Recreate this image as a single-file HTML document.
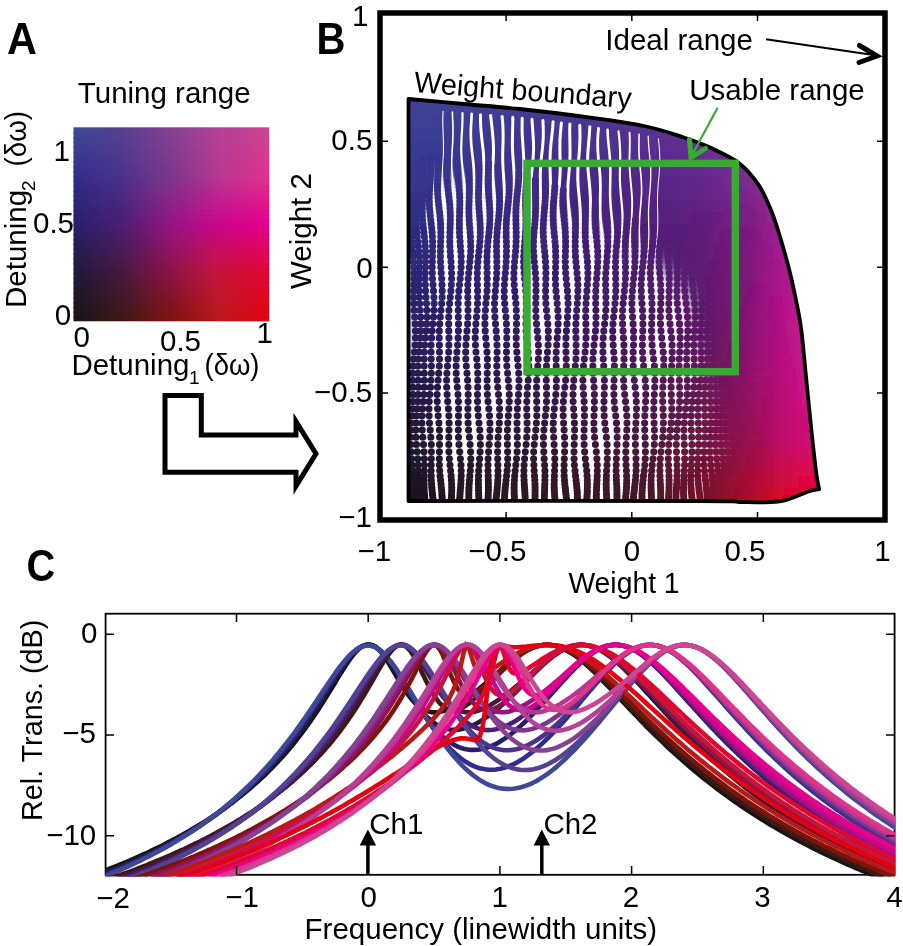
<!DOCTYPE html><html><head><meta charset="utf-8"><style>html,body{margin:0;padding:0;background:#fff;}svg{display:block;will-change:transform}text{font-family:"Liberation Sans", sans-serif;fill:#000}</style></head><body><svg width="903" height="946" viewBox="0 0 903 946"><defs><linearGradient id="ga0" x1="0" x2="1" y1="0" y2="0"><stop offset="0.000" stop-color="#3d4796"/><stop offset="0.125" stop-color="#494393"/><stop offset="0.250" stop-color="#544091"/><stop offset="0.375" stop-color="#6e4091"/><stop offset="0.500" stop-color="#864091"/><stop offset="0.625" stop-color="#9d4093"/><stop offset="0.750" stop-color="#b44096"/><stop offset="0.875" stop-color="#c14393"/><stop offset="1.000" stop-color="#ce4591"/></linearGradient><linearGradient id="ga1" x1="0" x2="1" y1="0" y2="0"><stop offset="0.000" stop-color="#3c4494"/><stop offset="0.125" stop-color="#484192"/><stop offset="0.250" stop-color="#543f90"/><stop offset="0.375" stop-color="#6c3f90"/><stop offset="0.500" stop-color="#864090"/><stop offset="0.625" stop-color="#9d4093"/><stop offset="0.750" stop-color="#b54095"/><stop offset="0.875" stop-color="#c24193"/><stop offset="1.000" stop-color="#d04390"/></linearGradient><linearGradient id="ga2" x1="0" x2="1" y1="0" y2="0"><stop offset="0.000" stop-color="#3b4194"/><stop offset="0.125" stop-color="#473f92"/><stop offset="0.250" stop-color="#523d90"/><stop offset="0.375" stop-color="#6c3e90"/><stop offset="0.500" stop-color="#843e90"/><stop offset="0.625" stop-color="#9d3e92"/><stop offset="0.750" stop-color="#b53e95"/><stop offset="0.875" stop-color="#c44092"/><stop offset="1.000" stop-color="#d24190"/></linearGradient><linearGradient id="ga3" x1="0" x2="1" y1="0" y2="0"><stop offset="0.000" stop-color="#3a3f92"/><stop offset="0.125" stop-color="#463d91"/><stop offset="0.250" stop-color="#523c8f"/><stop offset="0.375" stop-color="#6a3d8f"/><stop offset="0.500" stop-color="#843e8f"/><stop offset="0.625" stop-color="#9d3e92"/><stop offset="0.750" stop-color="#b63e94"/><stop offset="0.875" stop-color="#c53e92"/><stop offset="1.000" stop-color="#d43f8f"/></linearGradient><linearGradient id="ga4" x1="0" x2="1" y1="0" y2="0"><stop offset="0.000" stop-color="#393c92"/><stop offset="0.125" stop-color="#453b90"/><stop offset="0.250" stop-color="#503a8f"/><stop offset="0.375" stop-color="#693b8f"/><stop offset="0.500" stop-color="#823c8f"/><stop offset="0.625" stop-color="#9c3c91"/><stop offset="0.750" stop-color="#b63c94"/><stop offset="0.875" stop-color="#c63d91"/><stop offset="1.000" stop-color="#d63d8f"/></linearGradient><linearGradient id="ga5" x1="0" x2="1" y1="0" y2="0"><stop offset="0.000" stop-color="#373990"/><stop offset="0.125" stop-color="#43398f"/><stop offset="0.250" stop-color="#50398e"/><stop offset="0.375" stop-color="#683a8e"/><stop offset="0.500" stop-color="#823c8e"/><stop offset="0.625" stop-color="#9c3c91"/><stop offset="0.750" stop-color="#b73c93"/><stop offset="0.875" stop-color="#c73b91"/><stop offset="1.000" stop-color="#d83b8e"/></linearGradient><linearGradient id="ga6" x1="0" x2="1" y1="0" y2="0"><stop offset="0.000" stop-color="#363690"/><stop offset="0.125" stop-color="#42378f"/><stop offset="0.250" stop-color="#4e378e"/><stop offset="0.375" stop-color="#68398e"/><stop offset="0.500" stop-color="#803a8e"/><stop offset="0.625" stop-color="#9c3a90"/><stop offset="0.750" stop-color="#b73a93"/><stop offset="0.875" stop-color="#c93a90"/><stop offset="1.000" stop-color="#da398e"/></linearGradient><linearGradient id="ga7" x1="0" x2="1" y1="0" y2="0"><stop offset="0.000" stop-color="#35348e"/><stop offset="0.125" stop-color="#41358e"/><stop offset="0.250" stop-color="#4e368d"/><stop offset="0.375" stop-color="#66388d"/><stop offset="0.500" stop-color="#803a8d"/><stop offset="0.625" stop-color="#9c3a90"/><stop offset="0.750" stop-color="#b83a92"/><stop offset="0.875" stop-color="#ca3890"/><stop offset="1.000" stop-color="#dc378d"/></linearGradient><linearGradient id="ga8" x1="0" x2="1" y1="0" y2="0"><stop offset="0.000" stop-color="#34318e"/><stop offset="0.125" stop-color="#40338d"/><stop offset="0.250" stop-color="#4c348d"/><stop offset="0.375" stop-color="#66368d"/><stop offset="0.500" stop-color="#7e388d"/><stop offset="0.625" stop-color="#9b398f"/><stop offset="0.750" stop-color="#b83892"/><stop offset="0.875" stop-color="#cb378f"/><stop offset="1.000" stop-color="#de358d"/></linearGradient><linearGradient id="ga9" x1="0" x2="1" y1="0" y2="0"><stop offset="0.000" stop-color="#332e8c"/><stop offset="0.125" stop-color="#3f318c"/><stop offset="0.250" stop-color="#4c338c"/><stop offset="0.375" stop-color="#64358c"/><stop offset="0.500" stop-color="#7e378c"/><stop offset="0.625" stop-color="#9b378f"/><stop offset="0.750" stop-color="#b93791"/><stop offset="0.875" stop-color="#cc358f"/><stop offset="1.000" stop-color="#e0338c"/></linearGradient><linearGradient id="ga10" x1="0" x2="1" y1="0" y2="0"><stop offset="0.000" stop-color="#322c8a"/><stop offset="0.125" stop-color="#3e2f8b"/><stop offset="0.250" stop-color="#4b318b"/><stop offset="0.375" stop-color="#65338b"/><stop offset="0.500" stop-color="#7e358c"/><stop offset="0.625" stop-color="#9c358e"/><stop offset="0.750" stop-color="#ba3591"/><stop offset="0.875" stop-color="#ce328e"/><stop offset="1.000" stop-color="#e1308c"/></linearGradient><linearGradient id="ga11" x1="0" x2="1" y1="0" y2="0"><stop offset="0.000" stop-color="#302b88"/><stop offset="0.125" stop-color="#3e2d88"/><stop offset="0.250" stop-color="#4b2f88"/><stop offset="0.375" stop-color="#663089"/><stop offset="0.500" stop-color="#81328a"/><stop offset="0.625" stop-color="#9e318d"/><stop offset="0.750" stop-color="#bc3090"/><stop offset="0.875" stop-color="#cf2d8e"/><stop offset="1.000" stop-color="#e22b8c"/></linearGradient><linearGradient id="ga12" x1="0" x2="1" y1="0" y2="0"><stop offset="0.000" stop-color="#302984"/><stop offset="0.125" stop-color="#3d2b85"/><stop offset="0.250" stop-color="#4b2d86"/><stop offset="0.375" stop-color="#672e88"/><stop offset="0.500" stop-color="#832e8a"/><stop offset="0.625" stop-color="#a12c8d"/><stop offset="0.750" stop-color="#be2a90"/><stop offset="0.875" stop-color="#d0288e"/><stop offset="1.000" stop-color="#e2268c"/></linearGradient><linearGradient id="ga13" x1="0" x2="1" y1="0" y2="0"><stop offset="0.000" stop-color="#2e2882"/><stop offset="0.125" stop-color="#3d2982"/><stop offset="0.250" stop-color="#4b2b83"/><stop offset="0.375" stop-color="#682b86"/><stop offset="0.500" stop-color="#862b88"/><stop offset="0.625" stop-color="#a3288c"/><stop offset="0.750" stop-color="#c0258f"/><stop offset="0.875" stop-color="#d1238e"/><stop offset="1.000" stop-color="#e3208c"/></linearGradient><linearGradient id="ga14" x1="0" x2="1" y1="0" y2="0"><stop offset="0.000" stop-color="#2e267e"/><stop offset="0.125" stop-color="#3c2880"/><stop offset="0.250" stop-color="#4b2981"/><stop offset="0.375" stop-color="#6a2884"/><stop offset="0.500" stop-color="#882788"/><stop offset="0.625" stop-color="#a5248b"/><stop offset="0.750" stop-color="#c2208f"/><stop offset="0.875" stop-color="#d31e8d"/><stop offset="1.000" stop-color="#e31b8c"/></linearGradient><linearGradient id="ga15" x1="0" x2="1" y1="0" y2="0"><stop offset="0.000" stop-color="#2c257c"/><stop offset="0.125" stop-color="#3c267d"/><stop offset="0.250" stop-color="#4b277e"/><stop offset="0.375" stop-color="#6b2582"/><stop offset="0.500" stop-color="#8b2486"/><stop offset="0.625" stop-color="#a7208a"/><stop offset="0.750" stop-color="#c41c8e"/><stop offset="0.875" stop-color="#d4198d"/><stop offset="1.000" stop-color="#e4178c"/></linearGradient><linearGradient id="ga16" x1="0" x2="1" y1="0" y2="0"><stop offset="0.000" stop-color="#2c2378"/><stop offset="0.125" stop-color="#3b247a"/><stop offset="0.250" stop-color="#4b257c"/><stop offset="0.375" stop-color="#6c2381"/><stop offset="0.500" stop-color="#8d2086"/><stop offset="0.625" stop-color="#aa1b8a"/><stop offset="0.750" stop-color="#c6178e"/><stop offset="0.875" stop-color="#d5148d"/><stop offset="1.000" stop-color="#e4128c"/></linearGradient><linearGradient id="ga17" x1="0" x2="1" y1="0" y2="0"><stop offset="0.000" stop-color="#2a2276"/><stop offset="0.125" stop-color="#3b2277"/><stop offset="0.250" stop-color="#4b2379"/><stop offset="0.375" stop-color="#6d207f"/><stop offset="0.500" stop-color="#901d84"/><stop offset="0.625" stop-color="#ac1789"/><stop offset="0.750" stop-color="#c8128d"/><stop offset="0.875" stop-color="#d60f8d"/><stop offset="1.000" stop-color="#e50c8c"/></linearGradient><linearGradient id="ga18" x1="0" x2="1" y1="0" y2="0"><stop offset="0.000" stop-color="#292072"/><stop offset="0.125" stop-color="#3a2175"/><stop offset="0.250" stop-color="#4b2177"/><stop offset="0.375" stop-color="#6f1d7d"/><stop offset="0.500" stop-color="#921984"/><stop offset="0.625" stop-color="#ae1388"/><stop offset="0.750" stop-color="#ca0c8d"/><stop offset="0.875" stop-color="#d80a8c"/><stop offset="1.000" stop-color="#e5078c"/></linearGradient><linearGradient id="ga19" x1="0" x2="1" y1="0" y2="0"><stop offset="0.000" stop-color="#281f6f"/><stop offset="0.125" stop-color="#3a1f72"/><stop offset="0.250" stop-color="#4b1f74"/><stop offset="0.375" stop-color="#701a7b"/><stop offset="0.500" stop-color="#951682"/><stop offset="0.625" stop-color="#b00f87"/><stop offset="0.750" stop-color="#cc078c"/><stop offset="0.875" stop-color="#d9058c"/><stop offset="1.000" stop-color="#e6028c"/></linearGradient><linearGradient id="ga20" x1="0" x2="1" y1="0" y2="0"><stop offset="0.000" stop-color="#281e6c"/><stop offset="0.125" stop-color="#391e6e"/><stop offset="0.250" stop-color="#4b1e70"/><stop offset="0.375" stop-color="#701978"/><stop offset="0.500" stop-color="#96147f"/><stop offset="0.625" stop-color="#b10d84"/><stop offset="0.750" stop-color="#cd0688"/><stop offset="0.875" stop-color="#d90388"/><stop offset="1.000" stop-color="#e60088"/></linearGradient><linearGradient id="ga21" x1="0" x2="1" y1="0" y2="0"><stop offset="0.000" stop-color="#261d67"/><stop offset="0.125" stop-color="#381d69"/><stop offset="0.250" stop-color="#4a1d6b"/><stop offset="0.375" stop-color="#6f1972"/><stop offset="0.500" stop-color="#941479"/><stop offset="0.625" stop-color="#b00e7c"/><stop offset="0.750" stop-color="#cc0780"/><stop offset="0.875" stop-color="#d9047f"/><stop offset="1.000" stop-color="#e5017f"/></linearGradient><linearGradient id="ga22" x1="0" x2="1" y1="0" y2="0"><stop offset="0.000" stop-color="#261d62"/><stop offset="0.125" stop-color="#381d63"/><stop offset="0.250" stop-color="#4a1d65"/><stop offset="0.375" stop-color="#6f186c"/><stop offset="0.500" stop-color="#941473"/><stop offset="0.625" stop-color="#b00e76"/><stop offset="0.750" stop-color="#cc0978"/><stop offset="0.875" stop-color="#d80577"/><stop offset="1.000" stop-color="#e50176"/></linearGradient><linearGradient id="ga23" x1="0" x2="1" y1="0" y2="0"><stop offset="0.000" stop-color="#241c5c"/><stop offset="0.125" stop-color="#371c5e"/><stop offset="0.250" stop-color="#491c60"/><stop offset="0.375" stop-color="#6e1866"/><stop offset="0.500" stop-color="#92146d"/><stop offset="0.625" stop-color="#af0f6e"/><stop offset="0.750" stop-color="#cb0a70"/><stop offset="0.875" stop-color="#d8066e"/><stop offset="1.000" stop-color="#e4026c"/></linearGradient><linearGradient id="ga24" x1="0" x2="1" y1="0" y2="0"><stop offset="0.000" stop-color="#241c57"/><stop offset="0.125" stop-color="#361c59"/><stop offset="0.250" stop-color="#491c5a"/><stop offset="0.375" stop-color="#6d1861"/><stop offset="0.500" stop-color="#921467"/><stop offset="0.625" stop-color="#ae1067"/><stop offset="0.750" stop-color="#cb0c68"/><stop offset="0.875" stop-color="#d70766"/><stop offset="1.000" stop-color="#e40263"/></linearGradient><linearGradient id="ga25" x1="0" x2="1" y1="0" y2="0"><stop offset="0.000" stop-color="#221b52"/><stop offset="0.125" stop-color="#351b54"/><stop offset="0.250" stop-color="#481b55"/><stop offset="0.375" stop-color="#6c185b"/><stop offset="0.500" stop-color="#901461"/><stop offset="0.625" stop-color="#ad1161"/><stop offset="0.750" stop-color="#ca0d60"/><stop offset="0.875" stop-color="#d7085d"/><stop offset="1.000" stop-color="#e3035b"/></linearGradient><linearGradient id="ga26" x1="0" x2="1" y1="0" y2="0"><stop offset="0.000" stop-color="#221b4e"/><stop offset="0.125" stop-color="#351b4e"/><stop offset="0.250" stop-color="#481b4f"/><stop offset="0.375" stop-color="#6c1755"/><stop offset="0.500" stop-color="#90145b"/><stop offset="0.625" stop-color="#ad115a"/><stop offset="0.750" stop-color="#ca0f58"/><stop offset="0.875" stop-color="#d60955"/><stop offset="1.000" stop-color="#e30352"/></linearGradient><linearGradient id="ga27" x1="0" x2="1" y1="0" y2="0"><stop offset="0.000" stop-color="#201a48"/><stop offset="0.125" stop-color="#341a49"/><stop offset="0.250" stop-color="#471a4a"/><stop offset="0.375" stop-color="#6b174f"/><stop offset="0.500" stop-color="#8e1455"/><stop offset="0.625" stop-color="#ac1252"/><stop offset="0.750" stop-color="#c91050"/><stop offset="0.875" stop-color="#d60a4c"/><stop offset="1.000" stop-color="#e20448"/></linearGradient><linearGradient id="ga28" x1="0" x2="1" y1="0" y2="0"><stop offset="0.000" stop-color="#201a44"/><stop offset="0.125" stop-color="#331a44"/><stop offset="0.250" stop-color="#471a44"/><stop offset="0.375" stop-color="#6a174a"/><stop offset="0.500" stop-color="#8e144f"/><stop offset="0.625" stop-color="#ab134c"/><stop offset="0.750" stop-color="#c91248"/><stop offset="0.875" stop-color="#d50b44"/><stop offset="1.000" stop-color="#e2043f"/></linearGradient><linearGradient id="ga29" x1="0" x2="1" y1="0" y2="0"><stop offset="0.000" stop-color="#1e193e"/><stop offset="0.125" stop-color="#32193f"/><stop offset="0.250" stop-color="#46193f"/><stop offset="0.375" stop-color="#691744"/><stop offset="0.500" stop-color="#8c1449"/><stop offset="0.625" stop-color="#aa1444"/><stop offset="0.750" stop-color="#c81340"/><stop offset="0.875" stop-color="#d50c3b"/><stop offset="1.000" stop-color="#e10536"/></linearGradient><linearGradient id="ga30" x1="0" x2="1" y1="0" y2="0"><stop offset="0.000" stop-color="#1e193a"/><stop offset="0.125" stop-color="#32193a"/><stop offset="0.250" stop-color="#46193a"/><stop offset="0.375" stop-color="#68163f"/><stop offset="0.500" stop-color="#8b1443"/><stop offset="0.625" stop-color="#a9143f"/><stop offset="0.750" stop-color="#c7143a"/><stop offset="0.875" stop-color="#d40c35"/><stop offset="1.000" stop-color="#e10530"/></linearGradient><linearGradient id="ga31" x1="0" x2="1" y1="0" y2="0"><stop offset="0.000" stop-color="#1d1836"/><stop offset="0.125" stop-color="#311936"/><stop offset="0.250" stop-color="#441936"/><stop offset="0.375" stop-color="#67163a"/><stop offset="0.500" stop-color="#8a143d"/><stop offset="0.625" stop-color="#a8143a"/><stop offset="0.750" stop-color="#c61537"/><stop offset="0.875" stop-color="#d40c32"/><stop offset="1.000" stop-color="#e2042d"/></linearGradient><linearGradient id="ga32" x1="0" x2="1" y1="0" y2="0"><stop offset="0.000" stop-color="#1d1832"/><stop offset="0.125" stop-color="#301832"/><stop offset="0.250" stop-color="#441932"/><stop offset="0.375" stop-color="#661634"/><stop offset="0.500" stop-color="#881437"/><stop offset="0.625" stop-color="#a61535"/><stop offset="0.750" stop-color="#c41533"/><stop offset="0.875" stop-color="#d30c2e"/><stop offset="1.000" stop-color="#e20429"/></linearGradient><linearGradient id="ga33" x1="0" x2="1" y1="0" y2="0"><stop offset="0.000" stop-color="#1c172e"/><stop offset="0.125" stop-color="#2f182e"/><stop offset="0.250" stop-color="#42192e"/><stop offset="0.375" stop-color="#651630"/><stop offset="0.500" stop-color="#871431"/><stop offset="0.625" stop-color="#a51530"/><stop offset="0.750" stop-color="#c31630"/><stop offset="0.875" stop-color="#d30c2b"/><stop offset="1.000" stop-color="#e30326"/></linearGradient><linearGradient id="ga34" x1="0" x2="1" y1="0" y2="0"><stop offset="0.000" stop-color="#1c172a"/><stop offset="0.125" stop-color="#2f182a"/><stop offset="0.250" stop-color="#42192a"/><stop offset="0.375" stop-color="#63162a"/><stop offset="0.500" stop-color="#85142b"/><stop offset="0.625" stop-color="#a3152c"/><stop offset="0.750" stop-color="#c1162c"/><stop offset="0.875" stop-color="#d20c27"/><stop offset="1.000" stop-color="#e30322"/></linearGradient><linearGradient id="ga35" x1="0" x2="1" y1="0" y2="0"><stop offset="0.000" stop-color="#1b1626"/><stop offset="0.125" stop-color="#2e1826"/><stop offset="0.250" stop-color="#401926"/><stop offset="0.375" stop-color="#621626"/><stop offset="0.500" stop-color="#841425"/><stop offset="0.625" stop-color="#a21527"/><stop offset="0.750" stop-color="#c01729"/><stop offset="0.875" stop-color="#d20c24"/><stop offset="1.000" stop-color="#e4021f"/></linearGradient><linearGradient id="ga36" x1="0" x2="1" y1="0" y2="0"><stop offset="0.000" stop-color="#1b1622"/><stop offset="0.125" stop-color="#2d1722"/><stop offset="0.250" stop-color="#401922"/><stop offset="0.375" stop-color="#611620"/><stop offset="0.500" stop-color="#82141f"/><stop offset="0.625" stop-color="#a01622"/><stop offset="0.750" stop-color="#be1725"/><stop offset="0.875" stop-color="#d10c20"/><stop offset="1.000" stop-color="#e4021b"/></linearGradient><linearGradient id="ga37" x1="0" x2="1" y1="0" y2="0"><stop offset="0.000" stop-color="#1a151e"/><stop offset="0.125" stop-color="#2c171e"/><stop offset="0.250" stop-color="#3e191e"/><stop offset="0.375" stop-color="#60161c"/><stop offset="0.500" stop-color="#811419"/><stop offset="0.625" stop-color="#9f161d"/><stop offset="0.750" stop-color="#bd1822"/><stop offset="0.875" stop-color="#d10c1d"/><stop offset="1.000" stop-color="#e50118"/></linearGradient><linearGradient id="ga38" x1="0" x2="1" y1="0" y2="0"><stop offset="0.000" stop-color="#1a151a"/><stop offset="0.125" stop-color="#2c171a"/><stop offset="0.250" stop-color="#3e191a"/><stop offset="0.375" stop-color="#5e1616"/><stop offset="0.500" stop-color="#7f1413"/><stop offset="0.625" stop-color="#9d1619"/><stop offset="0.750" stop-color="#bb181e"/><stop offset="0.875" stop-color="#d00c19"/><stop offset="1.000" stop-color="#e50114"/></linearGradient><linearGradient id="ga39" x1="0" x2="1" y1="0" y2="0"><stop offset="0.000" stop-color="#191416"/><stop offset="0.125" stop-color="#2b1716"/><stop offset="0.250" stop-color="#3c1916"/><stop offset="0.375" stop-color="#5d1611"/><stop offset="0.500" stop-color="#7e140d"/><stop offset="0.625" stop-color="#9c1614"/><stop offset="0.750" stop-color="#ba191b"/><stop offset="0.875" stop-color="#d00c16"/><stop offset="1.000" stop-color="#e60011"/></linearGradient><clipPath id="clipB"><path d="M408.5 99.0 C417.8 99.8 445.4 102.3 464.0 104.0 C482.6 105.7 500.3 106.9 520.0 109.0 C539.7 111.1 561.3 113.7 582.0 116.5 C602.7 119.3 627.3 122.6 644.0 126.0 C660.7 129.4 671.3 133.4 682.3 137.0 C693.3 140.6 700.5 143.1 710.0 147.5 C719.5 151.9 731.3 157.2 739.4 163.4 C747.5 169.6 753.1 176.8 758.4 184.6 C763.7 192.4 767.2 200.8 771.0 210.0 C774.8 219.2 777.8 229.5 781.0 240.0 C784.2 250.5 787.3 262.2 790.0 273.0 C792.7 283.8 795.1 295.4 797.0 305.0 C798.9 314.6 799.8 318.0 801.4 330.7 C803.0 343.4 804.8 364.5 806.5 381.4 C808.2 398.3 809.9 416.6 811.6 432.2 C813.3 447.8 815.2 465.5 816.5 475.0 C817.8 484.5 818.8 486.8 819.2 489.2 C817.7 489.5 813.9 489.8 810.0 491.0 C806.1 492.2 800.4 494.9 796.0 496.5 C791.6 498.1 788.9 499.6 783.7 500.6 C778.5 501.6 772.3 502.1 765.0 502.3 C757.7 502.5 750.8 502.2 740.0 502.0 C729.2 501.8 755.2 501.2 700.0 501.0 C644.8 500.8 457.1 501.0 408.5 501.0 Z"/></clipPath><linearGradient id="gb0" gradientUnits="userSpaceOnUse" x1="400" x2="830" y1="0" y2="0"><stop offset="0.000" stop-color="#3e4496"/><stop offset="0.059" stop-color="#3e4396"/><stop offset="0.118" stop-color="#3f4295"/><stop offset="0.176" stop-color="#404094"/><stop offset="0.235" stop-color="#423f94"/><stop offset="0.294" stop-color="#453e94"/><stop offset="0.353" stop-color="#473c94"/><stop offset="0.412" stop-color="#4b3b94"/><stop offset="0.471" stop-color="#503a94"/><stop offset="0.529" stop-color="#563994"/><stop offset="0.588" stop-color="#5c3894"/><stop offset="0.647" stop-color="#633795"/><stop offset="0.706" stop-color="#6a3796"/><stop offset="0.765" stop-color="#753997"/><stop offset="0.824" stop-color="#803b98"/><stop offset="0.882" stop-color="#8f3f9a"/><stop offset="0.941" stop-color="#9a419b"/><stop offset="1.000" stop-color="#a0419b"/></linearGradient><linearGradient id="gb1" gradientUnits="userSpaceOnUse" x1="400" x2="830" y1="0" y2="0"><stop offset="0.000" stop-color="#3d4295"/><stop offset="0.059" stop-color="#3d4195"/><stop offset="0.118" stop-color="#3e4094"/><stop offset="0.176" stop-color="#3f3e93"/><stop offset="0.235" stop-color="#413d93"/><stop offset="0.294" stop-color="#433b93"/><stop offset="0.353" stop-color="#463a93"/><stop offset="0.412" stop-color="#4a3993"/><stop offset="0.471" stop-color="#4f3793"/><stop offset="0.529" stop-color="#543693"/><stop offset="0.588" stop-color="#5b3693"/><stop offset="0.647" stop-color="#623594"/><stop offset="0.706" stop-color="#6a3595"/><stop offset="0.765" stop-color="#743796"/><stop offset="0.824" stop-color="#7f3998"/><stop offset="0.882" stop-color="#8f3e9a"/><stop offset="0.941" stop-color="#9a419b"/><stop offset="1.000" stop-color="#a0419b"/></linearGradient><linearGradient id="gb2" gradientUnits="userSpaceOnUse" x1="400" x2="830" y1="0" y2="0"><stop offset="0.000" stop-color="#3b4094"/><stop offset="0.059" stop-color="#3c3f94"/><stop offset="0.118" stop-color="#3d3d93"/><stop offset="0.176" stop-color="#3e3c92"/><stop offset="0.235" stop-color="#403a92"/><stop offset="0.294" stop-color="#423891"/><stop offset="0.353" stop-color="#453791"/><stop offset="0.412" stop-color="#493691"/><stop offset="0.471" stop-color="#4e3591"/><stop offset="0.529" stop-color="#533491"/><stop offset="0.588" stop-color="#593392"/><stop offset="0.647" stop-color="#613393"/><stop offset="0.706" stop-color="#693394"/><stop offset="0.765" stop-color="#733596"/><stop offset="0.824" stop-color="#7f3898"/><stop offset="0.882" stop-color="#8f3e9a"/><stop offset="0.941" stop-color="#9a409b"/><stop offset="1.000" stop-color="#a0419b"/></linearGradient><linearGradient id="gb3" gradientUnits="userSpaceOnUse" x1="400" x2="830" y1="0" y2="0"><stop offset="0.000" stop-color="#3a3e93"/><stop offset="0.059" stop-color="#3b3d93"/><stop offset="0.118" stop-color="#3b3b92"/><stop offset="0.176" stop-color="#3c3991"/><stop offset="0.235" stop-color="#3f3890"/><stop offset="0.294" stop-color="#413690"/><stop offset="0.353" stop-color="#433490"/><stop offset="0.412" stop-color="#48338f"/><stop offset="0.471" stop-color="#4d328f"/><stop offset="0.529" stop-color="#52318f"/><stop offset="0.588" stop-color="#583190"/><stop offset="0.647" stop-color="#603191"/><stop offset="0.706" stop-color="#683193"/><stop offset="0.765" stop-color="#723395"/><stop offset="0.824" stop-color="#7e3697"/><stop offset="0.882" stop-color="#8f3d9a"/><stop offset="0.941" stop-color="#9a409b"/><stop offset="1.000" stop-color="#a0419b"/></linearGradient><linearGradient id="gb4" gradientUnits="userSpaceOnUse" x1="400" x2="830" y1="0" y2="0"><stop offset="0.000" stop-color="#393c92"/><stop offset="0.059" stop-color="#393b92"/><stop offset="0.118" stop-color="#3a3991"/><stop offset="0.176" stop-color="#3b3790"/><stop offset="0.235" stop-color="#3d358f"/><stop offset="0.294" stop-color="#40338e"/><stop offset="0.353" stop-color="#42318e"/><stop offset="0.412" stop-color="#46308e"/><stop offset="0.471" stop-color="#4b308e"/><stop offset="0.529" stop-color="#512f8e"/><stop offset="0.588" stop-color="#572f8f"/><stop offset="0.647" stop-color="#5f2f90"/><stop offset="0.706" stop-color="#672f92"/><stop offset="0.765" stop-color="#723294"/><stop offset="0.824" stop-color="#7e3597"/><stop offset="0.882" stop-color="#8f3c9a"/><stop offset="0.941" stop-color="#9a409b"/><stop offset="1.000" stop-color="#a0419b"/></linearGradient><linearGradient id="gb5" gradientUnits="userSpaceOnUse" x1="400" x2="830" y1="0" y2="0"><stop offset="0.000" stop-color="#373a91"/><stop offset="0.059" stop-color="#383990"/><stop offset="0.118" stop-color="#39378f"/><stop offset="0.176" stop-color="#3a358e"/><stop offset="0.235" stop-color="#3c338e"/><stop offset="0.294" stop-color="#3e308d"/><stop offset="0.353" stop-color="#412e8c"/><stop offset="0.412" stop-color="#452d8c"/><stop offset="0.471" stop-color="#4a2d8c"/><stop offset="0.529" stop-color="#502d8c"/><stop offset="0.588" stop-color="#562c8d"/><stop offset="0.647" stop-color="#5e2c8f"/><stop offset="0.706" stop-color="#662d91"/><stop offset="0.765" stop-color="#713094"/><stop offset="0.824" stop-color="#7d3397"/><stop offset="0.882" stop-color="#8f3b9a"/><stop offset="0.941" stop-color="#9a3f9b"/><stop offset="1.000" stop-color="#a0419b"/></linearGradient><linearGradient id="gb6" gradientUnits="userSpaceOnUse" x1="400" x2="830" y1="0" y2="0"><stop offset="0.000" stop-color="#36388f"/><stop offset="0.059" stop-color="#37378e"/><stop offset="0.118" stop-color="#38358d"/><stop offset="0.176" stop-color="#39338c"/><stop offset="0.235" stop-color="#3b308b"/><stop offset="0.294" stop-color="#3d2e8a"/><stop offset="0.353" stop-color="#402c8a"/><stop offset="0.412" stop-color="#442b89"/><stop offset="0.471" stop-color="#492b89"/><stop offset="0.529" stop-color="#4f2a89"/><stop offset="0.588" stop-color="#552a8a"/><stop offset="0.647" stop-color="#5d2a8c"/><stop offset="0.706" stop-color="#652a8e"/><stop offset="0.765" stop-color="#712c90"/><stop offset="0.824" stop-color="#7e3094"/><stop offset="0.882" stop-color="#913798"/><stop offset="0.941" stop-color="#9d3c9b"/><stop offset="1.000" stop-color="#a4409c"/></linearGradient><linearGradient id="gb7" gradientUnits="userSpaceOnUse" x1="400" x2="830" y1="0" y2="0"><stop offset="0.000" stop-color="#35368c"/><stop offset="0.059" stop-color="#36358c"/><stop offset="0.118" stop-color="#37338a"/><stop offset="0.176" stop-color="#383189"/><stop offset="0.235" stop-color="#3a2e88"/><stop offset="0.294" stop-color="#3c2c87"/><stop offset="0.353" stop-color="#3f2a87"/><stop offset="0.412" stop-color="#432986"/><stop offset="0.471" stop-color="#482986"/><stop offset="0.529" stop-color="#4e2886"/><stop offset="0.588" stop-color="#542887"/><stop offset="0.647" stop-color="#5c2888"/><stop offset="0.706" stop-color="#64278a"/><stop offset="0.765" stop-color="#71298d"/><stop offset="0.824" stop-color="#7e2b90"/><stop offset="0.882" stop-color="#933397"/><stop offset="0.941" stop-color="#a1399b"/><stop offset="1.000" stop-color="#a83f9d"/></linearGradient><linearGradient id="gb8" gradientUnits="userSpaceOnUse" x1="400" x2="830" y1="0" y2="0"><stop offset="0.000" stop-color="#34348a"/><stop offset="0.059" stop-color="#343289"/><stop offset="0.118" stop-color="#363088"/><stop offset="0.176" stop-color="#372e86"/><stop offset="0.235" stop-color="#392c85"/><stop offset="0.294" stop-color="#3b2a85"/><stop offset="0.353" stop-color="#3e2884"/><stop offset="0.412" stop-color="#422783"/><stop offset="0.471" stop-color="#472783"/><stop offset="0.529" stop-color="#4d2682"/><stop offset="0.588" stop-color="#532583"/><stop offset="0.647" stop-color="#5b2585"/><stop offset="0.706" stop-color="#632587"/><stop offset="0.765" stop-color="#702589"/><stop offset="0.824" stop-color="#7f278d"/><stop offset="0.882" stop-color="#962e95"/><stop offset="0.941" stop-color="#a4369a"/><stop offset="1.000" stop-color="#ac3f9d"/></linearGradient><linearGradient id="gb9" gradientUnits="userSpaceOnUse" x1="400" x2="830" y1="0" y2="0"><stop offset="0.000" stop-color="#323187"/><stop offset="0.059" stop-color="#333086"/><stop offset="0.118" stop-color="#352e85"/><stop offset="0.176" stop-color="#362c84"/><stop offset="0.235" stop-color="#382a83"/><stop offset="0.294" stop-color="#3b2882"/><stop offset="0.353" stop-color="#3d2681"/><stop offset="0.412" stop-color="#412580"/><stop offset="0.471" stop-color="#46257f"/><stop offset="0.529" stop-color="#4c247f"/><stop offset="0.588" stop-color="#522380"/><stop offset="0.647" stop-color="#5a2381"/><stop offset="0.706" stop-color="#632283"/><stop offset="0.765" stop-color="#702286"/><stop offset="0.824" stop-color="#802389"/><stop offset="0.882" stop-color="#992993"/><stop offset="0.941" stop-color="#a8339a"/><stop offset="1.000" stop-color="#b03e9e"/></linearGradient><linearGradient id="gb10" gradientUnits="userSpaceOnUse" x1="400" x2="830" y1="0" y2="0"><stop offset="0.000" stop-color="#312f85"/><stop offset="0.059" stop-color="#322e84"/><stop offset="0.118" stop-color="#332c82"/><stop offset="0.176" stop-color="#352a81"/><stop offset="0.235" stop-color="#372880"/><stop offset="0.294" stop-color="#3a267f"/><stop offset="0.353" stop-color="#3c257d"/><stop offset="0.412" stop-color="#40237d"/><stop offset="0.471" stop-color="#45227c"/><stop offset="0.529" stop-color="#4b227c"/><stop offset="0.588" stop-color="#51217c"/><stop offset="0.647" stop-color="#59207e"/><stop offset="0.706" stop-color="#621f80"/><stop offset="0.765" stop-color="#701e82"/><stop offset="0.824" stop-color="#811e86"/><stop offset="0.882" stop-color="#9b2592"/><stop offset="0.941" stop-color="#ac2f9a"/><stop offset="1.000" stop-color="#b53d9f"/></linearGradient><linearGradient id="gb11" gradientUnits="userSpaceOnUse" x1="400" x2="830" y1="0" y2="0"><stop offset="0.000" stop-color="#302d82"/><stop offset="0.059" stop-color="#312c81"/><stop offset="0.118" stop-color="#322a80"/><stop offset="0.176" stop-color="#34287e"/><stop offset="0.235" stop-color="#36267d"/><stop offset="0.294" stop-color="#39257c"/><stop offset="0.353" stop-color="#3b237a"/><stop offset="0.412" stop-color="#3f217a"/><stop offset="0.471" stop-color="#442079"/><stop offset="0.529" stop-color="#4a1f78"/><stop offset="0.588" stop-color="#501f79"/><stop offset="0.647" stop-color="#581e7b"/><stop offset="0.706" stop-color="#611d7c"/><stop offset="0.765" stop-color="#701b7e"/><stop offset="0.824" stop-color="#821a82"/><stop offset="0.882" stop-color="#9e2090"/><stop offset="0.941" stop-color="#b02c9a"/><stop offset="1.000" stop-color="#b93ca0"/></linearGradient><linearGradient id="gb12" gradientUnits="userSpaceOnUse" x1="400" x2="830" y1="0" y2="0"><stop offset="0.000" stop-color="#2f2b7f"/><stop offset="0.059" stop-color="#302a7e"/><stop offset="0.118" stop-color="#31287c"/><stop offset="0.176" stop-color="#33277a"/><stop offset="0.235" stop-color="#352579"/><stop offset="0.294" stop-color="#382378"/><stop offset="0.353" stop-color="#3a2277"/><stop offset="0.412" stop-color="#3f2076"/><stop offset="0.471" stop-color="#442075"/><stop offset="0.529" stop-color="#491f75"/><stop offset="0.588" stop-color="#4f1e76"/><stop offset="0.647" stop-color="#581d78"/><stop offset="0.706" stop-color="#611c7a"/><stop offset="0.765" stop-color="#711a7c"/><stop offset="0.824" stop-color="#831981"/><stop offset="0.882" stop-color="#a11e8e"/><stop offset="0.941" stop-color="#b32998"/><stop offset="1.000" stop-color="#bd399f"/></linearGradient><linearGradient id="gb13" gradientUnits="userSpaceOnUse" x1="400" x2="830" y1="0" y2="0"><stop offset="0.000" stop-color="#2e2a7b"/><stop offset="0.059" stop-color="#2f287a"/><stop offset="0.118" stop-color="#302778"/><stop offset="0.176" stop-color="#322577"/><stop offset="0.235" stop-color="#342375"/><stop offset="0.294" stop-color="#372274"/><stop offset="0.353" stop-color="#392073"/><stop offset="0.412" stop-color="#3e1f72"/><stop offset="0.471" stop-color="#431f72"/><stop offset="0.529" stop-color="#481e71"/><stop offset="0.588" stop-color="#4f1d72"/><stop offset="0.647" stop-color="#571d75"/><stop offset="0.706" stop-color="#601c77"/><stop offset="0.765" stop-color="#71197a"/><stop offset="0.824" stop-color="#84187f"/><stop offset="0.882" stop-color="#a41b8d"/><stop offset="0.941" stop-color="#b72697"/><stop offset="1.000" stop-color="#c2379e"/></linearGradient><linearGradient id="gb14" gradientUnits="userSpaceOnUse" x1="400" x2="830" y1="0" y2="0"><stop offset="0.000" stop-color="#2d2878"/><stop offset="0.059" stop-color="#2e2777"/><stop offset="0.118" stop-color="#2f2575"/><stop offset="0.176" stop-color="#312373"/><stop offset="0.235" stop-color="#332272"/><stop offset="0.294" stop-color="#362170"/><stop offset="0.353" stop-color="#391f6f"/><stop offset="0.412" stop-color="#3d1e6e"/><stop offset="0.471" stop-color="#421e6e"/><stop offset="0.529" stop-color="#471d6e"/><stop offset="0.588" stop-color="#4e1d6f"/><stop offset="0.647" stop-color="#561c72"/><stop offset="0.706" stop-color="#601c74"/><stop offset="0.765" stop-color="#711978"/><stop offset="0.824" stop-color="#85177d"/><stop offset="0.882" stop-color="#a6188b"/><stop offset="0.941" stop-color="#bb2395"/><stop offset="1.000" stop-color="#c6349d"/></linearGradient><linearGradient id="gb15" gradientUnits="userSpaceOnUse" x1="400" x2="830" y1="0" y2="0"><stop offset="0.000" stop-color="#2c2674"/><stop offset="0.059" stop-color="#2d2573"/><stop offset="0.118" stop-color="#2e2371"/><stop offset="0.176" stop-color="#30216f"/><stop offset="0.235" stop-color="#32206e"/><stop offset="0.294" stop-color="#351f6d"/><stop offset="0.353" stop-color="#381e6b"/><stop offset="0.412" stop-color="#3c1e6b"/><stop offset="0.471" stop-color="#411d6b"/><stop offset="0.529" stop-color="#471d6a"/><stop offset="0.588" stop-color="#4e1c6c"/><stop offset="0.647" stop-color="#561c6f"/><stop offset="0.706" stop-color="#5f1b72"/><stop offset="0.765" stop-color="#711876"/><stop offset="0.824" stop-color="#86167b"/><stop offset="0.882" stop-color="#a91589"/><stop offset="0.941" stop-color="#be2094"/><stop offset="1.000" stop-color="#ca329d"/></linearGradient><linearGradient id="gb16" gradientUnits="userSpaceOnUse" x1="400" x2="830" y1="0" y2="0"><stop offset="0.000" stop-color="#2b2471"/><stop offset="0.059" stop-color="#2c2370"/><stop offset="0.118" stop-color="#2d216e"/><stop offset="0.176" stop-color="#2f206b"/><stop offset="0.235" stop-color="#311f6a"/><stop offset="0.294" stop-color="#341e69"/><stop offset="0.353" stop-color="#371d68"/><stop offset="0.412" stop-color="#3b1d67"/><stop offset="0.471" stop-color="#411c67"/><stop offset="0.529" stop-color="#461c67"/><stop offset="0.588" stop-color="#4d1c68"/><stop offset="0.647" stop-color="#551b6c"/><stop offset="0.706" stop-color="#5f1b6f"/><stop offset="0.765" stop-color="#721774"/><stop offset="0.824" stop-color="#87147a"/><stop offset="0.882" stop-color="#ac1388"/><stop offset="0.941" stop-color="#c21d93"/><stop offset="1.000" stop-color="#ce2f9c"/></linearGradient><linearGradient id="gb17" gradientUnits="userSpaceOnUse" x1="400" x2="830" y1="0" y2="0"><stop offset="0.000" stop-color="#2a236d"/><stop offset="0.059" stop-color="#2b226c"/><stop offset="0.118" stop-color="#2c206a"/><stop offset="0.176" stop-color="#2e1e68"/><stop offset="0.235" stop-color="#301d66"/><stop offset="0.294" stop-color="#331d65"/><stop offset="0.353" stop-color="#361c64"/><stop offset="0.412" stop-color="#3b1c64"/><stop offset="0.471" stop-color="#401b64"/><stop offset="0.529" stop-color="#451b64"/><stop offset="0.588" stop-color="#4c1b65"/><stop offset="0.647" stop-color="#551b69"/><stop offset="0.706" stop-color="#5f1a6c"/><stop offset="0.765" stop-color="#721771"/><stop offset="0.824" stop-color="#881378"/><stop offset="0.882" stop-color="#ae1086"/><stop offset="0.941" stop-color="#c51a91"/><stop offset="1.000" stop-color="#d22d9b"/></linearGradient><linearGradient id="gb18" gradientUnits="userSpaceOnUse" x1="400" x2="830" y1="0" y2="0"><stop offset="0.000" stop-color="#292268"/><stop offset="0.059" stop-color="#2a2167"/><stop offset="0.118" stop-color="#2c1f65"/><stop offset="0.176" stop-color="#2d1d64"/><stop offset="0.235" stop-color="#301d62"/><stop offset="0.294" stop-color="#331c62"/><stop offset="0.353" stop-color="#361b61"/><stop offset="0.412" stop-color="#3b1b61"/><stop offset="0.471" stop-color="#411b61"/><stop offset="0.529" stop-color="#461a61"/><stop offset="0.588" stop-color="#4d1a63"/><stop offset="0.647" stop-color="#551a66"/><stop offset="0.706" stop-color="#5f1a69"/><stop offset="0.765" stop-color="#73166f"/><stop offset="0.824" stop-color="#8a1376"/><stop offset="0.882" stop-color="#af1084"/><stop offset="0.941" stop-color="#c61990"/><stop offset="1.000" stop-color="#d22b9a"/></linearGradient><linearGradient id="gb19" gradientUnits="userSpaceOnUse" x1="400" x2="830" y1="0" y2="0"><stop offset="0.000" stop-color="#292064"/><stop offset="0.059" stop-color="#292063"/><stop offset="0.118" stop-color="#2b1e61"/><stop offset="0.176" stop-color="#2c1d5f"/><stop offset="0.235" stop-color="#2f1c5f"/><stop offset="0.294" stop-color="#331b5e"/><stop offset="0.353" stop-color="#361b5d"/><stop offset="0.412" stop-color="#3b1a5e"/><stop offset="0.471" stop-color="#411a5e"/><stop offset="0.529" stop-color="#471a5f"/><stop offset="0.588" stop-color="#4e1a61"/><stop offset="0.647" stop-color="#561a63"/><stop offset="0.706" stop-color="#601966"/><stop offset="0.765" stop-color="#74166d"/><stop offset="0.824" stop-color="#8c1375"/><stop offset="0.882" stop-color="#b00f82"/><stop offset="0.941" stop-color="#c7188e"/><stop offset="1.000" stop-color="#d22999"/></linearGradient><linearGradient id="gb20" gradientUnits="userSpaceOnUse" x1="400" x2="830" y1="0" y2="0"><stop offset="0.000" stop-color="#281f5f"/><stop offset="0.059" stop-color="#291e5e"/><stop offset="0.118" stop-color="#2a1d5d"/><stop offset="0.176" stop-color="#2c1c5b"/><stop offset="0.235" stop-color="#2f1b5b"/><stop offset="0.294" stop-color="#331b5b"/><stop offset="0.353" stop-color="#361a5a"/><stop offset="0.412" stop-color="#3c1a5b"/><stop offset="0.471" stop-color="#41195c"/><stop offset="0.529" stop-color="#47195d"/><stop offset="0.588" stop-color="#4e195f"/><stop offset="0.647" stop-color="#561961"/><stop offset="0.706" stop-color="#601963"/><stop offset="0.765" stop-color="#75166a"/><stop offset="0.824" stop-color="#8d1273"/><stop offset="0.882" stop-color="#b20f81"/><stop offset="0.941" stop-color="#c7178d"/><stop offset="1.000" stop-color="#d22898"/></linearGradient><linearGradient id="gb21" gradientUnits="userSpaceOnUse" x1="400" x2="830" y1="0" y2="0"><stop offset="0.000" stop-color="#271e5a"/><stop offset="0.059" stop-color="#281d59"/><stop offset="0.118" stop-color="#291c58"/><stop offset="0.176" stop-color="#2b1b57"/><stop offset="0.235" stop-color="#2e1b57"/><stop offset="0.294" stop-color="#321a57"/><stop offset="0.353" stop-color="#361957"/><stop offset="0.412" stop-color="#3c1958"/><stop offset="0.471" stop-color="#421959"/><stop offset="0.529" stop-color="#48185b"/><stop offset="0.588" stop-color="#4f185c"/><stop offset="0.647" stop-color="#57195e"/><stop offset="0.706" stop-color="#611860"/><stop offset="0.765" stop-color="#771568"/><stop offset="0.824" stop-color="#8f1271"/><stop offset="0.882" stop-color="#b30e7f"/><stop offset="0.941" stop-color="#c8168c"/><stop offset="1.000" stop-color="#d22697"/></linearGradient><linearGradient id="gb22" gradientUnits="userSpaceOnUse" x1="400" x2="830" y1="0" y2="0"><stop offset="0.000" stop-color="#261d55"/><stop offset="0.059" stop-color="#271c55"/><stop offset="0.118" stop-color="#291b54"/><stop offset="0.176" stop-color="#2a1b53"/><stop offset="0.235" stop-color="#2e1a53"/><stop offset="0.294" stop-color="#321954"/><stop offset="0.353" stop-color="#371954"/><stop offset="0.412" stop-color="#3c1855"/><stop offset="0.471" stop-color="#421857"/><stop offset="0.529" stop-color="#491859"/><stop offset="0.588" stop-color="#4f185a"/><stop offset="0.647" stop-color="#57185b"/><stop offset="0.706" stop-color="#61185d"/><stop offset="0.765" stop-color="#781566"/><stop offset="0.824" stop-color="#91126f"/><stop offset="0.882" stop-color="#b40e7d"/><stop offset="0.941" stop-color="#c8158a"/><stop offset="1.000" stop-color="#d22497"/></linearGradient><linearGradient id="gb23" gradientUnits="userSpaceOnUse" x1="400" x2="830" y1="0" y2="0"><stop offset="0.000" stop-color="#261c50"/><stop offset="0.059" stop-color="#271b50"/><stop offset="0.118" stop-color="#281b4f"/><stop offset="0.176" stop-color="#2a1a4e"/><stop offset="0.235" stop-color="#2d194f"/><stop offset="0.294" stop-color="#321950"/><stop offset="0.353" stop-color="#361850"/><stop offset="0.412" stop-color="#3c1852"/><stop offset="0.471" stop-color="#421754"/><stop offset="0.529" stop-color="#491756"/><stop offset="0.588" stop-color="#501757"/><stop offset="0.647" stop-color="#581858"/><stop offset="0.706" stop-color="#62175a"/><stop offset="0.765" stop-color="#791463"/><stop offset="0.824" stop-color="#92116d"/><stop offset="0.882" stop-color="#b50d7b"/><stop offset="0.941" stop-color="#c91488"/><stop offset="1.000" stop-color="#d22295"/></linearGradient><linearGradient id="gb24" gradientUnits="userSpaceOnUse" x1="400" x2="830" y1="0" y2="0"><stop offset="0.000" stop-color="#251b4b"/><stop offset="0.059" stop-color="#261a4b"/><stop offset="0.118" stop-color="#271a4a"/><stop offset="0.176" stop-color="#291949"/><stop offset="0.235" stop-color="#2d194a"/><stop offset="0.294" stop-color="#31184b"/><stop offset="0.353" stop-color="#35184b"/><stop offset="0.412" stop-color="#3b174d"/><stop offset="0.471" stop-color="#41174f"/><stop offset="0.529" stop-color="#481751"/><stop offset="0.588" stop-color="#501753"/><stop offset="0.647" stop-color="#591753"/><stop offset="0.706" stop-color="#641756"/><stop offset="0.765" stop-color="#7b145e"/><stop offset="0.824" stop-color="#941168"/><stop offset="0.882" stop-color="#b60d77"/><stop offset="0.941" stop-color="#ca1385"/><stop offset="1.000" stop-color="#d32091"/></linearGradient><linearGradient id="gb25" gradientUnits="userSpaceOnUse" x1="400" x2="830" y1="0" y2="0"><stop offset="0.000" stop-color="#241a46"/><stop offset="0.059" stop-color="#251946"/><stop offset="0.118" stop-color="#271945"/><stop offset="0.176" stop-color="#281844"/><stop offset="0.235" stop-color="#2c1845"/><stop offset="0.294" stop-color="#301846"/><stop offset="0.353" stop-color="#341747"/><stop offset="0.412" stop-color="#3a1748"/><stop offset="0.471" stop-color="#41174a"/><stop offset="0.529" stop-color="#47174d"/><stop offset="0.588" stop-color="#50174e"/><stop offset="0.647" stop-color="#5a174f"/><stop offset="0.706" stop-color="#661751"/><stop offset="0.765" stop-color="#7d145a"/><stop offset="0.824" stop-color="#951163"/><stop offset="0.882" stop-color="#b70d73"/><stop offset="0.941" stop-color="#cb1281"/><stop offset="1.000" stop-color="#d41d8e"/></linearGradient><linearGradient id="gb26" gradientUnits="userSpaceOnUse" x1="400" x2="830" y1="0" y2="0"><stop offset="0.000" stop-color="#231941"/><stop offset="0.059" stop-color="#241840"/><stop offset="0.118" stop-color="#261840"/><stop offset="0.176" stop-color="#27183f"/><stop offset="0.235" stop-color="#2b1740"/><stop offset="0.294" stop-color="#2f1741"/><stop offset="0.353" stop-color="#331742"/><stop offset="0.412" stop-color="#391744"/><stop offset="0.471" stop-color="#401746"/><stop offset="0.529" stop-color="#461648"/><stop offset="0.588" stop-color="#4f174a"/><stop offset="0.647" stop-color="#5b174b"/><stop offset="0.706" stop-color="#67164d"/><stop offset="0.765" stop-color="#7e1355"/><stop offset="0.824" stop-color="#97105f"/><stop offset="0.882" stop-color="#b80c70"/><stop offset="0.941" stop-color="#cb117e"/><stop offset="1.000" stop-color="#d51a8b"/></linearGradient><linearGradient id="gb27" gradientUnits="userSpaceOnUse" x1="400" x2="830" y1="0" y2="0"><stop offset="0.000" stop-color="#22183c"/><stop offset="0.059" stop-color="#23173b"/><stop offset="0.118" stop-color="#25173b"/><stop offset="0.176" stop-color="#27173a"/><stop offset="0.235" stop-color="#2a173b"/><stop offset="0.294" stop-color="#2e173c"/><stop offset="0.353" stop-color="#32173d"/><stop offset="0.412" stop-color="#38163f"/><stop offset="0.471" stop-color="#3f1641"/><stop offset="0.529" stop-color="#461644"/><stop offset="0.588" stop-color="#4f1645"/><stop offset="0.647" stop-color="#5c1646"/><stop offset="0.706" stop-color="#691649"/><stop offset="0.765" stop-color="#801351"/><stop offset="0.824" stop-color="#99105a"/><stop offset="0.882" stop-color="#b90c6c"/><stop offset="0.941" stop-color="#cc0f7a"/><stop offset="1.000" stop-color="#d61887"/></linearGradient><linearGradient id="gb28" gradientUnits="userSpaceOnUse" x1="400" x2="830" y1="0" y2="0"><stop offset="0.000" stop-color="#211737"/><stop offset="0.059" stop-color="#231636"/><stop offset="0.118" stop-color="#241635"/><stop offset="0.176" stop-color="#261635"/><stop offset="0.235" stop-color="#2a1636"/><stop offset="0.294" stop-color="#2d1637"/><stop offset="0.353" stop-color="#311638"/><stop offset="0.412" stop-color="#37163a"/><stop offset="0.471" stop-color="#3e163d"/><stop offset="0.529" stop-color="#45163f"/><stop offset="0.588" stop-color="#4f1641"/><stop offset="0.647" stop-color="#5d1642"/><stop offset="0.706" stop-color="#6b1644"/><stop offset="0.765" stop-color="#82134c"/><stop offset="0.824" stop-color="#9a1055"/><stop offset="0.882" stop-color="#ba0c68"/><stop offset="0.941" stop-color="#cd0e77"/><stop offset="1.000" stop-color="#d71584"/></linearGradient><linearGradient id="gb29" gradientUnits="userSpaceOnUse" x1="400" x2="830" y1="0" y2="0"><stop offset="0.000" stop-color="#211632"/><stop offset="0.059" stop-color="#221632"/><stop offset="0.118" stop-color="#241631"/><stop offset="0.176" stop-color="#261631"/><stop offset="0.235" stop-color="#291631"/><stop offset="0.294" stop-color="#2d1633"/><stop offset="0.353" stop-color="#311634"/><stop offset="0.412" stop-color="#361636"/><stop offset="0.471" stop-color="#3d1638"/><stop offset="0.529" stop-color="#44163a"/><stop offset="0.588" stop-color="#4f163c"/><stop offset="0.647" stop-color="#5e163d"/><stop offset="0.706" stop-color="#6d153f"/><stop offset="0.765" stop-color="#851246"/><stop offset="0.824" stop-color="#9e0f4f"/><stop offset="0.882" stop-color="#bd0b60"/><stop offset="0.941" stop-color="#d00d6d"/><stop offset="1.000" stop-color="#d91279"/></linearGradient><linearGradient id="gb30" gradientUnits="userSpaceOnUse" x1="400" x2="830" y1="0" y2="0"><stop offset="0.000" stop-color="#20152e"/><stop offset="0.059" stop-color="#21162d"/><stop offset="0.118" stop-color="#24162d"/><stop offset="0.176" stop-color="#26162d"/><stop offset="0.235" stop-color="#29162e"/><stop offset="0.294" stop-color="#2d162f"/><stop offset="0.353" stop-color="#301630"/><stop offset="0.412" stop-color="#361632"/><stop offset="0.471" stop-color="#3d1634"/><stop offset="0.529" stop-color="#441636"/><stop offset="0.588" stop-color="#4f1638"/><stop offset="0.647" stop-color="#5e1639"/><stop offset="0.706" stop-color="#6f153a"/><stop offset="0.765" stop-color="#881240"/><stop offset="0.824" stop-color="#a30e46"/><stop offset="0.882" stop-color="#c30a53"/><stop offset="0.941" stop-color="#d50a5d"/><stop offset="1.000" stop-color="#dc0e66"/></linearGradient><linearGradient id="gb31" gradientUnits="userSpaceOnUse" x1="400" x2="830" y1="0" y2="0"><stop offset="0.000" stop-color="#201529"/><stop offset="0.059" stop-color="#211529"/><stop offset="0.118" stop-color="#23162a"/><stop offset="0.176" stop-color="#26162a"/><stop offset="0.235" stop-color="#29162b"/><stop offset="0.294" stop-color="#2c162c"/><stop offset="0.353" stop-color="#30162c"/><stop offset="0.412" stop-color="#35162e"/><stop offset="0.471" stop-color="#3c1630"/><stop offset="0.529" stop-color="#431631"/><stop offset="0.588" stop-color="#4f1633"/><stop offset="0.647" stop-color="#5f1534"/><stop offset="0.706" stop-color="#721535"/><stop offset="0.765" stop-color="#8c1139"/><stop offset="0.824" stop-color="#a80d3e"/><stop offset="0.882" stop-color="#c80946"/><stop offset="0.941" stop-color="#d9084d"/><stop offset="1.000" stop-color="#df0a53"/></linearGradient><linearGradient id="gb32" gradientUnits="userSpaceOnUse" x1="400" x2="830" y1="0" y2="0"><stop offset="0.000" stop-color="#1f1525"/><stop offset="0.059" stop-color="#211525"/><stop offset="0.118" stop-color="#231526"/><stop offset="0.176" stop-color="#261627"/><stop offset="0.235" stop-color="#291627"/><stop offset="0.294" stop-color="#2c1628"/><stop offset="0.353" stop-color="#301629"/><stop offset="0.412" stop-color="#35162a"/><stop offset="0.471" stop-color="#3c162b"/><stop offset="0.529" stop-color="#42162d"/><stop offset="0.588" stop-color="#4e162e"/><stop offset="0.647" stop-color="#60152f"/><stop offset="0.706" stop-color="#741430"/><stop offset="0.765" stop-color="#901032"/><stop offset="0.824" stop-color="#ad0c35"/><stop offset="0.882" stop-color="#cd0839"/><stop offset="0.941" stop-color="#de063d"/><stop offset="1.000" stop-color="#e30641"/></linearGradient><linearGradient id="gb33" gradientUnits="userSpaceOnUse" x1="400" x2="830" y1="0" y2="0"><stop offset="0.000" stop-color="#1e1421"/><stop offset="0.059" stop-color="#201521"/><stop offset="0.118" stop-color="#231522"/><stop offset="0.176" stop-color="#261624"/><stop offset="0.235" stop-color="#291624"/><stop offset="0.294" stop-color="#2c1625"/><stop offset="0.353" stop-color="#2f1625"/><stop offset="0.412" stop-color="#351626"/><stop offset="0.471" stop-color="#3b1627"/><stop offset="0.529" stop-color="#411628"/><stop offset="0.588" stop-color="#4e1629"/><stop offset="0.647" stop-color="#61152a"/><stop offset="0.706" stop-color="#76142b"/><stop offset="0.765" stop-color="#93102c"/><stop offset="0.824" stop-color="#b20c2c"/><stop offset="0.882" stop-color="#d3072c"/><stop offset="0.941" stop-color="#e3042c"/><stop offset="1.000" stop-color="#e6022e"/></linearGradient><linearGradient id="gb34" gradientUnits="userSpaceOnUse" x1="400" x2="830" y1="0" y2="0"><stop offset="0.000" stop-color="#1e141e"/><stop offset="0.059" stop-color="#20141f"/><stop offset="0.118" stop-color="#231520"/><stop offset="0.176" stop-color="#261622"/><stop offset="0.235" stop-color="#291622"/><stop offset="0.294" stop-color="#2c1623"/><stop offset="0.353" stop-color="#2f1623"/><stop offset="0.412" stop-color="#341624"/><stop offset="0.471" stop-color="#3b1625"/><stop offset="0.529" stop-color="#411626"/><stop offset="0.588" stop-color="#4e1626"/><stop offset="0.647" stop-color="#621527"/><stop offset="0.706" stop-color="#771328"/><stop offset="0.765" stop-color="#960f28"/><stop offset="0.824" stop-color="#b40b27"/><stop offset="0.882" stop-color="#d60624"/><stop offset="0.941" stop-color="#e50323"/><stop offset="1.000" stop-color="#e80023"/></linearGradient><filter id="blurB" x="-5%" y="-5%" width="110%" height="110%"><feGaussianBlur stdDeviation="3 5"/></filter><filter id="blurM" x="-20%" y="-20%" width="140%" height="140%"><feGaussianBlur stdDeviation="9"/></filter><mask id="maskB" maskUnits="userSpaceOnUse" x="380" y="13" width="505" height="507"><rect x="380" y="13" width="505" height="507" fill="#fff"/><path d="M405 520 L405 176 L470 180 L560 212 L640 248 L690 292 L715 420 L728 520 Z" fill="#000" filter="url(#blurM)"/></mask><clipPath id="clipC"><rect x="105.6" y="613.7" width="789.5" height="262.8"/></clipPath></defs>
<text transform="translate(7.1,54.4) scale(0.94,1)" font-size="44" font-weight="bold">A</text>
<text transform="translate(316.6,54.1) scale(0.911,1)" font-size="44" font-weight="bold">B</text>
<text transform="translate(26.5,581.2) scale(0.903,1)" font-size="44" font-weight="bold">C</text>
<rect x="73.5" y="127.30" width="195.7" height="6.35" fill="url(#ga0)"/>
<rect x="73.5" y="132.15" width="195.7" height="6.35" fill="url(#ga1)"/>
<rect x="73.5" y="137.00" width="195.7" height="6.35" fill="url(#ga2)"/>
<rect x="73.5" y="141.85" width="195.7" height="6.35" fill="url(#ga3)"/>
<rect x="73.5" y="146.70" width="195.7" height="6.35" fill="url(#ga4)"/>
<rect x="73.5" y="151.55" width="195.7" height="6.35" fill="url(#ga5)"/>
<rect x="73.5" y="156.40" width="195.7" height="6.35" fill="url(#ga6)"/>
<rect x="73.5" y="161.25" width="195.7" height="6.35" fill="url(#ga7)"/>
<rect x="73.5" y="166.10" width="195.7" height="6.35" fill="url(#ga8)"/>
<rect x="73.5" y="170.95" width="195.7" height="6.35" fill="url(#ga9)"/>
<rect x="73.5" y="175.80" width="195.7" height="6.35" fill="url(#ga10)"/>
<rect x="73.5" y="180.65" width="195.7" height="6.35" fill="url(#ga11)"/>
<rect x="73.5" y="185.50" width="195.7" height="6.35" fill="url(#ga12)"/>
<rect x="73.5" y="190.35" width="195.7" height="6.35" fill="url(#ga13)"/>
<rect x="73.5" y="195.20" width="195.7" height="6.35" fill="url(#ga14)"/>
<rect x="73.5" y="200.05" width="195.7" height="6.35" fill="url(#ga15)"/>
<rect x="73.5" y="204.90" width="195.7" height="6.35" fill="url(#ga16)"/>
<rect x="73.5" y="209.75" width="195.7" height="6.35" fill="url(#ga17)"/>
<rect x="73.5" y="214.60" width="195.7" height="6.35" fill="url(#ga18)"/>
<rect x="73.5" y="219.45" width="195.7" height="6.35" fill="url(#ga19)"/>
<rect x="73.5" y="224.30" width="195.7" height="6.35" fill="url(#ga20)"/>
<rect x="73.5" y="229.15" width="195.7" height="6.35" fill="url(#ga21)"/>
<rect x="73.5" y="234.00" width="195.7" height="6.35" fill="url(#ga22)"/>
<rect x="73.5" y="238.85" width="195.7" height="6.35" fill="url(#ga23)"/>
<rect x="73.5" y="243.70" width="195.7" height="6.35" fill="url(#ga24)"/>
<rect x="73.5" y="248.55" width="195.7" height="6.35" fill="url(#ga25)"/>
<rect x="73.5" y="253.40" width="195.7" height="6.35" fill="url(#ga26)"/>
<rect x="73.5" y="258.25" width="195.7" height="6.35" fill="url(#ga27)"/>
<rect x="73.5" y="263.10" width="195.7" height="6.35" fill="url(#ga28)"/>
<rect x="73.5" y="267.95" width="195.7" height="6.35" fill="url(#ga29)"/>
<rect x="73.5" y="272.80" width="195.7" height="6.35" fill="url(#ga30)"/>
<rect x="73.5" y="277.65" width="195.7" height="6.35" fill="url(#ga31)"/>
<rect x="73.5" y="282.50" width="195.7" height="6.35" fill="url(#ga32)"/>
<rect x="73.5" y="287.35" width="195.7" height="6.35" fill="url(#ga33)"/>
<rect x="73.5" y="292.20" width="195.7" height="6.35" fill="url(#ga34)"/>
<rect x="73.5" y="297.05" width="195.7" height="6.35" fill="url(#ga35)"/>
<rect x="73.5" y="301.90" width="195.7" height="6.35" fill="url(#ga36)"/>
<rect x="73.5" y="306.75" width="195.7" height="6.35" fill="url(#ga37)"/>
<rect x="73.5" y="311.60" width="195.7" height="6.35" fill="url(#ga38)"/>
<rect x="73.5" y="316.45" width="195.7" height="4.85" fill="url(#ga39)"/>
<text x="53.6" y="160.5" font-size="29.5">1</text>
<text x="33.0" y="232.8" font-size="29.5">0.5</text>
<text x="54.8" y="324.7" font-size="29.5">0</text>
<text x="73.4" y="346.9" font-size="29.5">0</text>
<text x="160.0" y="350.7" font-size="29.5">0.5</text>
<text x="256.5" y="343.3" font-size="29.5">1</text>
<text x="77.8" y="102.5" font-size="29.5">Tuning range</text>
<text x="71.4" y="375" font-size="29.5">Detuning</text><text x="189" y="383.5" font-size="19">1</text><text transform="translate(204.5,375) scale(0.93,1)" font-size="29.5" font-family="Liberation Serif">(δω)</text>
<g transform="translate(26.4,308) rotate(-90)"><text x="0" y="0" font-size="29.5">Detuning</text><text x="117" y="8.5" font-size="19">2</text><text transform="translate(141.5,0) scale(0.94,1)" font-size="29.5" font-family="Liberation Serif">(δω)</text></g>
<path d="M165 395.5 H201.3 V435 H296 V421.5 L316 453.7 L296 486 V472.2 H165 Z" fill="none" stroke="#000" stroke-width="5" stroke-linejoin="miter" stroke-miterlimit="10"/>
<rect x="380" y="13" width="505" height="507" fill="none" stroke="#000" stroke-width="5.5"/>
<path d="M506.1 520V512M506.1 13V21" stroke="#000" stroke-width="1.5"/>
<path d="M380 393.1H388M885 393.1H877" stroke="#000" stroke-width="1.5"/>
<path d="M631.8 520V512M631.8 13V21" stroke="#000" stroke-width="1.5"/>
<path d="M380 267.2H388M885 267.2H877" stroke="#000" stroke-width="1.5"/>
<path d="M757.5 520V512M757.5 13V21" stroke="#000" stroke-width="1.5"/>
<path d="M380 141.2H388M885 141.2H877" stroke="#000" stroke-width="1.5"/>
<text x="352.0" y="25.5" font-size="29.5">1</text>
<text x="331.3" y="149.5" font-size="29.5">0.5</text>
<text x="356.3" y="277.5" font-size="29.5">0</text>
<text x="314.0" y="401.5" font-size="29.5">−0.5</text>
<text x="338.3" y="527.1" font-size="29.5">−1</text>
<text x="357.6" y="561.1" font-size="29.5">−1</text>
<text x="468.2" y="561.1" font-size="29.5">−0.5</text>
<text x="623.8" y="561.2" font-size="29.5">0</text>
<text x="724.4" y="561.2" font-size="29.5">0.5</text>
<text x="874.3" y="561.2" font-size="29.5">1</text>
<text transform="translate(568.4,592.5) scale(0.96,1)" font-size="29.5">Weight 1</text>
<text transform="translate(310.7,289) rotate(-90)" font-size="29.5">Weight 2</text>
<text x="605.3" y="50.4" font-size="29.5">Ideal range</text>
<text x="689.3" y="100.2" font-size="29.5">Usable range</text>
<text transform="translate(413.5,92) rotate(4.3) scale(0.98,1)" font-size="29.5">Weight boundary</text>
<path d="M766 39.3 L877 55.5" stroke="#000" stroke-width="2"/>
<path d="M859.5 45.5 L877 56 L859 62.5" fill="none" stroke="#000" stroke-width="5" stroke-linecap="round" stroke-linejoin="miter"/>
<g clip-path="url(#clipB)"><g mask="url(#maskB)"><g filter="url(#blurB)">
<rect x="400" y="92" width="430" height="13" fill="url(#gb0)"/>
<rect x="400" y="104" width="430" height="13" fill="url(#gb1)"/>
<rect x="400" y="116" width="430" height="13" fill="url(#gb2)"/>
<rect x="400" y="128" width="430" height="13" fill="url(#gb3)"/>
<rect x="400" y="140" width="430" height="13" fill="url(#gb4)"/>
<rect x="400" y="152" width="430" height="13" fill="url(#gb5)"/>
<rect x="400" y="164" width="430" height="13" fill="url(#gb6)"/>
<rect x="400" y="176" width="430" height="13" fill="url(#gb7)"/>
<rect x="400" y="188" width="430" height="13" fill="url(#gb8)"/>
<rect x="400" y="200" width="430" height="13" fill="url(#gb9)"/>
<rect x="400" y="212" width="430" height="13" fill="url(#gb10)"/>
<rect x="400" y="224" width="430" height="13" fill="url(#gb11)"/>
<rect x="400" y="236" width="430" height="13" fill="url(#gb12)"/>
<rect x="400" y="248" width="430" height="13" fill="url(#gb13)"/>
<rect x="400" y="260" width="430" height="13" fill="url(#gb14)"/>
<rect x="400" y="272" width="430" height="13" fill="url(#gb15)"/>
<rect x="400" y="284" width="430" height="13" fill="url(#gb16)"/>
<rect x="400" y="296" width="430" height="13" fill="url(#gb17)"/>
<rect x="400" y="308" width="430" height="13" fill="url(#gb18)"/>
<rect x="400" y="320" width="430" height="13" fill="url(#gb19)"/>
<rect x="400" y="332" width="430" height="13" fill="url(#gb20)"/>
<rect x="400" y="344" width="430" height="13" fill="url(#gb21)"/>
<rect x="400" y="356" width="430" height="13" fill="url(#gb22)"/>
<rect x="400" y="368" width="430" height="13" fill="url(#gb23)"/>
<rect x="400" y="380" width="430" height="13" fill="url(#gb24)"/>
<rect x="400" y="392" width="430" height="13" fill="url(#gb25)"/>
<rect x="400" y="404" width="430" height="13" fill="url(#gb26)"/>
<rect x="400" y="416" width="430" height="13" fill="url(#gb27)"/>
<rect x="400" y="428" width="430" height="13" fill="url(#gb28)"/>
<rect x="400" y="440" width="430" height="13" fill="url(#gb29)"/>
<rect x="400" y="452" width="430" height="13" fill="url(#gb30)"/>
<rect x="400" y="464" width="430" height="13" fill="url(#gb31)"/>
<rect x="400" y="476" width="430" height="13" fill="url(#gb32)"/>
<rect x="400" y="488" width="430" height="13" fill="url(#gb33)"/>
<rect x="400" y="500" width="430" height="13" fill="url(#gb34)"/>
</g></g></g>
<g stroke="#fff" fill="none" stroke-linecap="round" stroke-linejoin="round">
<path d="M443.1 111.2 L442.8 117.2 L442.8 123.2 L443.0 129.2 L443.2 135.2 L443.4 141.2 L443.5 147.2 L443.4 153.2 L443.1 159.2 L442.7 165.2 L442.4 171.2 L442.2 177.2 L442.3 183.2 L442.6 189.2" stroke-width="1.1"/>
<path d="M452.4 112.1 L452.6 118.1 L452.9 124.1 L453.0 130.1 L452.9 136.1 L452.7 142.1 L452.3 148.1 L452.0 154.1 L451.7 160.1 L451.7 166.1 L452.0 172.1 L452.5 178.1 L453.1 184.1 L453.8 190.1" stroke-width="1.6"/>
<path d="M462.5 113.0 L462.5 119.0 L462.3 125.0 L462.0 131.0 L461.6 137.0 L461.4 143.0 L461.2 149.0 L461.4 155.0 L461.8 161.0 L462.4 167.0 L463.1 173.0 L463.8 179.0 L464.3 185.0 L464.5 191.0" stroke-width="2.2"/>
<path d="M471.7 113.8 L471.4 119.8 L471.0 125.8 L470.8 131.8 L470.9 137.8 L471.2 143.8 L471.8 149.8 L472.5 155.8 L473.2 161.8 L473.7 167.8 L474.1 173.8 L474.2 179.8 L474.1 185.8 L473.9 191.8" stroke-width="2.7"/>
<path d="M480.5 114.7 L480.5 120.7 L480.7 126.7 L481.2 132.7 L481.8 138.7 L482.5 144.7 L483.2 150.7 L483.6 156.7 L483.8 162.7 L483.8 168.7 L483.6 174.7 L483.4 180.7 L483.3 186.7 L483.4 192.7" stroke-width="3.0"/>
<path d="M490.6 115.5 L491.3 121.5 L492.0 127.5 L492.6 133.5 L493.1 139.5 L493.4 145.5 L493.5 151.5 L493.3 157.5 L493.1 163.5 L493.0 169.5 L493.0 175.5 L493.2 181.5 L493.6 187.5 L494.0 193.5 L494.5 199.5" stroke-width="3.0"/>
<path d="M502.1 116.4 L502.7 122.4 L503.0 128.4 L503.1 134.4 L503.1 140.4 L502.9 146.4 L502.7 152.4 L502.7 158.4 L502.8 164.4 L503.1 170.4 L503.6 176.4 L504.0 182.4 L504.3 188.4 L504.4 194.4 L504.2 200.4" stroke-width="3.0"/>
<path d="M512.8 117.3 L512.8 123.3 L512.6 129.3 L512.5 135.3 L512.4 141.3 L512.4 147.3 L512.7 153.3 L513.1 159.3 L513.6 165.3 L513.9 171.3 L514.1 177.3 L514.0 183.3 L513.6 189.3 L513.1 195.3 L512.4 201.3 L511.8 207.3" stroke-width="3.0"/>
<path d="M522.2 118.2 L522.1 124.2 L522.1 130.2 L522.3 136.2 L522.7 142.2 L523.1 148.2 L523.5 154.2 L523.8 160.2 L523.8 166.2 L523.5 172.2 L523.0 178.2 L522.3 184.2 L521.7 190.2 L521.2 196.2 L520.8 202.2 L520.7 208.2" stroke-width="3.0"/>
<path d="M532.0 119.3 L532.4 125.3 L532.8 131.3 L533.2 137.3 L533.5 143.3 L533.6 149.3 L533.3 155.3 L532.9 161.3 L532.2 167.3 L531.6 173.3 L531.0 179.3 L530.6 185.3 L530.5 191.3 L530.5 197.3 L530.6 203.3 L530.8 209.3 L530.8 215.3" stroke-width="3.0"/>
<path d="M542.9 120.5 L543.2 126.5 L543.3 132.5 L543.2 138.5 L542.8 144.5 L542.2 150.5 L541.5 156.5 L540.9 162.5 L540.5 168.5 L540.3 174.5 L540.3 180.5 L540.4 186.5 L540.5 192.5 L540.6 198.5 L540.4 204.5 L540.1 210.5 L539.6 216.5" stroke-width="3.0"/>
<path d="M553.1 121.7 L552.7 127.7 L552.1 133.7 L551.4 139.7 L550.8 145.7 L550.3 151.7 L550.1 157.7 L550.0 163.7 L550.1 169.7 L550.3 175.7 L550.4 181.7 L550.3 187.7 L550.0 193.7 L549.6 199.7 L549.0 205.7 L548.5 211.7 L548.2 217.7" stroke-width="3.0"/>
<path d="M561.4 122.9 L560.8 128.9 L560.3 134.9 L559.9 140.9 L559.9 146.9 L559.9 152.9 L560.1 158.9 L560.2 164.9 L560.2 170.9 L559.9 176.9 L559.5 182.9 L559.0 188.9 L558.5 194.9 L558.1 200.9 L558.0 206.9 L558.1 212.9 L558.5 218.9 L559.1 224.9" stroke-width="3.0"/>
<path d="M569.9 124.1 L569.7 130.1 L569.8 136.1 L569.9 142.1 L570.0 148.1 L570.0 154.1 L569.9 160.1 L569.5 166.1 L569.0 172.1 L568.5 178.1 L568.0 184.1 L567.9 190.1 L567.9 196.1 L568.3 202.1 L568.8 208.1 L569.4 214.1 L570.0 220.1 L570.4 226.1" stroke-width="3.0"/>
<path d="M579.8 125.3 L579.9 131.3 L580.0 137.3 L579.8 143.3 L579.5 149.3 L579.0 155.3 L578.5 161.3 L578.0 167.3 L577.8 173.3 L577.8 179.3 L578.1 185.3 L578.6 191.3 L579.2 197.3 L579.8 203.3 L580.2 209.3 L580.4 215.3 L580.5 221.3 L580.4 227.3 L580.2 233.3" stroke-width="3.0"/>
<path d="M589.8 126.8 L589.5 132.8 L589.0 138.8 L588.5 144.8 L588.0 150.8 L587.7 156.8 L587.7 162.8 L588.0 168.8 L588.5 174.8 L589.1 180.8 L589.7 186.8 L590.1 192.8 L590.4 198.8 L590.4 204.8 L590.3 210.8 L590.2 216.8 L590.1 222.8 L590.2 228.8 L590.6 234.8" stroke-width="3.0"/>
<path d="M598.5 128.3 L598.0 134.3 L597.7 140.3 L597.7 146.3 L597.9 152.3 L598.4 158.3 L599.0 164.3 L599.6 170.3 L600.1 176.3 L600.3 182.3 L600.4 188.3 L600.3 194.3 L600.2 200.3 L600.1 206.3 L600.2 212.3 L600.5 218.3 L601.0 224.3 L601.6 230.3 L602.2 236.3 L602.6 242.3" stroke-width="2.8"/>
<path d="M607.6 129.8 L607.8 135.8 L608.3 141.8 L608.9 147.8 L609.5 153.8 L610.0 159.8 L610.3 165.8 L610.4 171.8 L610.3 177.8 L610.2 183.8 L610.1 189.8 L610.1 195.8 L610.4 201.8 L610.8 207.8 L611.4 213.8 L612.0 219.8 L612.5 225.8 L612.8 231.8 L612.7 237.8 L612.4 243.8" stroke-width="2.5"/>
<path d="M618.5 131.3 L619.2 137.3 L619.7 143.3 L620.0 149.3 L620.2 155.3 L620.1 161.3 L620.0 167.3 L619.9 173.3 L619.9 179.3 L620.1 185.3 L620.6 191.3 L621.1 197.3 L621.7 203.3 L622.2 209.3 L622.5 215.3 L622.5 221.3 L622.3 227.3 L621.9 233.3 L621.3 239.3 L620.8 245.3 L620.5 251.3" stroke-width="2.2"/>
<path d="M629.6 132.8 L629.8 138.8 L629.8 144.8 L629.7 150.8 L629.5 156.8 L629.5 162.8 L629.7 168.8 L630.1 174.8 L630.6 180.8 L631.2 186.8 L631.7 192.8 L632.1 198.8 L632.2 204.8 L632.0 210.8 L631.6 216.8 L631.1 222.8 L630.5 228.8 L630.2 234.8 L630.0 240.8 L629.9 246.8 L630.1 252.8" stroke-width="1.9"/>
<path d="M639.1 134.2 L639.0 140.2 L638.9 146.2 L639.0 152.2 L639.3 158.2 L639.8 164.2 L640.4 170.2 L641.0 176.2 L641.4 182.2 L641.6 188.2 L641.5 194.2 L641.1 200.2 L640.6 206.2 L640.1 212.2 L639.6 218.2 L639.4 224.2 L639.3 230.2 L639.4 236.2 L639.6 242.2 L639.7 248.2 L639.6 254.2 L639.3 260.2" stroke-width="1.6"/>
<path d="M648.2 136.2 L648.5 142.2 L648.9 148.2 L649.5 154.2 L650.1 160.2 L650.6 166.2 L650.8 172.2 L650.7 178.2 L650.4 184.2 L650.0 190.2 L649.4 196.2 L649.0 202.2 L648.6 208.2 L648.5 214.2 L648.6 220.2 L648.7 226.2 L648.9 232.2 L648.8 238.2 L648.6 244.2 L648.2 250.2 L647.5 256.2 L646.9 262.2 L646.3 268.2" stroke-width="1.3"/>
<path d="M658.4 138.8 L659.0 144.8 L659.5 150.8 L659.8 156.8 L659.8 162.8 L659.5 168.8 L659.1 174.8 L658.5 180.8 L658.0 186.8 L657.7 192.8 L657.5 198.8 L657.5 204.8 L657.7 210.8 L657.8 216.8 L657.8 222.8 L657.7 228.8 L657.2 234.8 L656.7 240.8 L656.0 246.8 L655.4 252.8 L654.9 258.8 L654.8 264.8 L654.8 270.8 L655.2 276.8" stroke-width="1.0"/>
</g>
<g clip-path="url(#clipB)" fill="none" stroke-linecap="round" stroke-width="7.1">
<path stroke="#363c90" d="M412.3 153.2h0M412.0 156.4h0M411.7 159.7h0M411.5 163.0h0M417.0 153.2h0M416.9 156.4h0M416.8 159.7h0M422.9 153.2h0M423.0 156.4h0M430.3 153.2h0"/>
<path stroke="#363690" d="M411.4 166.3h0M411.4 169.6h0M411.4 173.0h0M411.5 176.4h0M416.8 163.0h0M416.9 166.3h0M417.0 169.6h0M417.1 173.0h0M417.3 176.4h0M423.1 159.7h0M423.2 163.0h0M423.3 166.3h0M423.4 169.6h0M423.5 173.0h0M430.4 156.4h0M430.5 159.7h0M430.6 163.0h0M430.6 166.3h0M430.6 169.6h0M430.5 173.0h0M438.7 156.4h0M438.7 159.7h0M438.5 163.0h0M438.4 166.3h0M438.2 169.6h0M447.3 159.7h0M447.1 163.0h0M447.0 166.3h0M446.9 169.6h0M456.6 163.0h0M456.8 166.3h0M468.0 166.3h0"/>
<path stroke="#36368a" d="M411.6 179.9h0M411.8 183.4h0M411.9 186.9h0M412.0 190.4h0M412.1 194.0h0M417.4 179.9h0M417.5 183.4h0M417.5 186.9h0M417.5 190.4h0M423.6 176.4h0M423.6 179.9h0M423.5 183.4h0M423.3 186.9h0M423.2 190.4h0M430.4 176.4h0M430.2 179.9h0M429.9 183.4h0M429.7 186.9h0M438.0 173.0h0M437.8 176.4h0M437.6 179.9h0M437.5 183.4h0M446.9 173.0h0M447.0 176.4h0M447.2 179.9h0M457.1 169.6h0M457.5 173.0h0M468.4 169.6h0"/>
<path stroke="#36308a" d="M412.1 197.6h0M412.0 201.2h0M417.4 194.0h0M417.2 197.6h0M417.0 201.2h0M422.9 194.0h0M422.7 197.6h0M422.5 201.2h0M429.5 190.4h0M429.4 194.0h0M429.3 197.6h0M429.3 201.2h0M437.5 186.9h0M437.5 190.4h0M437.7 194.0h0M438.0 197.6h0M447.5 183.4h0M447.8 186.9h0M448.2 190.4h0M448.6 194.0h0M457.9 176.4h0M458.3 179.9h0M458.7 183.4h0M459.0 186.9h0M459.3 190.4h0M459.6 194.0h0M468.7 173.0h0M469.0 176.4h0M469.2 179.9h0M469.3 183.4h0M469.4 186.9h0M469.4 190.4h0M479.0 173.0h0M479.0 176.4h0M478.9 179.9h0M478.8 183.4h0M478.7 186.9h0M478.6 190.4h0M488.2 179.9h0M488.2 183.4h0M488.3 186.9h0"/>
<path stroke="#30308a" d="M411.8 204.9h0"/>
<path stroke="#303084" d="M411.6 208.6h0M411.4 212.3h0M411.2 216.1h0M410.9 220.0h0M410.8 224.0h0M410.7 228.1h0M416.8 204.9h0M416.5 208.6h0M416.4 212.3h0M416.2 216.1h0M416.2 220.0h0M416.2 224.0h0M422.3 208.6h0M422.3 212.3h0M422.4 216.1h0M422.6 220.0h0M423.0 224.0h0M430.0 212.3h0M430.3 216.1h0M430.8 220.0h0"/>
<path stroke="#302a84" d="M410.8 232.4h0M416.4 228.1h0M423.4 228.1h0M431.2 224.0h0M431.7 228.1h0M440.3 220.0h0M440.6 224.0h0M450.2 224.0h0"/>
<path stroke="#302a7e" d="M411.0 236.8h0M411.4 241.5h0M411.9 246.3h0M412.5 251.3h0M416.8 232.4h0M417.2 236.8h0M417.8 241.5h0M418.3 246.3h0M418.8 251.3h0M423.9 232.4h0M424.4 236.8h0M424.9 241.5h0M425.3 246.3h0M432.1 232.4h0M432.4 236.8h0M432.6 241.5h0M432.6 246.3h0M440.7 228.1h0M440.8 232.4h0M440.8 236.8h0M440.6 241.5h0M440.5 246.3h0M450.1 228.1h0M449.9 232.4h0M449.8 236.8h0M449.8 241.5h0M459.4 228.1h0M459.5 232.4h0M459.7 236.8h0M460.1 241.5h0M470.4 236.8h0M470.6 241.5h0"/>
<path stroke="#302a78" d="M413.0 256.4h0M413.5 261.8h0M413.9 267.3h0M419.2 256.4h0M419.4 261.8h0M419.5 267.3h0M425.5 251.3h0M425.6 256.4h0M425.5 261.8h0M432.5 251.3h0M432.4 256.4h0M440.4 251.3h0M440.4 256.4h0M449.9 246.3h0M450.2 251.3h0M460.4 246.3h0"/>
<path stroke="#2a2478" d="M414.0 273.0h0M419.4 273.0h0"/>
<path stroke="#2a2472" d="M414.0 278.8h0M413.8 284.8h0M413.7 290.9h0M419.2 278.8h0M419.1 284.8h0M419.1 290.9h0M425.1 278.8h0M425.3 284.8h0M425.6 290.9h0M433.0 284.8h0"/>
<path stroke="#2a246c" d="M413.6 297.2h0M413.8 303.6h0M414.1 310.2h0M419.3 297.2h0M419.7 303.6h0M420.2 310.2h0M426.0 297.2h0M426.5 303.6h0M433.5 290.9h0M433.9 297.2h0M434.1 303.6h0M442.2 290.9h0M442.1 297.2h0"/>
<path stroke="#2a2466" d="M414.7 317.0h0"/>
<path stroke="#2a1e66" d="M415.2 323.9h0M420.7 317.0h0M421.0 323.9h0M426.9 310.2h0M427.0 317.0h0M426.8 323.9h0M433.9 310.2h0M433.5 317.0h0M441.0 310.2h0M440.3 317.0h0M449.0 310.2h0M448.7 317.0h0M458.2 303.6h0M458.2 310.2h0M458.3 317.0h0M468.0 310.2h0M468.0 317.0h0"/>
<path stroke="#2a1e60" d="M415.5 330.9h0M415.5 337.9h0M420.8 330.9h0M420.4 337.9h0M426.2 330.9h0M425.4 337.9h0M432.8 323.9h0M432.1 330.9h0M431.5 337.9h0M439.7 323.9h0M439.3 330.9h0M439.2 337.9h0M448.7 323.9h0M448.8 330.9h0M458.5 323.9h0M458.4 330.9h0M467.6 323.9h0M467.0 330.9h0M476.5 317.0h0M475.9 323.9h0M475.4 330.9h0"/>
<path stroke="#2a1e5a" d="M415.1 345.0h0M414.4 352.0h0M419.7 345.0h0M418.9 352.0h0M424.7 345.0h0M424.3 352.0h0M431.1 345.0h0M431.1 352.0h0M439.4 345.0h0M439.5 352.0h0M449.0 337.9h0M448.9 345.0h0M448.7 352.0h0M458.1 337.9h0M457.6 345.0h0M456.9 352.0h0M466.4 337.9h0M465.9 345.0h0M475.2 337.9h0M475.5 345.0h0M485.7 337.9h0M486.4 345.0h0"/>
<path stroke="#241e54" d="M413.6 359.0h0M413.0 366.1h0M418.0 366.1h0"/>
<path stroke="#241e4e" d="M412.6 373.2h0M412.6 380.3h0M418.0 373.2h0M424.3 373.2h0"/>
<path stroke="#241848" d="M412.7 387.3h0M412.9 394.5h0M418.3 387.3h0M418.2 394.5h0M424.2 387.3h0M423.8 394.5h0M430.5 387.3h0M429.8 394.5h0M437.5 387.3h0M437.1 394.5h0M447.1 394.5h0"/>
<path stroke="#241842" d="M412.8 401.6h0M412.6 408.7h0M417.9 401.6h0M417.3 408.7h0M423.2 401.6h0M422.5 408.7h0M429.2 401.6h0M429.0 408.7h0M437.2 401.6h0M437.6 408.7h0M447.7 401.6h0M448.4 408.7h0M458.4 401.6h0M458.6 408.7h0"/>
<path stroke="#24183c" d="M412.0 415.8h0M411.3 423.0h0M416.6 415.8h0M416.1 423.0h0M422.0 415.8h0M421.9 423.0h0M429.1 415.8h0M429.5 423.0h0M438.2 415.8h0M438.9 423.0h0M448.9 415.8h0M449.1 423.0h0M458.5 415.8h0M458.4 423.0h0M467.9 415.8h0M468.1 423.0h0M479.0 423.0h0"/>
<path stroke="#241836" d="M410.7 430.1h0M410.4 437.3h0M415.8 430.1h0M416.0 437.3h0M422.2 430.1h0M422.8 437.3h0M430.2 430.1h0M430.8 437.3h0M439.4 430.1h0M439.6 437.3h0M449.0 430.1h0M448.8 437.3h0M458.3 430.1h0M458.5 437.3h0M468.6 430.1h0M469.4 437.3h0M479.8 430.1h0M480.2 437.3h0"/>
<path stroke="#241830" d="M410.5 444.5h0M416.5 444.5h0M417.2 451.7h0M423.5 444.5h0M424.0 451.7h0M424.3 458.7h0M431.3 444.5h0M431.4 451.7h0M431.3 458.7h0M439.5 444.5h0M439.4 451.7h0M439.3 458.7h0M448.8 444.5h0M448.9 451.7h0M449.4 458.7h0M459.0 444.5h0M459.7 451.7h0M460.4 458.7h0M470.1 444.5h0M470.6 451.7h0M470.8 458.7h0M480.4 444.5h0M480.1 451.7h0M479.6 458.7h0"/>
<path stroke="#1e1830" d="M410.9 451.7h0M411.6 458.7h0M417.8 458.7h0"/>
<path stroke="#1e182a" d="M412.1 465.0h0M412.6 470.7h0M418.1 465.0h0M418.3 470.7h0M424.3 470.7h0M424.2 475.9h0"/>
<path stroke="#1e122a" d="M412.8 475.9h0M418.3 475.9h0"/>
<path stroke="#1e1224" d="M412.8 480.3h0M412.8 484.1h0M412.8 487.4h0M412.7 490.4h0M418.2 480.3h0M418.1 484.1h0M418.0 487.4h0M418.0 490.4h0M418.0 493.2h0M424.1 480.3h0M424.1 484.1h0M424.1 487.4h0M424.2 490.4h0M424.4 493.2h0M431.8 487.4h0M432.1 490.4h0M432.4 493.2h0"/>
<path stroke="#1e121e" d="M412.6 493.2h0M412.6 496.0h0M412.5 498.8h0M412.5 501.4h0M418.0 496.0h0M418.1 498.8h0M418.2 501.4h0M424.6 496.0h0M424.8 498.8h0M425.1 501.4h0M432.7 496.0h0M433.0 498.8h0M433.3 501.4h0"/>
<path stroke="#2a1e54" d="M418.3 359.0h0M424.1 359.0h0M424.1 366.1h0M431.2 359.0h0M431.4 366.1h0M439.5 359.0h0M439.3 366.1h0M448.1 359.0h0M447.5 366.1h0M456.4 359.0h0M465.7 352.0h0M465.8 359.0h0M476.0 352.0h0"/>
<path stroke="#24184e" d="M418.2 380.3h0M424.4 380.3h0M431.0 380.3h0"/>
<path stroke="#363084" d="M422.3 204.9h0M429.4 204.9h0M429.6 208.6h0M438.3 201.2h0M438.7 204.9h0M439.1 208.6h0M439.6 212.3h0M440.0 216.1h0M449.0 197.6h0M449.4 201.2h0M449.8 204.9h0M450.0 208.6h0M450.2 212.3h0M459.7 197.6h0M459.8 201.2h0M459.8 204.9h0M459.7 208.6h0M469.3 194.0h0M469.2 197.6h0M469.1 201.2h0M469.0 204.9h0M478.5 194.0h0M478.5 197.6h0M478.6 201.2h0M488.5 190.4h0M488.7 194.0h0M499.2 190.4h0"/>
<path stroke="#302478" d="M425.4 267.3h0M432.3 261.8h0M432.2 267.3h0M440.5 261.8h0M440.8 267.3h0M450.5 256.4h0M451.0 261.8h0M460.8 251.3h0M461.1 256.4h0M461.2 261.8h0M470.7 246.3h0M470.7 251.3h0M470.4 256.4h0M479.9 241.5h0M479.5 246.3h0M479.0 251.3h0M478.4 256.4h0M487.2 251.3h0M487.0 256.4h0"/>
<path stroke="#302472" d="M425.2 273.0h0M432.3 273.0h0M432.5 278.8h0M441.2 273.0h0M441.7 278.8h0M442.0 284.8h0M451.3 267.3h0M451.6 273.0h0M451.6 278.8h0M451.4 284.8h0M461.1 267.3h0M460.7 273.0h0M460.2 278.8h0M469.9 261.8h0M469.3 267.3h0M468.7 273.0h0M468.2 278.8h0M477.9 261.8h0M477.5 267.3h0M477.3 273.0h0M486.9 261.8h0M487.0 267.3h0M487.1 273.0h0M496.8 267.3h0M496.7 273.0h0"/>
<path stroke="#24182a" d="M424.4 465.0h0M431.2 465.0h0M431.1 470.7h0M431.2 475.9h0M439.4 465.0h0M439.7 470.7h0M440.1 475.9h0M450.0 465.0h0M450.6 470.7h0M451.1 475.9h0M461.0 465.0h0M461.2 470.7h0M461.2 475.9h0M470.6 465.0h0M470.3 470.7h0M469.8 475.9h0M469.5 480.3h0M479.1 465.0h0M478.7 470.7h0M478.5 475.9h0M478.4 480.3h0M488.3 480.3h0"/>
<path stroke="#2a1e4e" d="M431.3 373.2h0"/>
<path stroke="#241824" d="M431.3 480.3h0M431.6 484.1h0M440.6 480.3h0M441.0 484.1h0M441.3 487.4h0M441.6 490.4h0M441.8 493.2h0M451.4 480.3h0M451.6 484.1h0M451.7 487.4h0M451.7 490.4h0M451.6 493.2h0M451.5 496.0h0M461.0 480.3h0M460.8 484.1h0M460.6 487.4h0M460.3 490.4h0M460.1 493.2h0M459.9 496.0h0M459.7 498.8h0M469.2 484.1h0M469.0 487.4h0M468.9 490.4h0M468.8 493.2h0M468.8 496.0h0M468.8 498.8h0M468.9 501.4h0M478.4 484.1h0M478.5 487.4h0M478.5 490.4h0M478.6 493.2h0M478.7 496.0h0M478.8 498.8h0M478.8 501.4h0M488.4 484.1h0M488.4 487.4h0M488.4 490.4h0M488.3 493.2h0M488.2 496.0h0M488.0 498.8h0M487.8 501.4h0"/>
<path stroke="#3c3690" d="M438.8 153.2h0M447.7 153.2h0M447.5 156.4h0M456.5 156.4h0M456.5 159.7h0M466.9 156.4h0M467.2 159.7h0M467.6 163.0h0M478.5 159.7h0M478.7 163.0h0"/>
<path stroke="#2a1e6c" d="M441.7 303.6h0M450.3 297.2h0M449.6 303.6h0"/>
<path stroke="#2a184e" d="M438.7 373.2h0M438.1 380.3h0M446.9 373.2h0M446.6 380.3h0M456.2 373.2h0M456.7 380.3h0M467.0 373.2h0M467.6 380.3h0M477.7 373.2h0M477.8 380.3h0M487.3 373.2h0M487.1 380.3h0M496.8 373.2h0M497.2 380.3h0"/>
<path stroke="#241224" d="M442.0 496.0h0"/>
<path stroke="#24121e" d="M442.2 498.8h0M442.2 501.4h0"/>
<path stroke="#362a84" d="M450.3 216.1h0M450.3 220.0h0M459.6 212.3h0M459.5 216.1h0M459.4 220.0h0M468.9 208.6h0M468.9 212.3h0M469.0 216.1h0M478.8 204.9h0M479.0 208.6h0M479.3 212.3h0M479.6 216.1h0M488.9 197.6h0M489.2 201.2h0M489.5 204.9h0M489.7 208.6h0M489.9 212.3h0M499.4 194.0h0M499.5 197.6h0M499.6 201.2h0M499.5 204.9h0M499.4 208.6h0M499.1 212.3h0M508.0 204.9h0M507.6 208.6h0"/>
<path stroke="#30246c" d="M450.9 290.9h0M459.5 284.8h0M477.3 278.8h0"/>
<path stroke="#2a1848" d="M446.7 387.3h0M457.3 387.3h0M458.0 394.5h0M468.0 387.3h0M468.2 394.5h0M477.7 387.3h0M477.5 394.5h0M487.2 387.3h0M487.4 394.5h0M497.8 387.3h0M498.5 394.5h0"/>
<path stroke="#24181e" d="M451.3 498.8h0M451.1 501.4h0M459.5 501.4h0"/>
<path stroke="#362a7e" d="M459.4 224.0h0M469.2 220.0h0M469.4 224.0h0M469.8 228.1h0M470.1 232.4h0M479.9 220.0h0M480.1 224.0h0M480.3 228.1h0M480.3 232.4h0M480.2 236.8h0M489.9 216.1h0M489.9 220.0h0M489.7 224.0h0M489.4 228.1h0M489.0 232.4h0M498.8 216.1h0M498.4 220.0h0M497.9 224.0h0M497.5 228.1h0M507.2 212.3h0M506.8 216.1h0M506.5 220.0h0M515.9 216.1h0"/>
<path stroke="#301e6c" d="M458.9 290.9h0M458.4 297.2h0M467.8 284.8h0M467.7 290.9h0M467.8 297.2h0M477.4 284.8h0M477.6 290.9h0M477.6 297.2h0M487.2 278.8h0M487.2 284.8h0M487.0 290.9h0M496.4 278.8h0M495.9 284.8h0M495.4 290.9h0M504.8 278.8h0M504.4 284.8h0M504.2 290.9h0M514.7 290.9h0"/>
<path stroke="#2a1854" d="M456.1 366.1h0M466.3 366.1h0M476.7 359.0h0M477.3 366.1h0M487.0 352.0h0M487.4 359.0h0M487.4 366.1h0"/>
<path stroke="#301e66" d="M467.9 303.6h0M477.5 303.6h0M477.1 310.2h0M486.5 297.2h0M485.9 303.6h0M485.4 310.2h0M494.9 297.2h0M494.5 303.6h0M494.6 310.2h0M504.3 297.2h0M504.7 303.6h0M505.3 310.2h0M515.3 297.2h0M515.9 303.6h0M516.3 310.2h0"/>
<path stroke="#2a1842" d="M468.1 401.6h0M467.9 408.7h0M477.5 401.6h0M477.8 408.7h0M488.0 401.6h0M488.8 408.7h0M499.2 401.6h0M499.6 408.7h0M509.3 401.6h0M508.9 408.7h0"/>
<path stroke="#3c368a" d="M478.9 166.3h0"/>
<path stroke="#3c308a" d="M479.0 169.6h0M488.5 166.3h0M488.4 169.6h0M488.3 173.0h0M488.2 176.4h0M497.8 166.3h0M497.9 169.6h0M498.0 173.0h0M498.2 176.4h0M498.4 179.9h0M498.7 183.4h0M498.9 186.9h0M508.5 169.6h0M508.7 173.0h0M508.9 176.4h0M509.1 179.9h0M509.2 183.4h0M518.9 173.0h0M518.8 176.4h0M518.6 179.9h0M527.2 176.4h0"/>
<path stroke="#2a183c" d="M478.3 415.8h0M489.5 415.8h0M489.9 423.0h0M499.6 415.8h0M499.3 423.0h0M508.3 415.8h0M507.8 423.0h0M517.0 423.0h0"/>
<path stroke="#3c3090" d="M488.6 163.0h0"/>
<path stroke="#36247e" d="M488.5 236.8h0M497.1 232.4h0M506.3 224.0h0M506.2 228.1h0M506.2 232.4h0M515.9 220.0h0M516.0 224.0h0M516.1 228.1h0M516.2 232.4h0M525.8 228.1h0"/>
<path stroke="#362478" d="M488.0 241.5h0M487.6 246.3h0M496.8 236.8h0M496.6 241.5h0M496.5 246.3h0M496.6 251.3h0M506.2 236.8h0M506.4 241.5h0M506.5 246.3h0M506.5 251.3h0M516.2 236.8h0M516.1 241.5h0M515.9 246.3h0M515.6 251.3h0M525.5 232.4h0M525.2 236.8h0M524.8 241.5h0M524.4 246.3h0M524.0 251.3h0M533.5 241.5h0M533.4 246.3h0"/>
<path stroke="#301e60" d="M485.0 317.0h0M484.9 323.9h0M485.2 330.9h0M494.9 317.0h0M495.5 323.9h0M496.2 330.9h0M506.0 317.0h0M506.5 323.9h0M516.5 317.0h0M516.5 323.9h0M526.0 317.0h0M526.0 323.9h0"/>
<path stroke="#2a1836" d="M490.0 430.1h0M489.7 437.3h0M498.7 430.1h0M498.1 437.3h0M507.4 430.1h0M507.3 437.3h0M517.1 430.1h0M517.3 437.3h0M526.1 444.5h0"/>
<path stroke="#2a1830" d="M489.1 444.5h0M488.6 451.7h0M488.1 458.7h0M497.8 444.5h0M497.6 451.7h0M497.7 458.7h0M507.4 444.5h0M507.6 451.7h0M507.7 458.7h0M517.4 444.5h0M517.1 451.7h0M516.5 458.7h0M525.3 451.7h0M524.6 458.7h0M524.1 465.0h0"/>
<path stroke="#2a182a" d="M488.0 465.0h0M488.0 470.7h0M488.2 475.9h0M497.9 465.0h0M498.0 470.7h0M498.0 475.9h0M497.8 480.3h0M507.5 465.0h0M507.1 470.7h0M506.6 475.9h0M506.1 480.3h0M505.7 484.1h0M515.8 465.0h0M515.2 470.7h0M514.7 475.9h0M514.4 480.3h0M514.2 484.1h0M523.9 470.7h0M523.9 475.9h0M524.1 480.3h0M524.3 484.1h0"/>
<path stroke="#362472" d="M496.7 256.4h0M496.8 261.8h0M506.4 256.4h0M506.2 261.8h0M505.8 267.3h0M515.1 256.4h0M514.6 261.8h0M523.7 256.4h0M523.6 261.8h0M533.5 251.3h0M533.9 256.4h0"/>
<path stroke="#301e5a" d="M496.7 337.9h0M497.0 345.0h0M506.8 330.9h0M506.8 337.9h0M516.3 330.9h0M526.1 330.9h0"/>
<path stroke="#301854" d="M497.1 352.0h0M496.9 359.0h0M496.8 366.1h0M506.5 352.0h0M506.6 359.0h0M506.9 366.1h0M516.8 352.0h0M517.4 359.0h0M518.1 366.1h0M528.0 352.0h0M528.6 359.0h0M528.8 366.1h0"/>
<path stroke="#2a1824" d="M497.6 484.1h0M497.3 487.4h0M497.0 490.4h0M496.7 493.2h0M496.4 496.0h0M496.1 498.8h0M495.8 501.4h0M505.3 487.4h0M505.0 490.4h0M504.8 493.2h0M504.6 496.0h0M504.5 498.8h0M504.5 501.4h0M514.1 487.4h0M514.2 490.4h0M514.2 493.2h0M514.4 496.0h0M514.5 498.8h0M514.7 501.4h0M524.5 487.4h0M524.7 490.4h0M524.9 493.2h0M525.1 496.0h0M525.2 498.8h0M525.3 501.4h0M534.9 501.4h0"/>
<path stroke="#3c3084" d="M509.2 186.9h0"/>
<path stroke="#3c2a84" d="M509.2 190.4h0M509.0 194.0h0M508.7 197.6h0M508.4 201.2h0M518.0 186.9h0M517.6 190.4h0M517.2 194.0h0M516.8 197.6h0M516.5 201.2h0M516.2 204.9h0M516.0 208.6h0M526.1 186.9h0M525.9 190.4h0M525.7 194.0h0M525.6 197.6h0M525.6 201.2h0M525.6 204.9h0M535.3 183.4h0M535.3 186.9h0M535.4 190.4h0M535.5 194.0h0M535.6 197.6h0M535.6 201.2h0M535.7 204.9h0M545.4 183.4h0M545.4 186.9h0M545.5 190.4h0M545.4 194.0h0M545.3 197.6h0M545.1 201.2h0M544.9 204.9h0M554.9 186.9h0M554.6 190.4h0M554.3 194.0h0M554.0 197.6h0"/>
<path stroke="#361e72" d="M505.3 273.0h0M514.2 267.3h0M523.8 267.3h0M534.3 261.8h0M534.9 267.3h0M545.1 256.4h0M545.5 261.8h0"/>
<path stroke="#30185a" d="M506.6 345.0h0M516.2 337.9h0M516.3 345.0h0M526.6 337.9h0M527.3 345.0h0"/>
<path stroke="#30184e" d="M507.6 373.2h0M508.3 380.3h0M518.7 373.2h0M519.0 380.3h0M528.6 373.2h0M528.2 380.3h0"/>
<path stroke="#301848" d="M508.9 387.3h0M509.3 394.5h0M518.9 387.3h0M518.5 394.5h0M527.6 387.3h0M527.1 394.5h0M536.5 387.3h0M536.5 394.5h0"/>
<path stroke="#3c2a8a" d="M518.3 183.4h0M526.8 179.9h0M526.5 183.4h0M535.4 179.9h0"/>
<path stroke="#3c2a7e" d="M515.9 212.3h0M525.7 208.6h0M525.8 212.3h0M535.7 208.6h0"/>
<path stroke="#361e6c" d="M513.9 273.0h0M513.9 278.8h0M514.2 284.8h0M524.2 273.0h0M524.7 278.8h0M525.3 284.8h0M535.4 273.0h0M535.8 278.8h0M536.0 284.8h0M545.8 267.3h0M545.9 273.0h0M545.8 278.8h0M545.7 284.8h0M555.6 267.3h0M555.4 273.0h0M555.4 278.8h0"/>
<path stroke="#301842" d="M517.9 401.6h0M517.4 408.7h0M526.8 401.6h0M526.7 408.7h0M536.7 401.6h0M536.8 408.7h0M546.5 401.6h0M546.1 408.7h0M545.4 415.8h0"/>
<path stroke="#30183c" d="M517.1 415.8h0M526.9 415.8h0M527.1 423.0h0M536.8 415.8h0M536.4 423.0h0M544.6 423.0h0M543.9 430.1h0M553.3 423.0h0M553.3 430.1h0"/>
<path stroke="#3c247e" d="M525.9 216.1h0M525.9 220.0h0M525.9 224.0h0M535.5 212.3h0M535.4 216.1h0M535.1 220.0h0M534.8 224.0h0M534.4 228.1h0M544.5 208.6h0M544.2 212.3h0M543.9 216.1h0M543.6 220.0h0M543.4 224.0h0M543.2 228.1h0M553.4 204.9h0M553.2 208.6h0M553.1 212.3h0M553.1 216.1h0M553.2 220.0h0M553.4 224.0h0M563.0 204.9h0M563.3 208.6h0M563.6 212.3h0M563.9 216.1h0M564.3 220.0h0M564.7 224.0h0"/>
<path stroke="#361e66" d="M525.8 290.9h0M526.2 297.2h0M526.3 303.6h0M536.0 290.9h0M535.9 297.2h0M535.8 303.6h0M545.6 290.9h0M545.6 297.2h0M545.9 303.6h0M555.6 284.8h0M556.0 290.9h0M556.6 297.2h0M557.2 303.6h0M567.4 290.9h0M567.8 297.2h0M568.1 303.6h0"/>
<path stroke="#361e60" d="M526.2 310.2h0M535.8 310.2h0M536.0 317.0h0M536.5 323.9h0M546.5 310.2h0M547.2 317.0h0M557.8 310.2h0M558.2 317.0h0M567.9 310.2h0"/>
<path stroke="#301836" d="M527.1 430.1h0M526.7 437.3h0M535.8 430.1h0M535.0 437.3h0M534.2 444.5h0M543.5 437.3h0M543.5 444.5h0M553.7 437.3h0M554.1 444.5h0"/>
<path stroke="#3c2478" d="M534.0 232.4h0M533.7 236.8h0M543.2 232.4h0M543.4 236.8h0M543.7 241.5h0M544.1 246.3h0M553.7 228.1h0M554.1 232.4h0M554.6 236.8h0M555.0 241.5h0M565.0 228.1h0M565.3 232.4h0M565.5 236.8h0M575.4 232.4h0"/>
<path stroke="#36185a" d="M537.2 330.9h0M537.9 337.9h0M538.4 345.0h0M548.3 330.9h0M548.3 337.9h0M548.1 345.0h0M557.8 330.9h0M557.2 337.9h0M556.7 345.0h0M566.4 330.9h0M566.0 337.9h0M565.9 345.0h0"/>
<path stroke="#361854" d="M538.6 352.0h0M538.3 359.0h0M537.8 366.1h0M547.5 352.0h0M546.9 359.0h0M546.5 366.1h0M556.2 352.0h0M556.1 359.0h0M556.2 366.1h0"/>
<path stroke="#36184e" d="M537.2 373.2h0M536.7 380.3h0M546.3 373.2h0M546.3 380.3h0M556.3 373.2h0M556.4 380.3h0M565.6 380.3h0M564.8 387.3h0"/>
<path stroke="#301830" d="M533.7 451.7h0M533.6 458.7h0M533.9 465.0h0M543.8 451.7h0M544.2 458.7h0M544.6 465.0h0M554.6 451.7h0M554.8 458.7h0M554.8 465.0h0M564.3 458.7h0M564.1 465.0h0"/>
<path stroke="#30182a" d="M534.2 470.7h0M534.5 475.9h0M534.8 480.3h0M535.0 484.1h0M544.9 470.7h0M545.0 475.9h0M544.9 480.3h0M544.8 484.1h0M554.6 470.7h0M554.4 475.9h0M554.3 480.3h0M554.2 484.1h0M554.2 487.4h0M564.1 470.7h0M564.2 475.9h0M564.5 480.3h0M564.8 484.1h0M565.2 487.4h0"/>
<path stroke="#301824" d="M535.1 487.4h0M535.1 490.4h0M535.1 493.2h0M535.1 496.0h0M535.0 498.8h0M544.7 487.4h0M544.6 490.4h0M544.5 493.2h0M544.4 496.0h0M544.4 498.8h0M544.4 501.4h0M554.3 490.4h0M554.5 493.2h0M554.6 496.0h0M554.9 498.8h0M555.1 501.4h0M565.5 490.4h0M565.8 493.2h0M566.2 496.0h0M566.5 498.8h0M566.8 501.4h0"/>
<path stroke="#3c2472" d="M544.6 251.3h0"/>
<path stroke="#361860" d="M547.8 323.9h0M558.1 323.9h0M567.5 317.0h0M567.0 323.9h0"/>
<path stroke="#361848" d="M546.5 387.3h0M546.6 394.5h0M556.3 387.3h0M555.8 394.5h0M555.1 401.6h0M564.0 394.5h0M563.4 401.6h0"/>
<path stroke="#3c2484" d="M553.7 201.2h0"/>
<path stroke="#3c1e78" d="M555.4 246.3h0M565.6 241.5h0M575.3 236.8h0M575.2 241.5h0"/>
<path stroke="#3c1e72" d="M555.6 251.3h0M555.7 256.4h0M555.7 261.8h0M565.6 246.3h0M565.5 251.3h0M565.3 256.4h0M565.3 261.8h0M575.2 246.3h0M575.3 251.3h0M575.5 256.4h0M575.9 261.8h0M587.4 261.8h0"/>
<path stroke="#361842" d="M554.3 408.7h0M553.6 415.8h0M563.1 408.7h0M563.2 415.8h0M573.6 408.7h0M574.1 415.8h0"/>
<path stroke="#422a84" d="M563.2 190.4h0M563.0 194.0h0M573.2 194.0h0"/>
<path stroke="#422484" d="M562.9 197.6h0M562.9 201.2h0M573.5 197.6h0M573.9 201.2h0M584.9 197.6h0M585.2 201.2h0"/>
<path stroke="#3c1e6c" d="M565.4 267.3h0M565.7 273.0h0M566.2 278.8h0M576.5 267.3h0M577.0 273.0h0M577.6 278.8h0M587.7 267.3h0M587.9 273.0h0M587.8 278.8h0"/>
<path stroke="#3c1e66" d="M566.8 284.8h0M577.9 284.8h0M577.9 290.9h0M577.7 297.2h0M577.3 303.6h0M587.4 284.8h0M586.9 290.9h0M586.4 297.2h0M586.0 303.6h0M595.7 297.2h0M595.7 303.6h0"/>
<path stroke="#3c1854" d="M566.0 352.0h0M566.2 359.0h0M566.3 366.1h0M566.1 373.2h0M575.9 359.0h0M575.3 366.1h0M574.5 373.2h0M584.3 359.0h0M583.5 366.1h0M583.0 373.2h0"/>
<path stroke="#36183c" d="M563.6 423.0h0M564.1 430.1h0M574.4 423.0h0M574.6 430.1h0"/>
<path stroke="#361836" d="M564.5 437.3h0M564.7 444.5h0M574.4 437.3h0M574.2 444.5h0M574.0 451.7h0M584.1 444.5h0M584.6 451.7h0"/>
<path stroke="#361830" d="M564.6 451.7h0M574.1 458.7h0M574.4 465.0h0M575.0 470.7h0M585.3 458.7h0M586.0 465.0h0M586.7 470.7h0"/>
<path stroke="#42247e" d="M574.2 204.9h0M574.6 208.6h0M574.9 212.3h0M575.2 216.1h0M575.4 220.0h0M575.5 224.0h0M585.3 204.9h0M585.4 208.6h0M585.4 212.3h0M585.4 216.1h0M585.3 220.0h0M595.2 208.6h0M595.1 212.3h0M595.1 216.1h0M595.2 220.0h0"/>
<path stroke="#422478" d="M575.5 228.1h0M585.2 224.0h0M585.2 228.1h0M595.4 224.0h0M595.6 228.1h0"/>
<path stroke="#3c1e60" d="M576.7 310.2h0M585.7 310.2h0"/>
<path stroke="#3c1860" d="M576.2 317.0h0M575.9 323.9h0M585.7 317.0h0M585.9 323.9h0M595.9 310.2h0"/>
<path stroke="#3c185a" d="M575.8 330.9h0M576.0 337.9h0M576.1 345.0h0M576.1 352.0h0M586.1 330.9h0M586.0 337.9h0M585.7 345.0h0M585.1 352.0h0"/>
<path stroke="#3c184e" d="M573.8 380.3h0M573.2 387.3h0M582.9 380.3h0M583.1 387.3h0"/>
<path stroke="#3c1848" d="M573.0 394.5h0M573.1 401.6h0M583.6 394.5h0M584.1 401.6h0M594.4 401.6h0M594.3 408.7h0"/>
<path stroke="#36182a" d="M575.5 475.9h0M576.1 480.3h0M576.5 484.1h0M576.8 487.4h0M577.1 490.4h0M587.1 475.9h0M587.3 480.3h0M587.4 484.1h0M587.4 487.4h0M587.3 490.4h0"/>
<path stroke="#361824" d="M577.3 493.2h0M577.4 496.0h0M577.4 498.8h0M577.4 501.4h0M587.2 493.2h0M587.0 496.0h0M586.9 498.8h0M586.7 501.4h0M596.3 498.8h0M596.3 501.4h0"/>
<path stroke="#421e78" d="M585.2 232.4h0M585.3 236.8h0M585.5 241.5h0M596.0 232.4h0M596.4 236.8h0M596.9 241.5h0M607.5 232.4h0M607.7 236.8h0M607.8 241.5h0"/>
<path stroke="#421e72" d="M585.9 246.3h0M586.3 251.3h0M586.9 256.4h0M597.3 246.3h0M597.7 251.3h0M597.8 256.4h0M597.8 261.8h0M607.8 246.3h0M607.5 251.3h0M607.1 256.4h0M606.7 261.8h0"/>
<path stroke="#3c1842" d="M584.4 408.7h0M584.5 415.8h0M584.3 423.0h0M594.0 415.8h0M593.9 423.0h0"/>
<path stroke="#3c183c" d="M584.1 430.1h0M584.0 437.3h0M594.1 430.1h0M594.6 437.3h0M606.4 437.3h0"/>
<path stroke="#48247e" d="M595.3 204.9h0M605.4 208.6h0M605.6 212.3h0M605.9 216.1h0M606.3 220.0h0M617.0 212.3h0M617.3 216.1h0M617.6 220.0h0M627.3 216.1h0M627.1 220.0h0"/>
<path stroke="#421e6c" d="M597.5 267.3h0M597.1 273.0h0M596.6 278.8h0M606.2 267.3h0M605.8 273.0h0M605.6 278.8h0M615.5 267.3h0M615.6 273.0h0M615.7 278.8h0"/>
<path stroke="#421e66" d="M596.1 284.8h0M595.8 290.9h0M605.6 284.8h0M605.8 290.9h0M605.9 297.2h0M606.0 303.6h0M615.8 284.8h0M615.8 290.9h0M615.5 297.2h0M615.0 303.6h0M623.7 297.2h0"/>
<path stroke="#421860" d="M596.0 317.0h0M595.9 323.9h0M595.5 330.9h0M605.8 310.2h0M605.3 317.0h0M604.6 323.9h0M603.8 330.9h0M614.3 310.2h0M613.6 317.0h0M613.0 323.9h0M612.7 330.9h0"/>
<path stroke="#42185a" d="M594.8 337.9h0M594.0 345.0h0M593.4 352.0h0M592.9 359.0h0M603.2 337.9h0M602.9 345.0h0M602.9 352.0h0M603.2 359.0h0M612.8 337.9h0M613.2 345.0h0M613.7 352.0h0"/>
<path stroke="#421854" d="M592.9 366.1h0M593.2 373.2h0M603.7 366.1h0M604.2 373.2h0M604.4 380.3h0"/>
<path stroke="#42184e" d="M593.6 380.3h0M594.1 387.3h0M594.4 394.5h0M604.4 387.3h0M604.2 394.5h0M613.9 387.3h0M613.9 394.5h0"/>
<path stroke="#3c1836" d="M595.4 444.5h0M596.3 451.7h0M596.9 458.7h0M607.1 444.5h0M607.3 451.7h0M607.3 458.7h0"/>
<path stroke="#3c1830" d="M597.3 465.0h0M597.3 470.7h0M597.2 475.9h0M607.0 465.0h0M606.6 470.7h0M606.4 475.9h0"/>
<path stroke="#3c182a" d="M597.0 480.3h0M596.8 484.1h0M596.6 487.4h0M596.5 490.4h0M596.4 493.2h0M606.3 480.3h0M606.2 484.1h0M606.3 487.4h0M606.3 490.4h0M606.4 493.2h0M616.4 480.3h0M616.6 484.1h0M616.8 487.4h0M616.9 490.4h0M616.9 493.2h0"/>
<path stroke="#3c1824" d="M596.3 496.0h0M606.6 496.0h0M606.7 498.8h0M606.8 501.4h0M617.0 496.0h0M616.9 498.8h0M616.9 501.4h0"/>
<path stroke="#482478" d="M606.7 224.0h0M617.7 224.0h0"/>
<path stroke="#481e78" d="M607.1 228.1h0M617.7 228.1h0M617.6 232.4h0M617.3 236.8h0M617.0 241.5h0M626.9 224.0h0M626.5 228.1h0M626.1 232.4h0M625.7 236.8h0M625.4 241.5h0M634.7 232.4h0M634.7 236.8h0"/>
<path stroke="#421848" d="M604.0 401.6h0M603.9 408.7h0M614.2 401.6h0M614.8 408.7h0"/>
<path stroke="#421842" d="M604.2 415.8h0M604.8 423.0h0M615.7 415.8h0M616.5 423.0h0M617.0 430.1h0M627.0 423.0h0M626.8 430.1h0"/>
<path stroke="#42183c" d="M605.6 430.1h0M617.2 437.3h0M617.1 444.5h0M626.4 437.3h0M626.0 444.5h0"/>
<path stroke="#481e72" d="M616.5 246.3h0M616.1 251.3h0M615.8 256.4h0M615.6 261.8h0M625.3 246.3h0M625.2 251.3h0M625.2 256.4h0M625.4 261.8h0M634.7 241.5h0M634.8 246.3h0M635.0 251.3h0M635.0 256.4h0"/>
<path stroke="#48185a" d="M614.2 359.0h0M623.5 337.9h0M623.9 345.0h0M624.1 352.0h0M624.0 359.0h0M623.7 366.1h0M633.5 345.0h0M633.2 352.0h0M633.1 359.0h0M633.2 366.1h0"/>
<path stroke="#481854" d="M614.4 366.1h0M614.3 373.2h0M614.1 380.3h0M623.6 373.2h0M623.6 380.3h0M633.6 373.2h0M634.3 380.3h0M635.1 387.3h0"/>
<path stroke="#421836" d="M616.7 451.7h0M616.4 458.7h0M625.8 451.7h0M625.9 458.7h0M626.1 465.0h0M636.1 465.0h0"/>
<path stroke="#421830" d="M616.2 465.0h0M616.1 470.7h0M616.3 475.9h0M626.4 470.7h0M626.6 475.9h0M626.7 480.3h0M636.1 470.7h0M635.8 475.9h0M635.4 480.3h0"/>
<path stroke="#481e6c" d="M625.5 267.3h0M625.5 273.0h0M625.4 278.8h0M634.9 261.8h0M634.7 267.3h0M634.2 273.0h0M633.6 278.8h0M641.9 273.0h0M641.5 278.8h0"/>
<path stroke="#481e66" d="M625.0 284.8h0M624.4 290.9h0M632.9 284.8h0M632.4 290.9h0M632.0 297.2h0M641.2 284.8h0M641.3 290.9h0M641.5 297.2h0"/>
<path stroke="#421866" d="M623.1 303.6h0"/>
<path stroke="#481860" d="M622.6 310.2h0M622.4 317.0h0M622.6 323.9h0M623.0 330.9h0M632.1 310.2h0M632.6 317.0h0M633.1 323.9h0M633.5 330.9h0M633.6 337.9h0M642.5 310.2h0M642.8 317.0h0M642.9 323.9h0M642.8 330.9h0"/>
<path stroke="#48184e" d="M624.0 387.3h0M624.7 394.5h0M635.9 394.5h0M636.3 401.6h0"/>
<path stroke="#481848" d="M625.5 401.6h0M626.3 408.7h0M626.8 415.8h0M636.5 408.7h0M636.3 415.8h0"/>
<path stroke="#42182a" d="M626.6 484.1h0M626.5 487.4h0M626.3 490.4h0M626.1 493.2h0M625.8 496.0h0M635.0 484.1h0M634.6 487.4h0M634.3 490.4h0M633.9 493.2h0M633.6 496.0h0"/>
<path stroke="#421824" d="M625.6 498.8h0M625.2 501.4h0M633.3 498.8h0M633.1 501.4h0"/>
<path stroke="#4e2478" d="M635.4 220.0h0"/>
<path stroke="#4e1e78" d="M635.1 224.0h0M634.9 228.1h0M644.0 228.1h0M644.2 232.4h0M644.3 236.8h0M644.3 241.5h0M653.2 236.8h0M652.8 241.5h0"/>
<path stroke="#481866" d="M631.9 303.6h0M642.0 303.6h0"/>
<path stroke="#481842" d="M635.9 423.0h0M635.5 430.1h0M644.6 423.0h0M644.7 430.1h0M645.0 437.3h0"/>
<path stroke="#48183c" d="M635.3 437.3h0M635.4 444.5h0M645.3 444.5h0M645.4 451.7h0"/>
<path stroke="#481836" d="M635.7 451.7h0M636.0 458.7h0M645.2 458.7h0M644.8 465.0h0"/>
<path stroke="#4e1e72" d="M644.3 246.3h0M644.1 251.3h0M643.7 256.4h0M643.2 261.8h0M652.4 246.3h0M651.9 251.3h0M651.3 256.4h0M650.8 261.8h0M659.4 267.3h0"/>
<path stroke="#4e1e6c" d="M642.5 267.3h0M650.4 267.3h0M650.3 273.0h0M650.5 278.8h0M650.8 284.8h0M659.8 273.0h0M660.2 278.8h0M660.6 284.8h0M660.9 290.9h0"/>
<path stroke="#4e1860" d="M642.5 337.9h0M651.9 317.0h0M651.7 323.9h0M651.5 330.9h0M651.7 337.9h0M652.1 345.0h0M660.5 323.9h0M661.0 330.9h0M661.7 337.9h0"/>
<path stroke="#4e185a" d="M642.4 345.0h0M642.5 352.0h0M642.9 359.0h0M643.6 366.1h0M652.8 352.0h0M653.6 359.0h0M654.4 366.1h0M654.8 373.2h0"/>
<path stroke="#4e1854" d="M644.5 373.2h0M645.2 380.3h0M645.7 387.3h0M654.9 380.3h0M654.7 387.3h0"/>
<path stroke="#4e184e" d="M645.8 394.5h0M645.6 401.6h0M654.3 394.5h0M653.9 401.6h0"/>
<path stroke="#4e1848" d="M645.2 408.7h0M644.8 415.8h0M653.8 408.7h0M653.8 415.8h0"/>
<path stroke="#481830" d="M644.2 470.7h0M643.5 475.9h0M643.0 480.3h0"/>
<path stroke="#48182a" d="M642.6 484.1h0M642.4 487.4h0M642.2 490.4h0M642.0 493.2h0M642.0 496.0h0"/>
<path stroke="#481824" d="M642.0 498.8h0M642.0 501.4h0"/>
<path stroke="#4e1e66" d="M651.2 290.9h0M651.7 297.2h0M660.9 297.2h0"/>
<path stroke="#4e1866" d="M652.0 303.6h0M652.0 310.2h0M660.8 303.6h0M660.5 310.2h0M660.4 317.0h0"/>
<path stroke="#4e1842" d="M654.1 423.0h0M654.4 430.1h0M654.6 437.3h0"/>
<path stroke="#4e183c" d="M654.3 444.5h0M653.8 451.7h0"/>
<path stroke="#4e1836" d="M653.0 458.7h0M652.2 465.0h0"/>
<path stroke="#4e1830" d="M651.7 470.7h0M651.3 475.9h0M651.1 480.3h0M651.1 484.1h0"/>
<path stroke="#4e182a" d="M651.1 487.4h0M651.2 490.4h0M651.3 493.2h0M651.4 496.0h0M651.5 498.8h0"/>
<path stroke="#4e1824" d="M651.6 501.4h0"/>
<path stroke="#541e78" d="M660.2 241.5h0M659.8 246.3h0"/>
<path stroke="#541e72" d="M659.4 251.3h0M659.2 256.4h0M659.2 261.8h0M667.7 251.3h0M668.0 256.4h0M668.4 261.8h0M668.8 267.3h0M676.9 256.4h0M677.2 261.8h0M677.3 267.3h0M677.3 273.0h0"/>
<path stroke="#541860" d="M662.5 345.0h0M670.0 323.9h0M670.8 330.9h0M671.6 337.9h0M672.1 345.0h0M680.0 330.9h0M680.2 337.9h0M680.1 345.0h0M679.7 352.0h0"/>
<path stroke="#54185a" d="M663.2 352.0h0M663.7 359.0h0M663.8 366.1h0M663.6 373.2h0M672.2 352.0h0M672.0 359.0h0M671.6 366.1h0M671.3 373.2h0M679.3 359.0h0"/>
<path stroke="#541854" d="M663.2 380.3h0M662.8 387.3h0M671.0 380.3h0M671.1 387.3h0"/>
<path stroke="#54184e" d="M662.6 394.5h0M662.7 401.6h0M671.3 394.5h0M671.6 401.6h0"/>
<path stroke="#541848" d="M663.0 408.7h0M663.3 415.8h0M663.4 423.0h0M671.8 408.7h0"/>
<path stroke="#541842" d="M663.2 430.1h0M662.7 437.3h0"/>
<path stroke="#54183c" d="M661.9 444.5h0M661.0 451.7h0"/>
<path stroke="#541836" d="M660.3 458.7h0M660.0 465.0h0"/>
<path stroke="#541830" d="M659.9 470.7h0M660.0 475.9h0M660.2 480.3h0M660.4 484.1h0"/>
<path stroke="#54182a" d="M660.5 487.4h0M660.6 490.4h0M660.7 493.2h0M660.7 496.0h0M660.7 498.8h0"/>
<path stroke="#541824" d="M660.6 501.4h0"/>
<path stroke="#541e6c" d="M669.1 273.0h0M669.3 278.8h0M669.3 284.8h0M669.2 290.9h0M677.2 278.8h0M677.0 284.8h0M676.9 290.9h0M676.9 297.2h0"/>
<path stroke="#541e66" d="M669.0 297.2h0"/>
<path stroke="#541866" d="M668.8 303.6h0M668.9 310.2h0M669.3 317.0h0M677.3 303.6h0M677.9 310.2h0M678.7 317.0h0M679.5 323.9h0"/>
<path stroke="#5a1848" d="M671.7 415.8h0M671.2 423.0h0M678.6 415.8h0M677.7 423.0h0"/>
<path stroke="#5a1842" d="M670.4 430.1h0M669.6 437.3h0M677.0 430.1h0M676.5 437.3h0"/>
<path stroke="#5a183c" d="M668.8 444.5h0M668.4 451.7h0"/>
<path stroke="#5a1836" d="M668.3 458.7h0M668.5 465.0h0M668.8 470.7h0"/>
<path stroke="#5a1830" d="M669.0 475.9h0M669.1 480.3h0M669.1 484.1h0"/>
<path stroke="#5a182a" d="M669.0 487.4h0M669.0 490.4h0M668.8 493.2h0M668.7 496.0h0M668.5 498.8h0"/>
<path stroke="#5a122a" d="M668.4 501.4h0"/>
<path stroke="#5a185a" d="M679.1 366.1h0M679.0 373.2h0M686.6 359.0h0M686.8 366.1h0M687.1 373.2h0M694.1 359.0h0M694.4 366.1h0M694.6 373.2h0"/>
<path stroke="#5a1854" d="M679.3 380.3h0M679.6 387.3h0M687.3 380.3h0M687.4 387.3h0"/>
<path stroke="#5a184e" d="M679.8 394.5h0M679.7 401.6h0M679.3 408.7h0M687.1 394.5h0"/>
<path stroke="#60183c" d="M676.3 444.5h0M676.5 451.7h0M684.3 444.5h0M684.6 451.7h0"/>
<path stroke="#601836" d="M676.8 458.7h0M677.0 465.0h0M677.1 470.7h0"/>
<path stroke="#601830" d="M677.0 475.9h0M676.9 480.3h0M676.7 484.1h0"/>
<path stroke="#60182a" d="M676.5 487.4h0"/>
<path stroke="#60122a" d="M676.3 490.4h0M676.1 493.2h0M676.0 496.0h0M675.9 498.8h0M675.9 501.4h0"/>
<path stroke="#5a1e72" d="M684.8 267.3h0M684.6 273.0h0M684.5 278.8h0M691.8 261.8h0M691.7 267.3h0M691.8 273.0h0M692.0 278.8h0M699.9 278.8h0M700.6 284.8h0"/>
<path stroke="#5a1e6c" d="M684.5 284.8h0M684.8 290.9h0M685.4 297.2h0M692.5 284.8h0M693.2 290.9h0M693.9 297.2h0M701.2 290.9h0M701.7 297.2h0"/>
<path stroke="#5a186c" d="M686.1 303.6h0M694.6 303.6h0M701.9 303.6h0M701.8 310.2h0"/>
<path stroke="#5a1866" d="M686.9 310.2h0M687.5 317.0h0M687.8 323.9h0M695.0 310.2h0M695.1 317.0h0M694.8 323.9h0M694.4 330.9h0M701.4 317.0h0M701.0 323.9h0M700.7 330.9h0"/>
<path stroke="#5a1860" d="M687.8 330.9h0M687.5 337.9h0M687.1 345.0h0M686.7 352.0h0M694.0 337.9h0M693.8 345.0h0M693.9 352.0h0M700.6 337.9h0"/>
<path stroke="#60184e" d="M686.4 401.6h0M685.6 408.7h0M693.2 394.5h0M692.3 401.6h0M691.6 408.7h0M698.1 401.6h0"/>
<path stroke="#601848" d="M684.8 415.8h0M684.2 423.0h0M691.2 415.8h0M691.1 423.0h0"/>
<path stroke="#601842" d="M683.9 430.1h0M684.0 437.3h0"/>
<path stroke="#661836" d="M684.7 458.7h0M684.6 465.0h0M684.3 470.7h0M691.2 465.0h0"/>
<path stroke="#661830" d="M684.0 475.9h0"/>
<path stroke="#661230" d="M683.8 480.3h0M683.6 484.1h0M683.5 487.4h0"/>
<path stroke="#66122a" d="M683.5 490.4h0M683.5 493.2h0M683.6 496.0h0M683.8 498.8h0M683.9 501.4h0"/>
<path stroke="#601854" d="M694.4 380.3h0M693.9 387.3h0M700.4 380.3h0M699.5 387.3h0M698.7 394.5h0"/>
<path stroke="#661842" d="M691.3 430.1h0M691.7 437.3h0M698.6 430.1h0M698.7 437.3h0"/>
<path stroke="#66183c" d="M691.9 444.5h0M691.9 451.7h0M691.6 458.7h0"/>
<path stroke="#6c1836" d="M690.9 470.7h0M697.6 465.0h0"/>
<path stroke="#6c1230" d="M690.7 475.9h0M690.7 480.3h0M690.8 484.1h0M691.0 487.4h0M697.7 475.9h0"/>
<path stroke="#6c122a" d="M691.2 490.4h0M691.5 493.2h0M691.7 496.0h0M692.1 498.8h0M692.4 501.4h0"/>
<path stroke="#601e78" d="M698.5 256.4h0M704.9 246.3h0M704.9 251.3h0M705.1 256.4h0M705.5 261.8h0"/>
<path stroke="#601e72" d="M698.6 261.8h0M698.8 267.3h0M699.2 273.0h0M706.1 267.3h0M706.7 273.0h0"/>
<path stroke="#601860" d="M700.8 345.0h0M701.1 352.0h0M707.6 345.0h0M707.7 352.0h0"/>
<path stroke="#60185a" d="M701.3 359.0h0M701.4 366.1h0M701.0 373.2h0"/>
<path stroke="#66184e" d="M697.9 408.7h0M704.3 401.6h0"/>
<path stroke="#661848" d="M698.0 415.8h0M698.3 423.0h0"/>
<path stroke="#6c1842" d="M698.6 444.5h0M704.8 437.3h0"/>
<path stroke="#6c183c" d="M698.2 451.7h0M697.8 458.7h0"/>
<path stroke="#6c1236" d="M697.6 470.7h0"/>
<path stroke="#721230" d="M698.1 480.3h0M698.4 484.1h0M698.8 487.4h0"/>
<path stroke="#72122a" d="M699.1 490.4h0M699.5 493.2h0M699.8 496.0h0M700.1 498.8h0M700.3 501.4h0"/>
<path stroke="#601872" d="M707.4 278.8h0M707.9 284.8h0M708.2 290.9h0"/>
<path stroke="#60186c" d="M708.2 297.2h0M708.0 303.6h0M707.6 310.2h0M707.2 317.0h0"/>
<path stroke="#601866" d="M707.0 323.9h0M707.0 330.9h0M707.3 337.9h0"/>
<path stroke="#661860" d="M707.6 359.0h0M707.1 366.1h0M713.4 352.0h0M712.8 359.0h0M712.0 366.1h0"/>
<path stroke="#66185a" d="M706.4 373.2h0M705.5 380.3h0"/>
<path stroke="#661854" d="M704.8 387.3h0M704.3 394.5h0"/>
<path stroke="#6c184e" d="M704.5 408.7h0M704.8 415.8h0M710.8 408.7h0"/>
<path stroke="#6c1848" d="M705.0 423.0h0M705.0 430.1h0"/>
<path stroke="#721842" d="M704.4 444.5h0"/>
<path stroke="#72123c" d="M704.0 451.7h0M703.9 458.7h0"/>
<path stroke="#721236" d="M704.1 465.0h0M704.5 470.7h0"/>
<path stroke="#781236" d="M705.0 475.9h0M710.8 465.0h0M711.4 470.7h0"/>
<path stroke="#781230" d="M705.5 480.3h0M706.0 484.1h0M706.3 487.4h0"/>
<path stroke="#78122a" d="M706.6 490.4h0M706.9 493.2h0M707.0 496.0h0M707.2 498.8h0M707.3 501.4h0"/>
<path stroke="#661e7e" d="M710.8 236.8h0"/>
<path stroke="#661e78" d="M710.8 241.5h0M711.0 246.3h0M711.3 251.3h0M711.8 256.4h0"/>
<path stroke="#661878" d="M712.4 261.8h0M713.1 267.3h0"/>
<path stroke="#661872" d="M713.6 273.0h0M714.0 278.8h0M714.2 284.8h0M714.1 290.9h0"/>
<path stroke="#66186c" d="M713.8 297.2h0M713.4 303.6h0M713.0 310.2h0M712.9 317.0h0"/>
<path stroke="#661866" d="M713.0 323.9h0M713.3 330.9h0M713.6 337.9h0M713.6 345.0h0"/>
<path stroke="#6c1860" d="M711.2 373.2h0M717.4 359.0h0M716.5 366.1h0M716.0 373.2h0"/>
<path stroke="#6c185a" d="M710.5 380.3h0M710.2 387.3h0"/>
<path stroke="#6c1854" d="M710.2 394.5h0M710.5 401.6h0"/>
<path stroke="#72184e" d="M711.0 415.8h0"/>
<path stroke="#721848" d="M710.9 423.0h0"/>
<path stroke="#721248" d="M710.6 430.1h0M710.2 437.3h0"/>
<path stroke="#721242" d="M709.9 444.5h0"/>
<path stroke="#781242" d="M709.9 451.7h0M715.4 444.5h0"/>
<path stroke="#78123c" d="M710.2 458.7h0"/>
<path stroke="#7e1236" d="M712.0 475.9h0M717.9 470.7h0"/>
<path stroke="#7e1230" d="M712.5 480.3h0M712.8 484.1h0M713.0 487.4h0"/>
<path stroke="#7e122a" d="M713.2 490.4h0M713.2 493.2h0M713.2 496.0h0M713.2 498.8h0"/>
<path stroke="#84122a" d="M713.1 501.4h0M718.7 493.2h0M718.6 496.0h0"/>
<path stroke="#6c1e7e" d="M716.4 228.1h0M716.4 232.4h0M716.5 236.8h0M716.8 241.5h0M721.6 220.0h0M721.6 224.0h0M721.7 228.1h0M721.9 232.4h0"/>
<path stroke="#6c1878" d="M717.2 246.3h0M717.8 251.3h0M718.4 256.4h0M718.9 261.8h0M719.4 267.3h0M723.3 246.3h0M723.9 251.3h0M724.4 256.4h0M724.7 261.8h0M724.9 267.3h0M724.8 273.0h0"/>
<path stroke="#6c1872" d="M719.7 273.0h0M719.7 278.8h0M719.5 284.8h0M719.1 290.9h0M718.8 297.2h0M724.6 278.8h0M724.2 284.8h0M723.9 290.9h0M723.6 297.2h0M723.6 303.6h0"/>
<path stroke="#6c186c" d="M718.5 303.6h0M718.5 310.2h0M718.6 317.0h0M718.9 323.9h0M723.8 310.2h0M724.1 317.0h0"/>
<path stroke="#6c1866" d="M719.1 330.9h0M719.1 337.9h0M718.8 345.0h0M718.2 352.0h0"/>
<path stroke="#72185a" d="M715.7 380.3h0M715.8 387.3h0M716.1 394.5h0"/>
<path stroke="#721254" d="M716.4 401.6h0M716.5 408.7h0"/>
<path stroke="#78124e" d="M716.4 415.8h0M716.1 423.0h0M721.2 415.8h0M720.8 423.0h0"/>
<path stroke="#781248" d="M715.7 430.1h0M715.4 437.3h0"/>
<path stroke="#7e1242" d="M715.9 451.7h0M721.9 451.7h0"/>
<path stroke="#7e123c" d="M716.6 458.7h0M717.3 465.0h0"/>
<path stroke="#841236" d="M718.4 475.9h0M723.8 470.7h0"/>
<path stroke="#841230" d="M718.6 480.3h0M718.8 484.1h0M718.8 487.4h0M718.7 490.4h0"/>
<path stroke="#8a122a" d="M718.5 498.8h0M718.4 501.4h0M723.6 493.2h0M723.5 496.0h0"/>
<path stroke="#6c187e" d="M722.3 236.8h0M722.7 241.5h0"/>
<path stroke="#72186c" d="M724.3 323.9h0M724.3 330.9h0M729.2 317.0h0M729.1 323.9h0M728.7 330.9h0M728.0 337.9h0"/>
<path stroke="#721866" d="M723.9 337.9h0M723.2 345.0h0M722.4 352.0h0M721.6 359.0h0"/>
<path stroke="#721860" d="M721.1 366.1h0M720.9 373.2h0"/>
<path stroke="#721260" d="M721.0 380.3h0"/>
<path stroke="#78125a" d="M721.3 387.3h0M721.6 394.5h0"/>
<path stroke="#781254" d="M721.7 401.6h0M721.5 408.7h0"/>
<path stroke="#7e124e" d="M720.6 430.1h0M725.5 423.0h0M725.6 430.1h0"/>
<path stroke="#7e1248" d="M720.7 437.3h0M721.1 444.5h0"/>
<path stroke="#84123c" d="M722.7 458.7h0M723.4 465.0h0"/>
<path stroke="#8a1236" d="M723.9 475.9h0M728.9 470.7h0M728.8 475.9h0"/>
<path stroke="#8a1230" d="M723.9 480.3h0M723.9 484.1h0M723.8 487.4h0M723.7 490.4h0"/>
<path stroke="#90122a" d="M723.5 498.8h0M723.4 501.4h0M728.3 493.2h0M728.3 496.0h0"/>
<path stroke="#721e84" d="M726.5 212.3h0M726.5 216.1h0M726.6 220.0h0M731.2 208.6h0M731.3 212.3h0M731.4 216.1h0M731.7 220.0h0M735.9 208.6h0M736.2 212.3h0M736.5 216.1h0M736.9 220.0h0"/>
<path stroke="#721e7e" d="M726.8 224.0h0M727.1 228.1h0M732.1 224.0h0M732.5 228.1h0M737.4 224.0h0"/>
<path stroke="#72187e" d="M727.5 232.4h0M728.0 236.8h0M728.5 241.5h0M729.1 246.3h0M733.0 232.4h0M733.5 236.8h0M734.0 241.5h0M734.3 246.3h0"/>
<path stroke="#721878" d="M729.5 251.3h0M729.7 256.4h0M729.8 261.8h0M729.6 267.3h0M729.3 273.0h0M729.0 278.8h0M734.5 251.3h0M734.5 256.4h0M734.3 261.8h0M733.9 267.3h0M733.6 273.0h0M733.3 278.8h0M733.2 284.8h0"/>
<path stroke="#721872" d="M728.7 284.8h0M728.5 290.9h0M728.6 297.2h0M728.8 303.6h0M729.0 310.2h0M733.3 290.9h0M733.5 297.2h0M733.8 303.6h0"/>
<path stroke="#781866" d="M727.2 345.0h0M726.4 352.0h0M725.9 359.0h0"/>
<path stroke="#781266" d="M725.7 366.1h0M730.6 352.0h0M730.4 359.0h0"/>
<path stroke="#781260" d="M725.9 373.2h0M726.2 380.3h0M726.5 387.3h0"/>
<path stroke="#7e125a" d="M726.6 394.5h0M726.4 401.6h0M731.1 394.5h0M730.7 401.6h0"/>
<path stroke="#7e1254" d="M726.0 408.7h0M725.7 415.8h0"/>
<path stroke="#841248" d="M726.1 437.3h0M726.8 444.5h0"/>
<path stroke="#841242" d="M727.7 451.7h0"/>
<path stroke="#8a1242" d="M728.4 458.7h0M733.1 451.7h0M733.5 458.7h0"/>
<path stroke="#8a123c" d="M728.7 465.0h0"/>
<path stroke="#901236" d="M728.7 480.3h0M733.3 475.9h0"/>
<path stroke="#901230" d="M728.5 484.1h0M728.4 487.4h0M728.4 490.4h0"/>
<path stroke="#96122a" d="M728.4 498.8h0M728.5 501.4h0M733.1 493.2h0M733.3 496.0h0"/>
<path stroke="#722484" d="M731.2 204.9h0M735.8 204.9h0"/>
<path stroke="#781872" d="M733.9 310.2h0M733.8 317.0h0M738.0 290.9h0M738.3 297.2h0M738.4 303.6h0M738.3 310.2h0M737.9 317.0h0M737.2 323.9h0"/>
<path stroke="#78186c" d="M733.4 323.9h0M732.7 330.9h0M731.8 337.9h0"/>
<path stroke="#78126c" d="M731.1 345.0h0"/>
<path stroke="#7e1266" d="M730.6 366.1h0M730.9 373.2h0M735.4 366.1h0M735.7 373.2h0"/>
<path stroke="#7e1260" d="M731.2 380.3h0M731.3 387.3h0"/>
<path stroke="#841254" d="M730.4 408.7h0M730.2 415.8h0M730.3 423.0h0M734.8 415.8h0"/>
<path stroke="#84124e" d="M730.8 430.1h0M731.6 437.3h0"/>
<path stroke="#8a1248" d="M732.4 444.5h0M737.6 444.5h0"/>
<path stroke="#90123c" d="M733.6 465.0h0M733.4 470.7h0M737.9 465.0h0"/>
<path stroke="#961236" d="M733.1 480.3h0M737.6 475.9h0M737.6 480.3h0"/>
<path stroke="#961230" d="M733.1 484.1h0M733.0 487.4h0M733.1 490.4h0"/>
<path stroke="#960c2a" d="M733.4 498.8h0"/>
<path stroke="#9c0c2a" d="M733.6 501.4h0M738.0 493.2h0M738.2 496.0h0M738.4 498.8h0"/>
<path stroke="#72248a" d="M735.7 197.6h0M735.7 201.2h0"/>
<path stroke="#78187e" d="M737.9 228.1h0M738.3 232.4h0M738.7 236.8h0M738.9 241.5h0M739.0 246.3h0M738.9 251.3h0M742.9 228.1h0M743.2 232.4h0M743.3 236.8h0M743.3 241.5h0M743.2 246.3h0M742.9 251.3h0M742.6 256.4h0M747.4 228.1h0M747.5 232.4h0M747.4 236.8h0M747.3 241.5h0"/>
<path stroke="#781878" d="M738.7 256.4h0M738.3 261.8h0M738.0 267.3h0M737.8 273.0h0M737.7 278.8h0M737.8 284.8h0M742.3 261.8h0M742.1 267.3h0M742.0 273.0h0M742.2 278.8h0M742.4 284.8h0M742.6 290.9h0"/>
<path stroke="#7e126c" d="M736.3 330.9h0M735.6 337.9h0M735.1 345.0h0M734.9 352.0h0M735.1 359.0h0M739.4 337.9h0M739.3 345.0h0"/>
<path stroke="#841266" d="M735.8 380.3h0M740.1 373.2h0M739.9 380.3h0"/>
<path stroke="#841260" d="M735.6 387.3h0M735.2 394.5h0M739.6 387.3h0"/>
<path stroke="#84125a" d="M734.9 401.6h0M734.7 408.7h0"/>
<path stroke="#8a1254" d="M735.3 423.0h0M739.6 415.8h0M740.4 423.0h0M741.2 430.1h0"/>
<path stroke="#8a124e" d="M736.1 430.1h0M736.9 437.3h0"/>
<path stroke="#901248" d="M738.0 451.7h0M742.3 444.5h0M742.4 451.7h0"/>
<path stroke="#901242" d="M738.1 458.7h0"/>
<path stroke="#96123c" d="M737.7 470.7h0M742.0 465.0h0"/>
<path stroke="#9c1230" d="M737.6 484.1h0"/>
<path stroke="#9c0c30" d="M737.7 487.4h0M737.8 490.4h0M742.2 484.1h0"/>
<path stroke="#a20c2a" d="M738.6 501.4h0M742.8 493.2h0M743.0 496.0h0M743.2 498.8h0M743.3 501.4h0"/>
<path stroke="#78248a" d="M740.0 190.4h0M740.0 194.0h0M740.1 197.6h0M740.2 201.2h0M740.5 204.9h0M744.2 190.4h0M744.4 194.0h0M744.6 197.6h0M744.9 201.2h0M745.3 204.9h0"/>
<path stroke="#781e84" d="M740.8 208.6h0M741.2 212.3h0M741.6 216.1h0M742.1 220.0h0M742.5 224.0h0M745.7 208.6h0M746.1 212.3h0M746.5 216.1h0M746.9 220.0h0M747.2 224.0h0"/>
<path stroke="#7e1872" d="M742.7 297.2h0M742.6 303.6h0"/>
<path stroke="#7e1272" d="M742.2 310.2h0M741.5 317.0h0M740.7 323.9h0M739.9 330.9h0M746.3 303.6h0M745.7 310.2h0M744.9 317.0h0"/>
<path stroke="#84126c" d="M739.4 352.0h0M739.7 359.0h0M740.0 366.1h0M743.5 345.0h0M743.9 352.0h0M744.2 359.0h0"/>
<path stroke="#8a1260" d="M739.2 394.5h0M743.2 394.5h0M743.3 401.6h0"/>
<path stroke="#8a125a" d="M739.0 401.6h0M739.1 408.7h0"/>
<path stroke="#90124e" d="M741.9 437.3h0M746.5 437.3h0"/>
<path stroke="#961242" d="M742.2 458.7h0M746.2 458.7h0"/>
<path stroke="#9c123c" d="M741.9 470.7h0M746.0 465.0h0"/>
<path stroke="#9c0c36" d="M741.9 475.9h0M742.0 480.3h0"/>
<path stroke="#a20c30" d="M742.4 487.4h0M742.6 490.4h0M746.8 484.1h0M747.0 487.4h0"/>
<path stroke="#782a90" d="M744.2 183.4h0M744.2 186.9h0M748.2 179.9h0M748.2 183.4h0M748.3 186.9h0"/>
<path stroke="#7e187e" d="M747.0 246.3h0M746.7 251.3h0M746.4 256.4h0M751.5 228.1h0M751.4 232.4h0M751.2 236.8h0M750.9 241.5h0M750.6 246.3h0M750.3 251.3h0M750.2 256.4h0M750.2 261.8h0"/>
<path stroke="#7e1878" d="M746.2 261.8h0M746.2 267.3h0M746.3 273.0h0M746.6 278.8h0M746.8 284.8h0M746.9 290.9h0M750.3 267.3h0M750.6 273.0h0M750.8 278.8h0M750.9 284.8h0"/>
<path stroke="#7e1278" d="M746.8 297.2h0M750.8 290.9h0"/>
<path stroke="#841272" d="M744.1 323.9h0M743.6 330.9h0M743.4 337.9h0M748.9 310.2h0M748.2 317.0h0M747.6 323.9h0M747.4 330.9h0M747.5 337.9h0"/>
<path stroke="#8a126c" d="M744.3 366.1h0M744.1 373.2h0M748.1 352.0h0M748.3 359.0h0M748.1 366.1h0M747.8 373.2h0"/>
<path stroke="#8a1266" d="M743.8 380.3h0M743.4 387.3h0M747.4 380.3h0"/>
<path stroke="#90125a" d="M743.7 408.7h0M744.5 415.8h0M748.4 408.7h0M749.2 415.8h0"/>
<path stroke="#901254" d="M745.3 423.0h0M746.0 430.1h0M750.0 423.0h0"/>
<path stroke="#96124e" d="M746.6 444.5h0M750.6 437.3h0M750.4 444.5h0"/>
<path stroke="#961248" d="M746.4 451.7h0"/>
<path stroke="#9c0c3c" d="M746.1 470.7h0"/>
<path stroke="#a20c36" d="M746.3 475.9h0M746.5 480.3h0M750.7 475.9h0"/>
<path stroke="#a80c30" d="M747.2 490.4h0M751.4 487.4h0M751.6 490.4h0M751.6 493.2h0"/>
<path stroke="#a80c2a" d="M747.4 493.2h0M747.5 496.0h0M747.6 498.8h0M747.7 501.4h0"/>
<path stroke="#782a8a" d="M748.5 190.4h0"/>
<path stroke="#7e248a" d="M748.8 194.0h0M749.1 197.6h0M749.5 201.2h0M750.0 204.9h0M753.3 194.0h0M753.8 197.6h0M754.2 201.2h0M754.6 204.9h0M754.9 208.6h0"/>
<path stroke="#7e1e84" d="M750.4 208.6h0M750.8 212.3h0M751.1 216.1h0M751.4 220.0h0M751.5 224.0h0M755.2 212.3h0M755.4 216.1h0M755.4 220.0h0M755.4 224.0h0"/>
<path stroke="#841278" d="M750.4 297.2h0M749.7 303.6h0M754.7 284.8h0M754.3 290.9h0M753.6 297.2h0"/>
<path stroke="#8a1272" d="M747.8 345.0h0M751.3 323.9h0M751.4 330.9h0M751.7 337.9h0M752.0 345.0h0"/>
<path stroke="#901266" d="M747.2 387.3h0M751.1 387.3h0"/>
<path stroke="#901260" d="M747.2 394.5h0M747.6 401.6h0"/>
<path stroke="#961254" d="M750.4 430.1h0M754.5 430.1h0"/>
<path stroke="#9c1248" d="M750.2 451.7h0"/>
<path stroke="#9c0c42" d="M750.0 458.7h0"/>
<path stroke="#a20c42" d="M750.1 465.0h0M754.3 465.0h0"/>
<path stroke="#a20c3c" d="M750.3 470.7h0"/>
<path stroke="#a80c36" d="M751.0 480.3h0M751.2 484.1h0M755.3 480.3h0"/>
<path stroke="#ae0c2a" d="M751.7 496.0h0M751.6 498.8h0M751.5 501.4h0"/>
<path stroke="#7e3090" d="M752.1 173.0h0M752.1 176.4h0M756.2 176.4h0"/>
<path stroke="#7e2a90" d="M752.2 179.9h0M752.4 183.4h0M752.6 186.9h0M753.0 190.4h0M756.4 179.9h0M756.7 183.4h0"/>
<path stroke="#7e1884" d="M755.2 228.1h0M755.0 232.4h0"/>
<path stroke="#84187e" d="M754.7 236.8h0M754.4 241.5h0M754.2 246.3h0M754.1 251.3h0M754.1 256.4h0M754.3 261.8h0M754.5 267.3h0M754.7 273.0h0"/>
<path stroke="#841878" d="M754.8 278.8h0"/>
<path stroke="#8a1278" d="M752.9 303.6h0M752.1 310.2h0M751.6 317.0h0M756.8 297.2h0M756.0 303.6h0"/>
<path stroke="#901272" d="M752.2 352.0h0M752.1 359.0h0M755.8 337.9h0M756.0 345.0h0"/>
<path stroke="#90126c" d="M751.8 366.1h0M751.4 373.2h0M751.1 380.3h0"/>
<path stroke="#961266" d="M751.5 394.5h0M755.9 394.5h0"/>
<path stroke="#961260" d="M752.2 401.6h0M753.0 408.7h0"/>
<path stroke="#96125a" d="M753.8 415.8h0M754.3 423.0h0"/>
<path stroke="#9c1254" d="M754.4 437.3h0M758.0 437.3h0"/>
<path stroke="#9c124e" d="M754.2 444.5h0"/>
<path stroke="#9c0c48" d="M754.0 451.7h0"/>
<path stroke="#a20c48" d="M754.0 458.7h0"/>
<path stroke="#a80c3c" d="M754.6 470.7h0M755.0 475.9h0"/>
<path stroke="#ae0c36" d="M755.5 484.1h0M759.4 480.3h0"/>
<path stroke="#ae0c30" d="M755.6 487.4h0M755.6 490.4h0M755.5 493.2h0"/>
<path stroke="#b40c2a" d="M755.4 496.0h0M755.2 498.8h0M755.0 501.4h0M759.0 493.2h0M758.8 496.0h0"/>
<path stroke="#7e3096" d="M755.9 166.3h0M755.9 169.6h0M756.0 173.0h0"/>
<path stroke="#842a90" d="M757.1 186.9h0M757.5 190.4h0M757.9 194.0h0M761.1 183.4h0M761.5 186.9h0M761.9 190.4h0M762.3 194.0h0M762.6 197.6h0"/>
<path stroke="#84248a" d="M758.3 197.6h0M758.7 201.2h0M758.9 204.9h0M759.1 208.6h0M759.2 212.3h0M763.0 204.9h0M763.0 208.6h0"/>
<path stroke="#841e8a" d="M759.2 216.1h0"/>
<path stroke="#841e84" d="M759.1 220.0h0M759.0 224.0h0M758.7 228.1h0"/>
<path stroke="#841884" d="M758.4 232.4h0M758.2 236.8h0M758.0 241.5h0M757.9 246.3h0"/>
<path stroke="#8a187e" d="M758.0 251.3h0M758.1 256.4h0M758.4 261.8h0M758.5 267.3h0M758.6 273.0h0M758.5 278.8h0"/>
<path stroke="#8a127e" d="M758.1 284.8h0M757.5 290.9h0"/>
<path stroke="#901278" d="M755.4 310.2h0M755.2 317.0h0M755.2 323.9h0M755.5 330.9h0"/>
<path stroke="#961272" d="M756.0 352.0h0M755.7 359.0h0M755.3 366.1h0M759.5 352.0h0"/>
<path stroke="#96126c" d="M755.0 373.2h0M754.9 380.3h0M755.3 387.3h0"/>
<path stroke="#9c1266" d="M756.7 401.6h0M760.3 394.5h0M761.2 401.6h0"/>
<path stroke="#9c1260" d="M757.5 408.7h0M758.1 415.8h0"/>
<path stroke="#9c125a" d="M758.3 423.0h0M758.3 430.1h0"/>
<path stroke="#a20c54" d="M757.8 444.5h0"/>
<path stroke="#a20c4e" d="M757.8 451.7h0"/>
<path stroke="#a80c48" d="M758.1 458.7h0"/>
<path stroke="#a80c42" d="M758.5 465.0h0"/>
<path stroke="#ae0c3c" d="M758.9 470.7h0M759.2 475.9h0"/>
<path stroke="#b40c36" d="M759.4 484.1h0M763.1 480.3h0M763.0 484.1h0"/>
<path stroke="#b40c30" d="M759.3 487.4h0M759.2 490.4h0"/>
<path stroke="#ba0c2a" d="M758.5 498.8h0M758.3 501.4h0M762.3 493.2h0M762.0 496.0h0M761.7 498.8h0"/>
<path stroke="#843696" d="M759.7 163.0h0M763.4 156.4h0M763.4 159.7h0M763.5 163.0h0M763.7 166.3h0M767.0 150.0h0M767.0 153.2h0M767.1 156.4h0M767.3 159.7h0"/>
<path stroke="#843096" d="M759.8 166.3h0M759.9 169.6h0M760.1 173.0h0M760.4 176.4h0M764.0 169.6h0M764.3 173.0h0M764.7 176.4h0M765.1 179.9h0"/>
<path stroke="#843090" d="M760.7 179.9h0"/>
<path stroke="#842490" d="M762.8 201.2h0"/>
<path stroke="#8a248a" d="M763.0 212.3h0M766.6 208.6h0M766.4 212.3h0M766.2 216.1h0"/>
<path stroke="#8a1e8a" d="M762.8 216.1h0M762.6 220.0h0M762.4 224.0h0M765.9 220.0h0M765.7 224.0h0"/>
<path stroke="#8a1e84" d="M762.1 228.1h0M761.9 232.4h0"/>
<path stroke="#8a1884" d="M761.7 236.8h0M761.7 241.5h0M761.8 246.3h0M761.9 251.3h0M762.1 256.4h0"/>
<path stroke="#901884" d="M762.3 261.8h0M765.5 241.5h0M765.6 246.3h0M765.8 251.3h0M766.0 256.4h0M766.1 261.8h0M765.9 267.3h0"/>
<path stroke="#90187e" d="M762.4 267.3h0M762.2 273.0h0M761.9 278.8h0"/>
<path stroke="#90127e" d="M761.3 284.8h0M760.6 290.9h0M759.8 297.2h0M759.2 303.6h0"/>
<path stroke="#961278" d="M758.9 310.2h0M758.9 317.0h0M759.2 323.9h0M759.5 330.9h0M759.7 337.9h0M759.7 345.0h0"/>
<path stroke="#9c1272" d="M759.1 359.0h0M758.8 366.1h0M758.7 373.2h0"/>
<path stroke="#9c126c" d="M758.9 380.3h0M759.5 387.3h0"/>
<path stroke="#a21266" d="M761.8 408.7h0"/>
<path stroke="#a21260" d="M762.1 415.8h0"/>
<path stroke="#a20c60" d="M762.1 423.0h0"/>
<path stroke="#a20c5a" d="M761.8 430.1h0M761.6 437.3h0"/>
<path stroke="#a80c54" d="M761.6 444.5h0M765.4 444.5h0"/>
<path stroke="#a80c4e" d="M761.8 451.7h0"/>
<path stroke="#ae0c48" d="M762.2 458.7h0M766.3 458.7h0"/>
<path stroke="#ae0c42" d="M762.7 465.0h0M763.0 470.7h0"/>
<path stroke="#b40c3c" d="M763.2 475.9h0"/>
<path stroke="#ba0c30" d="M762.8 487.4h0M762.5 490.4h0M766.0 487.4h0"/>
<path stroke="#c00c24" d="M761.4 501.4h0M764.4 501.4h0"/>
<path stroke="#8a3090" d="M765.5 183.4h0M770.0 186.9h0"/>
<path stroke="#8a2a90" d="M765.8 186.9h0M766.2 190.4h0M766.5 194.0h0M766.6 197.6h0M766.7 201.2h0M770.2 190.4h0M770.3 194.0h0M770.3 197.6h0M770.3 201.2h0"/>
<path stroke="#8a2490" d="M766.7 204.9h0"/>
<path stroke="#901e8a" d="M765.5 228.1h0M765.4 232.4h0M769.1 224.0h0M769.0 228.1h0M769.0 232.4h0M769.1 236.8h0"/>
<path stroke="#901e84" d="M765.4 236.8h0"/>
<path stroke="#961884" d="M765.5 273.0h0M769.6 251.3h0M769.7 256.4h0M769.5 261.8h0M769.2 267.3h0M768.6 273.0h0"/>
<path stroke="#96187e" d="M765.0 278.8h0"/>
<path stroke="#96127e" d="M764.3 284.8h0M763.6 290.9h0M763.0 297.2h0M762.6 303.6h0M762.6 310.2h0"/>
<path stroke="#9c127e" d="M762.8 317.0h0M766.3 297.2h0M766.2 303.6h0M766.4 310.2h0M766.7 317.0h0"/>
<path stroke="#9c1278" d="M763.1 323.9h0M763.4 330.9h0M763.4 337.9h0M763.2 345.0h0M762.9 352.0h0M762.5 359.0h0"/>
<path stroke="#a21272" d="M762.4 366.1h0M762.6 373.2h0M763.1 380.3h0"/>
<path stroke="#a2126c" d="M763.9 387.3h0M764.7 394.5h0"/>
<path stroke="#a20c66" d="M765.4 401.6h0M765.7 408.7h0"/>
<path stroke="#a80c66" d="M765.8 415.8h0M769.4 408.7h0M769.2 415.8h0M769.0 423.0h0"/>
<path stroke="#a80c60" d="M765.6 423.0h0M765.3 430.1h0"/>
<path stroke="#a80c5a" d="M765.3 437.3h0"/>
<path stroke="#ae0c4e" d="M765.8 451.7h0"/>
<path stroke="#b40c48" d="M766.7 465.0h0"/>
<path stroke="#b40c42" d="M766.8 470.7h0"/>
<path stroke="#ba0c3c" d="M766.8 475.9h0M770.1 475.9h0"/>
<path stroke="#ba0c36" d="M766.6 480.3h0M766.3 484.1h0"/>
<path stroke="#c00c30" d="M765.6 490.4h0M768.9 487.4h0M768.6 490.4h0"/>
<path stroke="#c00c2a" d="M765.3 493.2h0M765.0 496.0h0M764.7 498.8h0"/>
<path stroke="#8a3696" d="M767.5 163.0h0M767.8 166.3h0M768.2 169.6h0"/>
<path stroke="#8a3096" d="M768.5 173.0h0M768.9 176.4h0M769.3 179.9h0M769.7 183.4h0"/>
<path stroke="#902490" d="M770.1 204.9h0M769.9 208.6h0M769.7 212.3h0"/>
<path stroke="#90248a" d="M769.4 216.1h0M769.2 220.0h0"/>
<path stroke="#961e8a" d="M769.3 241.5h0"/>
<path stroke="#96188a" d="M769.5 246.3h0"/>
<path stroke="#9c1884" d="M767.9 278.8h0"/>
<path stroke="#9c1284" d="M767.2 284.8h0M766.6 290.9h0"/>
<path stroke="#a2127e" d="M767.0 323.9h0M767.1 330.9h0"/>
<path stroke="#a21278" d="M766.9 337.9h0M766.6 345.0h0M766.2 352.0h0M766.0 359.0h0M766.1 366.1h0"/>
<path stroke="#a81272" d="M766.6 373.2h0"/>
<path stroke="#a80c72" d="M767.3 380.3h0M768.2 387.3h0"/>
<path stroke="#a80c6c" d="M768.9 394.5h0M769.3 401.6h0"/>
<path stroke="#ae0c60" d="M768.9 430.1h0M769.0 437.3h0"/>
<path stroke="#ae0c5a" d="M769.3 444.5h0"/>
<path stroke="#b40c54" d="M769.8 451.7h0"/>
<path stroke="#b40c4e" d="M770.3 458.7h0"/>
<path stroke="#ba0c48" d="M770.5 465.0h0"/>
<path stroke="#ba0c42" d="M770.4 470.7h0"/>
<path stroke="#c00c36" d="M769.7 480.3h0M769.3 484.1h0"/>
<path stroke="#c60c2a" d="M768.3 493.2h0"/>
<path stroke="#c6062a" d="M768.0 496.0h0M767.8 498.8h0"/>
<path stroke="#c60624" d="M767.6 501.4h0"/>
</g>
<path d="M408.5 99.0 C417.8 99.8 445.4 102.3 464.0 104.0 C482.6 105.7 500.3 106.9 520.0 109.0 C539.7 111.1 561.3 113.7 582.0 116.5 C602.7 119.3 627.3 122.6 644.0 126.0 C660.7 129.4 671.3 133.4 682.3 137.0 C693.3 140.6 700.5 143.1 710.0 147.5 C719.5 151.9 731.3 157.2 739.4 163.4 C747.5 169.6 753.1 176.8 758.4 184.6 C763.7 192.4 767.2 200.8 771.0 210.0 C774.8 219.2 777.8 229.5 781.0 240.0 C784.2 250.5 787.3 262.2 790.0 273.0 C792.7 283.8 795.1 295.4 797.0 305.0 C798.9 314.6 799.8 318.0 801.4 330.7 C803.0 343.4 804.8 364.5 806.5 381.4 C808.2 398.3 809.9 416.6 811.6 432.2 C813.3 447.8 815.2 465.5 816.5 475.0 C817.8 484.5 818.8 486.8 819.2 489.2 C817.7 489.5 813.9 489.8 810.0 491.0 C806.1 492.2 800.4 494.9 796.0 496.5 C791.6 498.1 788.9 499.6 783.7 500.6 C778.5 501.6 772.3 502.1 765.0 502.3 C757.7 502.5 750.8 502.2 740.0 502.0 C729.2 501.8 755.2 501.2 700.0 501.0 C644.8 500.8 457.1 501.0 408.5 501.0 Z" fill="none" stroke="#000" stroke-width="3.8" stroke-linejoin="round"/>
<rect x="527" y="163.4" width="208.3" height="208.3" fill="none" stroke="#3aaa35" stroke-width="7.5"/>
<path d="M717.6 107.7 L691 157" stroke="#3aaa35" stroke-width="2.2"/>
<path d="M689.5 139.5 L691 157.5 L705.5 148.5" fill="none" stroke="#3aaa35" stroke-width="5" stroke-linecap="round"/>
<rect x="105.6" y="613.7" width="789" height="261.1" fill="none" stroke="#000" stroke-width="1.8"/>
<g clip-path="url(#clipC)"><polyline points="98.2,873.1 100.9,872.1 103.6,871.1 106.3,870.1 109.0,869.0 111.6,868.0 114.3,866.9 117.0,865.8 119.7,864.7 122.4,863.6 125.1,862.5 127.8,861.3 130.5,860.2 133.1,859.0 135.8,857.8 138.5,856.6 141.2,855.4 143.9,854.2 146.6,853.0 149.3,851.7 152.0,850.4 154.6,849.1 157.3,847.8 160.0,846.5 162.7,845.2 165.4,843.8 168.1,842.4 170.8,841.0 173.4,839.6 176.1,838.2 178.8,836.7 181.5,835.3 184.2,833.8 186.9,832.2 189.6,830.7 192.3,829.1 194.9,827.5 197.6,825.9 200.3,824.3 203.0,822.6 205.7,820.9 208.4,819.2 211.1,817.5 213.7,815.7 216.4,813.9 219.1,812.1 221.8,810.2 224.5,808.3 227.2,806.3 229.9,804.4 232.6,802.4 235.2,800.3 237.9,798.2 240.6,796.1 243.3,794.0 246.0,791.8 248.7,789.5 251.4,787.2 254.1,784.9 256.7,782.5 259.4,780.0 262.1,777.6 264.8,775.0 267.5,772.4 270.2,769.7 272.9,767.0 275.5,764.2 278.2,761.4 280.9,758.5 283.6,755.5 286.3,752.4 289.0,749.3 291.7,746.0 294.4,742.8 297.0,739.4 299.7,735.9 302.4,732.4 305.1,728.7 307.8,725.0 310.5,721.2 313.2,717.3 315.9,713.3 318.5,709.2 321.2,705.1 323.9,700.8 326.6,696.5 329.3,692.1 332.0,687.7 334.7,683.3 337.3,678.9 340.0,674.5 342.7,670.2 345.4,666.0 348.1,662.0 350.8,658.2 353.5,654.7 356.2,651.6 358.8,649.0 361.5,646.9 364.2,645.4 366.9,644.6 369.6,644.5 372.3,645.1 375.0,646.5 377.6,648.6 380.3,651.4 383.0,654.7 385.7,658.6 388.4,662.7 391.1,667.2 393.8,671.8 396.5,676.4 399.1,681.0 401.8,685.4 404.5,689.6 407.2,693.5 409.9,697.2 412.6,700.4 415.3,703.3 418.0,705.7 420.6,707.8 423.3,709.5 426.0,710.7 428.7,711.6 431.4,712.2 434.1,712.4 436.8,712.3 439.4,712.0 442.1,711.4 444.8,710.5 447.5,709.5 450.2,708.3 452.9,707.0 455.6,705.5 458.3,703.9 460.9,702.2 463.6,700.4 466.3,698.5 469.0,696.6 471.7,694.6 474.4,692.5 477.1,690.4 479.7,688.2 482.4,686.0 485.1,683.7 487.8,681.4 490.5,679.1 493.2,676.7 495.9,674.3 498.6,672.0 501.2,669.6 503.9,667.3 506.6,665.0 509.3,662.8 512.0,660.6 514.7,658.5 517.4,656.5 520.1,654.6 522.7,652.8 525.4,651.2 528.1,649.8 530.8,648.5 533.5,647.4 536.2,646.4 538.9,645.7 541.5,645.2 544.2,644.9 546.9,644.8 549.6,644.9 552.3,645.2 555.0,645.8 557.7,646.5 560.4,647.5 563.0,648.6 565.7,649.9 568.4,651.4 571.1,653.0 573.8,654.8 576.5,656.7 579.2,658.8 581.8,661.0 584.5,663.3 587.2,665.6 589.9,668.1 592.6,670.6 595.3,673.2 598.0,675.9 600.7,678.6 603.3,681.3 606.0,684.1 608.7,686.9 611.4,689.7 614.1,692.5 616.8,695.4 619.5,698.2 622.2,701.1 624.8,703.9 627.5,706.8 630.2,709.6 632.9,712.4 635.6,715.2 638.3,718.0 641.0,720.8 643.6,723.5 646.3,726.3 649.0,729.0 651.7,731.6 654.4,734.3 657.1,736.9 659.8,739.5 662.5,742.1 665.1,744.7 667.8,747.2 670.5,749.7 673.2,752.2 675.9,754.6 678.6,757.0 681.3,759.4 683.9,761.8 686.6,764.1 689.3,766.4 692.0,768.7 694.7,771.0 697.4,773.2 700.1,775.4 702.8,777.6 705.4,779.7 708.1,781.8 710.8,783.9 713.5,786.0 716.2,788.1 718.9,790.1 721.6,792.1 724.3,794.1 726.9,796.0 729.6,798.0 732.3,799.9 735.0,801.8 737.7,803.6 740.4,805.5 743.1,807.3 745.7,809.1 748.4,810.9 751.1,812.6 753.8,814.4 756.5,816.1 759.2,817.8 761.9,819.5 764.6,821.1 767.2,822.8 769.9,824.4 772.6,826.0 775.3,827.6 778.0,829.2 780.7,830.7 783.4,832.2 786.1,833.8 788.7,835.3 791.4,836.8 794.1,838.2 796.8,839.7 799.5,841.1 802.2,842.5 804.9,843.9 807.5,845.3 810.2,846.7 812.9,848.1 815.6,849.4 818.3,850.8 821.0,852.1 823.7,853.4 826.4,854.7 829.0,856.0 831.7,857.2 834.4,858.5 837.1,859.7 839.8,861.0 842.5,862.2 845.2,863.4 847.8,864.6 850.5,865.7 853.2,866.9 855.9,868.1 858.6,869.2 861.3,870.3 864.0,871.5 866.7,872.6 869.3,873.7 872.0,874.8 874.7,875.8 877.4,876.9 880.1,878.0 882.8,879.0 885.5,880.1 888.2,881.1 890.8,882.1 893.5,883.1 896.2,884.1 898.9,885.1 901.6,886.1" fill="none" stroke="#191414" stroke-width="4.6"/><polyline points="98.2,875.2 100.9,874.2 103.6,873.2 106.3,872.1 109.0,871.1 111.6,870.0 114.3,868.9 117.0,867.8 119.7,866.7 122.4,865.6 125.1,864.4 127.8,863.2 130.5,862.1 133.1,860.9 135.8,859.7 138.5,858.5 141.2,857.2 143.9,856.0 146.6,854.7 149.3,853.4 152.0,852.1 154.6,850.8 157.3,849.5 160.0,848.1 162.7,846.7 165.4,845.3 168.1,843.9 170.8,842.5 173.4,841.0 176.1,839.5 178.8,838.0 181.5,836.5 184.2,835.0 186.9,833.4 189.6,831.8 192.3,830.2 194.9,828.5 197.6,826.8 200.3,825.1 203.0,823.4 205.7,821.6 208.4,819.9 211.1,818.0 213.7,816.2 216.4,814.3 219.1,812.4 221.8,810.4 224.5,808.4 227.2,806.4 229.9,804.3 232.6,802.2 235.2,800.1 237.9,797.9 240.6,795.7 243.3,793.4 246.0,791.1 248.7,788.7 251.4,786.3 254.1,783.8 256.7,781.3 259.4,778.7 262.1,776.1 264.8,773.4 267.5,770.7 270.2,767.9 272.9,765.0 275.5,762.1 278.2,759.1 280.9,756.0 283.6,752.8 286.3,749.6 289.0,746.3 291.7,743.0 294.4,739.5 297.0,736.0 299.7,732.4 302.4,728.7 305.1,725.0 307.8,721.1 310.5,717.2 313.2,713.2 315.9,709.2 318.5,705.1 321.2,700.9 323.9,696.7 326.6,692.4 329.3,688.1 332.0,683.8 334.7,679.6 337.3,675.4 340.0,671.2 342.7,667.2 345.4,663.4 348.1,659.7 350.8,656.3 353.5,653.3 356.2,650.6 358.8,648.3 361.5,646.6 364.2,645.4 366.9,644.7 369.6,644.7 372.3,645.3 375.0,646.4 377.6,648.2 380.3,650.6 383.0,653.4 385.7,656.7 388.4,660.3 391.1,664.3 393.8,668.5 396.5,672.8 399.1,677.3 401.8,681.7 404.5,686.2 407.2,690.5 409.9,694.8 412.6,698.8 415.3,702.7 418.0,706.4 420.6,709.8 423.3,713.0 426.0,715.9 428.7,718.5 431.4,720.8 434.1,722.9 436.8,724.7 439.4,726.2 442.1,727.4 444.8,728.4 447.5,729.1 450.2,729.5 452.9,729.8 455.6,729.8 458.3,729.6 460.9,729.2 463.6,728.6 466.3,727.8 469.0,726.9 471.7,725.8 474.4,724.5 477.1,723.2 479.7,721.6 482.4,720.0 485.1,718.2 487.8,716.4 490.5,714.4 493.2,712.3 495.9,710.2 498.6,707.9 501.2,705.6 503.9,703.2 506.6,700.8 509.3,698.2 512.0,695.7 514.7,693.0 517.4,690.4 520.1,687.7 522.7,685.0 525.4,682.2 528.1,679.5 530.8,676.8 533.5,674.1 536.2,671.4 538.9,668.8 541.5,666.3 544.2,663.8 546.9,661.4 549.6,659.2 552.3,657.0 555.0,655.0 557.7,653.1 560.4,651.4 563.0,649.9 565.7,648.5 568.4,647.4 571.1,646.4 573.8,645.7 576.5,645.2 579.2,644.9 581.8,644.8 584.5,645.0 587.2,645.4 589.9,646.0 592.6,646.8 595.3,647.8 598.0,649.0 600.7,650.4 603.3,652.0 606.0,653.8 608.7,655.7 611.4,657.7 614.1,659.9 616.8,662.2 619.5,664.6 622.2,667.1 624.8,669.6 627.5,672.3 630.2,675.0 632.9,677.8 635.6,680.6 638.3,683.4 641.0,686.3 643.6,689.2 646.3,692.1 649.0,695.0 651.7,698.0 654.4,700.9 657.1,703.8 659.8,706.8 662.5,709.7 665.1,712.6 667.8,715.5 670.5,718.3 673.2,721.2 675.9,724.0 678.6,726.8 681.3,729.6 683.9,732.3 686.6,735.1 689.3,737.8 692.0,740.4 694.7,743.1 697.4,745.7 700.1,748.3 702.8,750.8 705.4,753.4 708.1,755.9 710.8,758.3 713.5,760.8 716.2,763.2 718.9,765.6 721.6,767.9 724.3,770.3 726.9,772.5 729.6,774.8 732.3,777.1 735.0,779.3 737.7,781.5 740.4,783.6 743.1,785.7 745.7,787.9 748.4,789.9 751.1,792.0 753.8,794.0 756.5,796.0 759.2,798.0 761.9,800.0 764.6,801.9 767.2,803.8 769.9,805.7 772.6,807.5 775.3,809.4 778.0,811.2 780.7,813.0 783.4,814.8 786.1,816.5 788.7,818.3 791.4,820.0 794.1,821.7 796.8,823.3 799.5,825.0 802.2,826.6 804.9,828.2 807.5,829.8 810.2,831.4 812.9,833.0 815.6,834.5 818.3,836.1 821.0,837.6 823.7,839.1 826.4,840.5 829.0,842.0 831.7,843.4 834.4,844.9 837.1,846.3 839.8,847.7 842.5,849.0 845.2,850.4 847.8,851.8 850.5,853.1 853.2,854.4 855.9,855.7 858.6,857.0 861.3,858.3 864.0,859.6 866.7,860.8 869.3,862.0 872.0,863.3 874.7,864.5 877.4,865.7 880.1,866.9 882.8,868.1 885.5,869.2 888.2,870.4 890.8,871.5 893.5,872.6 896.2,873.8 898.9,874.9 901.6,876.0" fill="none" stroke="#1e193c" stroke-width="4.6"/><polyline points="98.2,876.9 100.9,875.8 103.6,874.8 106.3,873.7 109.0,872.6 111.6,871.5 114.3,870.4 117.0,869.3 119.7,868.2 122.4,867.0 125.1,865.9 127.8,864.7 130.5,863.5 133.1,862.3 135.8,861.0 138.5,859.8 141.2,858.5 143.9,857.3 146.6,856.0 149.3,854.7 152.0,853.3 154.6,852.0 157.3,850.6 160.0,849.2 162.7,847.8 165.4,846.3 168.1,844.9 170.8,843.4 173.4,841.9 176.1,840.4 178.8,838.8 181.5,837.3 184.2,835.7 186.9,834.1 189.6,832.4 192.3,830.7 194.9,829.0 197.6,827.3 200.3,825.5 203.0,823.7 205.7,821.9 208.4,820.1 211.1,818.2 213.7,816.3 216.4,814.3 219.1,812.3 221.8,810.3 224.5,808.2 227.2,806.1 229.9,804.0 232.6,801.8 235.2,799.6 237.9,797.3 240.6,795.0 243.3,792.6 246.0,790.2 248.7,787.7 251.4,785.2 254.1,782.7 256.7,780.0 259.4,777.4 262.1,774.6 264.8,771.8 267.5,769.0 270.2,766.1 272.9,763.1 275.5,760.1 278.2,757.0 280.9,753.8 283.6,750.5 286.3,747.2 289.0,743.8 291.7,740.4 294.4,736.9 297.0,733.3 299.7,729.6 302.4,725.8 305.1,722.0 307.8,718.1 310.5,714.2 313.2,710.2 315.9,706.1 318.5,702.0 321.2,697.9 323.9,693.7 326.6,689.5 329.3,685.3 332.0,681.2 334.7,677.1 337.3,673.0 340.0,669.1 342.7,665.3 345.4,661.7 348.1,658.4 350.8,655.3 353.5,652.5 356.2,650.1 358.8,648.1 361.5,646.6 364.2,645.5 366.9,645.0 369.6,645.0 372.3,645.6 375.0,646.7 377.6,648.3 380.3,650.4 383.0,653.0 385.7,656.0 388.4,659.4 391.1,663.1 393.8,667.0 396.5,671.1 399.1,675.4 401.8,679.8 404.5,684.3 407.2,688.7 409.9,693.2 412.6,697.5 415.3,701.8 418.0,706.0 420.6,710.1 423.3,714.0 426.0,717.7 428.7,721.3 431.4,724.7 434.1,727.8 436.8,730.8 439.4,733.6 442.1,736.1 444.8,738.5 447.5,740.6 450.2,742.5 452.9,744.1 455.6,745.6 458.3,746.8 460.9,747.9 463.6,748.7 466.3,749.3 469.0,749.7 471.7,749.9 474.4,749.9 477.1,749.8 479.7,749.4 482.4,748.9 485.1,748.2 487.8,747.4 490.5,746.3 493.2,745.2 495.9,743.9 498.6,742.4 501.2,740.8 503.9,739.1 506.6,737.3 509.3,735.3 512.0,733.2 514.7,731.1 517.4,728.8 520.1,726.4 522.7,724.0 525.4,721.5 528.1,718.8 530.8,716.2 533.5,713.4 536.2,710.6 538.9,707.8 541.5,704.9 544.2,701.9 546.9,699.0 549.6,696.0 552.3,693.0 555.0,690.0 557.7,687.0 560.4,684.0 563.0,681.0 565.7,678.1 568.4,675.2 571.1,672.3 573.8,669.6 576.5,666.9 579.2,664.3 581.8,661.8 584.5,659.4 587.2,657.2 589.9,655.1 592.6,653.2 595.3,651.4 598.0,649.9 600.7,648.5 603.3,647.4 606.0,646.4 608.7,645.7 611.4,645.2 614.1,644.9 616.8,644.9 619.5,645.1 622.2,645.6 624.8,646.2 627.5,647.1 630.2,648.2 632.9,649.5 635.6,651.0 638.3,652.6 641.0,654.5 643.6,656.4 646.3,658.6 649.0,660.8 651.7,663.2 654.4,665.7 657.1,668.3 659.8,670.9 662.5,673.7 665.1,676.5 667.8,679.3 670.5,682.2 673.2,685.1 675.9,688.1 678.6,691.1 681.3,694.1 683.9,697.1 686.6,700.1 689.3,703.1 692.0,706.0 694.7,709.0 697.4,712.0 700.1,715.0 702.8,717.9 705.4,720.8 708.1,723.7 710.8,726.6 713.5,729.4 716.2,732.3 718.9,735.1 721.6,737.8 724.3,740.6 726.9,743.3 729.6,745.9 732.3,748.6 735.0,751.2 737.7,753.8 740.4,756.3 743.1,758.9 745.7,761.4 748.4,763.8 751.1,766.2 753.8,768.7 756.5,771.0 759.2,773.4 761.9,775.7 764.6,778.0 767.2,780.2 769.9,782.4 772.6,784.6 775.3,786.8 778.0,788.9 780.7,791.1 783.4,793.1 786.1,795.2 788.7,797.2 791.4,799.3 794.1,801.2 796.8,803.2 799.5,805.1 802.2,807.0 804.9,808.9 807.5,810.8 810.2,812.6 812.9,814.5 815.6,816.2 818.3,818.0 821.0,819.8 823.7,821.5 826.4,823.2 829.0,824.9 831.7,826.6 834.4,828.2 837.1,829.9 839.8,831.5 842.5,833.1 845.2,834.6 847.8,836.2 850.5,837.7 853.2,839.2 855.9,840.7 858.6,842.2 861.3,843.7 864.0,845.1 866.7,846.6 869.3,848.0 872.0,849.4 874.7,850.8 877.4,852.2 880.1,853.5 882.8,854.9 885.5,856.2 888.2,857.5 890.8,858.8 893.5,860.1 896.2,861.3 898.9,862.6 901.6,863.8" fill="none" stroke="#281e6e" stroke-width="4.6"/><polyline points="98.2,878.2 100.9,877.1 103.6,876.0 106.3,874.9 109.0,873.9 111.6,872.7 114.3,871.6 117.0,870.5 119.7,869.3 122.4,868.1 125.1,867.0 127.8,865.8 130.5,864.5 133.1,863.3 135.8,862.1 138.5,860.8 141.2,859.5 143.9,858.2 146.6,856.9 149.3,855.5 152.0,854.2 154.6,852.8 157.3,851.4 160.0,849.9 162.7,848.5 165.4,847.0 168.1,845.5 170.8,844.0 173.4,842.5 176.1,840.9 178.8,839.3 181.5,837.7 184.2,836.1 186.9,834.4 189.6,832.7 192.3,831.0 194.9,829.2 197.6,827.5 200.3,825.6 203.0,823.8 205.7,821.9 208.4,820.0 211.1,818.1 213.7,816.1 216.4,814.1 219.1,812.0 221.8,809.9 224.5,807.8 227.2,805.6 229.9,803.4 232.6,801.2 235.2,798.9 237.9,796.5 240.6,794.2 243.3,791.7 246.0,789.2 248.7,786.7 251.4,784.1 254.1,781.5 256.7,778.8 259.4,776.0 262.1,773.2 264.8,770.4 267.5,767.4 270.2,764.4 272.9,761.4 275.5,758.3 278.2,755.1 280.9,751.9 283.6,748.6 286.3,745.2 289.0,741.7 291.7,738.2 294.4,734.6 297.0,731.0 299.7,727.3 302.4,723.5 305.1,719.6 307.8,715.7 310.5,711.8 313.2,707.8 315.9,703.7 318.5,699.7 321.2,695.6 323.9,691.5 326.6,687.4 329.3,683.3 332.0,679.2 334.7,675.3 337.3,671.4 340.0,667.7 342.7,664.1 345.4,660.7 348.1,657.5 350.8,654.6 353.5,652.1 356.2,649.8 358.8,648.0 361.5,646.6 364.2,645.7 366.9,645.3 369.6,645.3 372.3,645.9 375.0,646.9 377.6,648.5 380.3,650.5 383.0,652.9 385.7,655.7 388.4,658.9 391.1,662.4 393.8,666.1 396.5,670.1 399.1,674.2 401.8,678.5 404.5,682.9 407.2,687.3 409.9,691.8 412.6,696.2 415.3,700.7 418.0,705.1 420.6,709.4 423.3,713.6 426.0,717.8 428.7,721.8 431.4,725.7 434.1,729.5 436.8,733.1 439.4,736.6 442.1,739.9 444.8,743.1 447.5,746.1 450.2,748.9 452.9,751.5 455.6,754.0 458.3,756.3 460.9,758.4 463.6,760.4 466.3,762.1 469.0,763.7 471.7,765.1 474.4,766.3 477.1,767.3 479.7,768.2 482.4,768.8 485.1,769.3 487.8,769.6 490.5,769.7 493.2,769.7 495.9,769.5 498.6,769.1 501.2,768.6 503.9,767.9 506.6,767.0 509.3,766.0 512.0,764.9 514.7,763.6 517.4,762.2 520.1,760.6 522.7,759.0 525.4,757.2 528.1,755.2 530.8,753.2 533.5,751.1 536.2,748.8 538.9,746.5 541.5,744.1 544.2,741.6 546.9,739.0 549.6,736.3 552.3,733.6 555.0,730.8 557.7,728.0 560.4,725.0 563.0,722.1 565.7,719.1 568.4,716.0 571.1,712.9 573.8,709.8 576.5,706.7 579.2,703.5 581.8,700.3 584.5,697.2 587.2,694.0 589.9,690.8 592.6,687.7 595.3,684.6 598.0,681.5 600.7,678.5 603.3,675.5 606.0,672.6 608.7,669.7 611.4,667.0 614.1,664.3 616.8,661.8 619.5,659.4 622.2,657.1 624.8,655.0 627.5,653.1 630.2,651.3 632.9,649.8 635.6,648.4 638.3,647.3 641.0,646.4 643.6,645.7 646.3,645.2 649.0,645.0 651.7,645.0 654.4,645.3 657.1,645.7 659.8,646.5 662.5,647.4 665.1,648.5 667.8,649.9 670.5,651.5 673.2,653.2 675.9,655.1 678.6,657.1 681.3,659.4 683.9,661.7 686.6,664.1 689.3,666.7 692.0,669.4 694.7,672.1 697.4,674.9 700.1,677.8 702.8,680.7 705.4,683.6 708.1,686.6 710.8,689.6 713.5,692.7 716.2,695.7 718.9,698.8 721.6,701.8 724.3,704.9 726.9,707.9 729.6,710.9 732.3,714.0 735.0,717.0 737.7,719.9 740.4,722.9 743.1,725.8 745.7,728.7 748.4,731.6 751.1,734.5 753.8,737.3 756.5,740.1 759.2,742.9 761.9,745.6 764.6,748.3 767.2,751.0 769.9,753.6 772.6,756.2 775.3,758.8 778.0,761.3 780.7,763.9 783.4,766.3 786.1,768.8 788.7,771.2 791.4,773.6 794.1,775.9 796.8,778.3 799.5,780.6 802.2,782.8 804.9,785.1 807.5,787.3 810.2,789.5 812.9,791.6 815.6,793.7 818.3,795.8 821.0,797.9 823.7,799.9 826.4,802.0 829.0,803.9 831.7,805.9 834.4,807.8 837.1,809.8 839.8,811.6 842.5,813.5 845.2,815.4 847.8,817.2 850.5,819.0 853.2,820.8 855.9,822.5 858.6,824.2 861.3,825.9 864.0,827.6 866.7,829.3 869.3,831.0 872.0,832.6 874.7,834.2 877.4,835.8 880.1,837.4 882.8,838.9 885.5,840.4 888.2,842.0 890.8,843.5 893.5,844.9 896.2,846.4 898.9,847.8 901.6,849.3" fill="none" stroke="#322d8c" stroke-width="4.6"/><polyline points="98.2,879.2 100.9,878.1 103.6,877.0 106.3,875.9 109.0,874.8 111.6,873.7 114.3,872.5 117.0,871.4 119.7,870.2 122.4,869.0 125.1,867.8 127.8,866.6 130.5,865.3 133.1,864.1 135.8,862.8 138.5,861.5 141.2,860.2 143.9,858.8 146.6,857.5 149.3,856.1 152.0,854.7 154.6,853.3 157.3,851.9 160.0,850.4 162.7,848.9 165.4,847.4 168.1,845.9 170.8,844.4 173.4,842.8 176.1,841.2 178.8,839.6 181.5,837.9 184.2,836.2 186.9,834.5 189.6,832.8 192.3,831.0 194.9,829.2 197.6,827.4 200.3,825.6 203.0,823.7 205.7,821.8 208.4,819.8 211.1,817.8 213.7,815.8 216.4,813.7 219.1,811.6 221.8,809.5 224.5,807.3 227.2,805.1 229.9,802.8 232.6,800.5 235.2,798.2 237.9,795.8 240.6,793.3 243.3,790.8 246.0,788.3 248.7,785.7 251.4,783.0 254.1,780.3 256.7,777.6 259.4,774.8 262.1,771.9 264.8,769.0 267.5,766.0 270.2,763.0 272.9,759.9 275.5,756.7 278.2,753.5 280.9,750.2 283.6,746.8 286.3,743.4 289.0,739.9 291.7,736.4 294.4,732.8 297.0,729.1 299.7,725.4 302.4,721.6 305.1,717.7 307.8,713.8 310.5,709.9 313.2,705.9 315.9,701.9 318.5,697.8 321.2,693.8 323.9,689.7 326.6,685.7 329.3,681.7 332.0,677.8 334.7,674.0 337.3,670.2 340.0,666.6 342.7,663.2 345.4,659.9 348.1,656.9 350.8,654.2 353.5,651.8 356.2,649.7 358.8,648.0 361.5,646.8 364.2,645.9 366.9,645.6 369.6,645.6 372.3,646.2 375.0,647.2 377.6,648.7 380.3,650.6 383.0,652.9 385.7,655.6 388.4,658.7 391.1,662.0 393.8,665.6 396.5,669.4 399.1,673.4 401.8,677.6 404.5,681.9 407.2,686.3 409.9,690.7 412.6,695.1 415.3,699.6 418.0,704.1 420.6,708.5 423.3,712.9 426.0,717.2 428.7,721.5 431.4,725.6 434.1,729.7 436.8,733.7 439.4,737.6 442.1,741.4 444.8,745.0 447.5,748.5 450.2,751.9 452.9,755.2 455.6,758.3 458.3,761.3 460.9,764.2 463.6,766.9 466.3,769.4 469.0,771.8 471.7,774.1 474.4,776.2 477.1,778.1 479.7,779.9 482.4,781.5 485.1,783.0 487.8,784.3 490.5,785.5 493.2,786.4 495.9,787.3 498.6,787.9 501.2,788.4 503.9,788.8 506.6,788.9 509.3,789.0 512.0,788.8 514.7,788.5 517.4,788.1 520.1,787.5 522.7,786.8 525.4,785.9 528.1,784.9 530.8,783.8 533.5,782.5 536.2,781.1 538.9,779.6 541.5,777.9 544.2,776.2 546.9,774.3 549.6,772.3 552.3,770.2 555.0,768.1 557.7,765.8 560.4,763.4 563.0,761.0 565.7,758.5 568.4,755.9 571.1,753.2 573.8,750.5 576.5,747.7 579.2,744.8 581.8,741.9 584.5,738.9 587.2,735.9 589.9,732.9 592.6,729.8 595.3,726.6 598.0,723.5 600.7,720.3 603.3,717.1 606.0,713.8 608.7,710.6 611.4,707.3 614.1,704.0 616.8,700.8 619.5,697.5 622.2,694.2 624.8,691.0 627.5,687.8 630.2,684.6 632.9,681.5 635.6,678.4 638.3,675.4 641.0,672.4 643.6,669.6 646.3,666.8 649.0,664.1 651.7,661.6 654.4,659.2 657.1,656.9 659.8,654.8 662.5,652.9 665.1,651.2 667.8,649.6 670.5,648.3 673.2,647.2 675.9,646.3 678.6,645.6 681.3,645.2 683.9,645.0 686.6,645.1 689.3,645.4 692.0,645.9 694.7,646.7 697.4,647.7 700.1,648.9 702.8,650.3 705.4,651.9 708.1,653.7 710.8,655.7 713.5,657.8 716.2,660.1 718.9,662.5 721.6,665.0 724.3,667.6 726.9,670.3 729.6,673.1 732.3,676.0 735.0,678.9 737.7,681.9 740.4,684.9 743.1,687.9 745.7,691.0 748.4,694.1 751.1,697.1 753.8,700.2 756.5,703.3 759.2,706.4 761.9,709.5 764.6,712.6 767.2,715.6 769.9,718.7 772.6,721.7 775.3,724.7 778.0,727.6 780.7,730.6 783.4,733.5 786.1,736.4 788.7,739.2 791.4,742.0 794.1,744.8 796.8,747.6 799.5,750.3 802.2,753.0 804.9,755.7 807.5,758.3 810.2,760.9 812.9,763.4 815.6,766.0 818.3,768.5 821.0,770.9 823.7,773.4 826.4,775.8 829.0,778.1 831.7,780.5 834.4,782.8 837.1,785.0 839.8,787.3 842.5,789.5 845.2,791.7 847.8,793.9 850.5,796.0 853.2,798.1 855.9,800.2 858.6,802.2 861.3,804.2 864.0,806.2 866.7,808.2 869.3,810.1 872.0,812.1 874.7,814.0 877.4,815.8 880.1,817.7 882.8,819.5 885.5,821.3 888.2,823.1 890.8,824.8 893.5,826.6 896.2,828.3 898.9,830.0 901.6,831.6" fill="none" stroke="#3e4896" stroke-width="4.6"/><polyline points="98.2,882.6 100.9,881.7 103.6,880.8 106.3,879.9 109.0,878.9 111.6,878.0 114.3,877.1 117.0,876.1 119.7,875.2 122.4,874.2 125.1,873.3 127.8,872.3 130.5,871.3 133.1,870.3 135.8,869.3 138.5,868.2 141.2,867.2 143.9,866.1 146.6,865.1 149.3,864.0 152.0,862.9 154.6,861.8 157.3,860.7 160.0,859.6 162.7,858.5 165.4,857.3 168.1,856.2 170.8,855.0 173.4,853.8 176.1,852.6 178.8,851.4 181.5,850.2 184.2,849.0 186.9,847.7 189.6,846.4 192.3,845.1 194.9,843.8 197.6,842.5 200.3,841.2 203.0,839.8 205.7,838.5 208.4,837.1 211.1,835.7 213.7,834.2 216.4,832.8 219.1,831.3 221.8,829.9 224.5,828.3 227.2,826.8 229.9,825.3 232.6,823.7 235.2,822.1 237.9,820.5 240.6,818.9 243.3,817.2 246.0,815.5 248.7,813.8 251.4,812.1 254.1,810.3 256.7,808.5 259.4,806.7 262.1,804.8 264.8,802.9 267.5,801.0 270.2,799.1 272.9,797.1 275.5,795.0 278.2,793.0 280.9,790.9 283.6,788.7 286.3,786.6 289.0,784.3 291.7,782.1 294.4,779.8 297.0,777.4 299.7,775.0 302.4,772.5 305.1,770.0 307.8,767.4 310.5,764.8 313.2,762.1 315.9,759.3 318.5,756.5 321.2,753.6 323.9,750.6 326.6,747.6 329.3,744.4 332.0,741.2 334.7,737.9 337.3,734.5 340.0,731.0 342.7,727.4 345.4,723.7 348.1,719.9 350.8,716.0 353.5,712.0 356.2,707.9 358.8,703.6 361.5,699.3 364.2,694.8 366.9,690.3 369.6,685.7 372.3,681.0 375.0,676.4 377.6,671.7 380.3,667.1 383.0,662.7 385.7,658.5 388.4,654.7 391.1,651.3 393.8,648.5 396.5,646.4 399.1,645.2 401.8,644.9 404.5,645.7 407.2,647.6 409.9,650.5 412.6,654.3 415.3,658.9 418.0,664.0 420.6,669.5 423.3,675.2 426.0,680.8 428.7,686.1 431.4,691.1 434.1,695.6 436.8,699.5 439.4,702.8 442.1,705.5 444.8,707.5 447.5,709.0 450.2,709.8 452.9,710.1 455.6,709.9 458.3,709.3 460.9,708.3 463.6,706.9 466.3,705.3 469.0,703.3 471.7,701.2 474.4,698.9 477.1,696.4 479.7,693.8 482.4,691.2 485.1,688.4 487.8,685.6 490.5,682.8 493.2,680.0 495.9,677.2 498.6,674.4 501.2,671.7 503.9,669.0 506.6,666.4 509.3,663.9 512.0,661.5 514.7,659.2 517.4,657.1 520.1,655.1 522.7,653.2 525.4,651.5 528.1,650.0 530.8,648.7 533.5,647.5 536.2,646.6 538.9,645.9 541.5,645.3 544.2,645.0 546.9,644.9 549.6,645.0 552.3,645.3 555.0,645.8 557.7,646.5 560.4,647.3 563.0,648.4 565.7,649.6 568.4,651.0 571.1,652.5 573.8,654.2 576.5,656.1 579.2,658.0 581.8,660.1 584.5,662.2 587.2,664.5 589.9,666.8 592.6,669.2 595.3,671.7 598.0,674.2 600.7,676.8 603.3,679.4 606.0,682.1 608.7,684.8 611.4,687.5 614.1,690.2 616.8,692.9 619.5,695.7 622.2,698.4 624.8,701.2 627.5,704.0 630.2,706.7 632.9,709.4 635.6,712.2 638.3,714.9 641.0,717.6 643.6,720.3 646.3,722.9 649.0,725.6 651.7,728.2 654.4,730.8 657.1,733.4 659.8,736.0 662.5,738.5 665.1,741.0 667.8,743.5 670.5,746.0 673.2,748.4 675.9,750.9 678.6,753.2 681.3,755.6 683.9,758.0 686.6,760.3 689.3,762.6 692.0,764.8 694.7,767.1 697.4,769.3 700.1,771.5 702.8,773.7 705.4,775.8 708.1,777.9 710.8,780.0 713.5,782.1 716.2,784.1 718.9,786.2 721.6,788.2 724.3,790.1 726.9,792.1 729.6,794.0 732.3,796.0 735.0,797.8 737.7,799.7 740.4,801.6 743.1,803.4 745.7,805.2 748.4,807.0 751.1,808.8 753.8,810.5 756.5,812.2 759.2,813.9 761.9,815.6 764.6,817.3 767.2,819.0 769.9,820.6 772.6,822.2 775.3,823.8 778.0,825.4 780.7,827.0 783.4,828.5 786.1,830.1 788.7,831.6 791.4,833.1 794.1,834.6 796.8,836.0 799.5,837.5 802.2,838.9 804.9,840.3 807.5,841.8 810.2,843.2 812.9,844.5 815.6,845.9 818.3,847.2 821.0,848.6 823.7,849.9 826.4,851.2 829.0,852.5 831.7,853.8 834.4,855.1 837.1,856.3 839.8,857.6 842.5,858.8 845.2,860.0 847.8,861.2 850.5,862.4 853.2,863.6 855.9,864.8 858.6,866.0 861.3,867.1 864.0,868.3 866.7,869.4 869.3,870.5 872.0,871.6 874.7,872.7 877.4,873.8 880.1,874.9 882.8,875.9 885.5,877.0 888.2,878.0 890.8,879.1 893.5,880.1 896.2,881.1 898.9,882.1 901.6,883.1" fill="none" stroke="#3c1914" stroke-width="4.6"/><polyline points="98.2,885.3 100.9,884.4 103.6,883.5 106.3,882.6 109.0,881.6 111.6,880.7 114.3,879.8 117.0,878.8 119.7,877.9 122.4,876.9 125.1,875.9 127.8,874.9 130.5,873.9 133.1,872.9 135.8,871.9 138.5,870.9 141.2,869.8 143.9,868.8 146.6,867.7 149.3,866.6 152.0,865.5 154.6,864.4 157.3,863.3 160.0,862.2 162.7,861.0 165.4,859.8 168.1,858.7 170.8,857.5 173.4,856.3 176.1,855.1 178.8,853.8 181.5,852.6 184.2,851.3 186.9,850.0 189.6,848.7 192.3,847.4 194.9,846.0 197.6,844.7 200.3,843.3 203.0,841.9 205.7,840.5 208.4,839.1 211.1,837.6 213.7,836.2 216.4,834.7 219.1,833.1 221.8,831.6 224.5,830.0 227.2,828.5 229.9,826.8 232.6,825.2 235.2,823.6 237.9,821.9 240.6,820.1 243.3,818.4 246.0,816.6 248.7,814.8 251.4,813.0 254.1,811.1 256.7,809.2 259.4,807.3 262.1,805.3 264.8,803.3 267.5,801.3 270.2,799.2 272.9,797.1 275.5,794.9 278.2,792.7 280.9,790.5 283.6,788.2 286.3,785.9 289.0,783.5 291.7,781.0 294.4,778.5 297.0,776.0 299.7,773.4 302.4,770.7 305.1,768.0 307.8,765.2 310.5,762.4 313.2,759.5 315.9,756.5 318.5,753.4 321.2,750.3 323.9,747.1 326.6,743.8 329.3,740.4 332.0,736.9 334.7,733.4 337.3,729.8 340.0,726.0 342.7,722.2 345.4,718.3 348.1,714.3 350.8,710.3 353.5,706.1 356.2,701.9 358.8,697.6 361.5,693.2 364.2,688.8 366.9,684.4 369.6,679.9 372.3,675.5 375.0,671.2 377.6,667.0 380.3,662.9 383.0,659.0 385.7,655.5 388.4,652.3 391.1,649.5 393.8,647.3 396.5,645.7 399.1,644.7 401.8,644.4 404.5,644.9 407.2,646.1 409.9,648.0 412.6,650.6 415.3,653.7 418.0,657.4 420.6,661.4 423.3,665.7 426.0,670.2 428.7,674.8 431.4,679.3 434.1,683.8 436.8,688.0 439.4,692.0 442.1,695.7 444.8,699.0 447.5,702.0 450.2,704.6 452.9,706.8 455.6,708.7 458.3,710.1 460.9,711.2 463.6,711.9 466.3,712.3 469.0,712.3 471.7,712.1 474.4,711.7 477.1,711.0 479.7,710.1 482.4,709.0 485.1,707.8 487.8,706.4 490.5,704.9 493.2,703.3 495.9,701.6 498.6,699.8 501.2,698.0 503.9,696.0 506.6,694.0 509.3,691.9 512.0,689.8 514.7,687.6 517.4,685.4 520.1,683.2 522.7,680.9 525.4,678.5 528.1,676.2 530.8,673.8 533.5,671.5 536.2,669.1 538.9,666.8 541.5,664.5 544.2,662.3 546.9,660.1 549.6,658.0 552.3,656.1 555.0,654.2 557.7,652.5 560.4,650.9 563.0,649.5 565.7,648.2 568.4,647.1 571.1,646.3 573.8,645.6 576.5,645.1 579.2,644.9 581.8,644.8 584.5,645.0 587.2,645.3 589.9,645.9 592.6,646.7 595.3,647.7 598.0,648.9 600.7,650.2 603.3,651.8 606.0,653.4 608.7,655.3 611.4,657.2 614.1,659.3 616.8,661.5 619.5,663.9 622.2,666.3 624.8,668.7 627.5,671.3 630.2,673.9 632.9,676.6 635.6,679.3 638.3,682.1 641.0,684.9 643.6,687.7 646.3,690.5 649.0,693.4 651.7,696.2 654.4,699.1 657.1,701.9 659.8,704.8 662.5,707.6 665.1,710.5 667.8,713.3 670.5,716.1 673.2,718.9 675.9,721.7 678.6,724.4 681.3,727.2 683.9,729.9 686.6,732.5 689.3,735.2 692.0,737.8 694.7,740.4 697.4,743.0 700.1,745.6 702.8,748.1 705.4,750.6 708.1,753.1 710.8,755.5 713.5,757.9 716.2,760.3 718.9,762.7 721.6,765.0 724.3,767.3 726.9,769.6 729.6,771.9 732.3,774.1 735.0,776.3 737.7,778.5 740.4,780.6 743.1,782.7 745.7,784.8 748.4,786.9 751.1,788.9 753.8,791.0 756.5,793.0 759.2,794.9 761.9,796.9 764.6,798.8 767.2,800.7 769.9,802.6 772.6,804.5 775.3,806.3 778.0,808.1 780.7,809.9 783.4,811.7 786.1,813.5 788.7,815.2 791.4,816.9 794.1,818.6 796.8,820.3 799.5,822.0 802.2,823.6 804.9,825.2 807.5,826.8 810.2,828.4 812.9,830.0 815.6,831.5 818.3,833.1 821.0,834.6 823.7,836.1 826.4,837.6 829.0,839.0 831.7,840.5 834.4,841.9 837.1,843.3 839.8,844.7 842.5,846.1 845.2,847.5 847.8,848.9 850.5,850.2 853.2,851.5 855.9,852.9 858.6,854.2 861.3,855.5 864.0,856.7 866.7,858.0 869.3,859.2 872.0,860.5 874.7,861.7 877.4,862.9 880.1,864.1 882.8,865.3 885.5,866.5 888.2,867.7 890.8,868.8 893.5,869.9 896.2,871.1 898.9,872.2 901.6,873.3" fill="none" stroke="#46193c" stroke-width="4.6"/><polyline points="98.2,887.4 100.9,886.5 103.6,885.6 106.3,884.7 109.0,883.8 111.6,882.8 114.3,881.9 117.0,880.9 119.7,880.0 122.4,879.0 125.1,878.0 127.8,877.0 130.5,876.0 133.1,875.0 135.8,873.9 138.5,872.9 141.2,871.8 143.9,870.8 146.6,869.7 149.3,868.6 152.0,867.5 154.6,866.3 157.3,865.2 160.0,864.0 162.7,862.9 165.4,861.7 168.1,860.5 170.8,859.3 173.4,858.0 176.1,856.8 178.8,855.5 181.5,854.2 184.2,852.9 186.9,851.6 189.6,850.3 192.3,848.9 194.9,847.6 197.6,846.2 200.3,844.8 203.0,843.3 205.7,841.9 208.4,840.4 211.1,838.9 213.7,837.4 216.4,835.8 219.1,834.2 221.8,832.7 224.5,831.0 227.2,829.4 229.9,827.7 232.6,826.0 235.2,824.3 237.9,822.5 240.6,820.7 243.3,818.9 246.0,817.1 248.7,815.2 251.4,813.3 254.1,811.3 256.7,809.3 259.4,807.3 262.1,805.3 264.8,803.2 267.5,801.0 270.2,798.8 272.9,796.6 275.5,794.3 278.2,792.0 280.9,789.7 283.6,787.2 286.3,784.8 289.0,782.3 291.7,779.7 294.4,777.1 297.0,774.4 299.7,771.7 302.4,768.8 305.1,766.0 307.8,763.1 310.5,760.1 313.2,757.0 315.9,753.9 318.5,750.6 321.2,747.4 323.9,744.0 326.6,740.6 329.3,737.0 332.0,733.5 334.7,729.8 337.3,726.0 340.0,722.2 342.7,718.3 345.4,714.3 348.1,710.3 350.8,706.1 353.5,702.0 356.2,697.7 358.8,693.5 361.5,689.2 364.2,684.9 366.9,680.6 369.6,676.4 372.3,672.2 375.0,668.2 377.6,664.3 380.3,660.6 383.0,657.1 385.7,654.0 388.4,651.2 391.1,648.9 393.8,647.0 396.5,645.6 399.1,644.8 401.8,644.6 404.5,645.1 407.2,646.1 409.9,647.7 412.6,649.9 415.3,652.6 418.0,655.7 420.6,659.3 423.3,663.1 426.0,667.2 428.7,671.5 431.4,675.9 434.1,680.3 436.8,684.8 439.4,689.1 442.1,693.4 444.8,697.5 447.5,701.4 450.2,705.1 452.9,708.6 455.6,711.9 458.3,714.8 460.9,717.6 463.6,720.0 466.3,722.2 469.0,724.1 471.7,725.7 474.4,727.1 477.1,728.2 479.7,729.0 482.4,729.6 485.1,730.0 487.8,730.1 490.5,730.0 493.2,729.7 495.9,729.2 498.6,728.6 501.2,727.8 503.9,726.8 506.6,725.6 509.3,724.3 512.0,722.9 514.7,721.4 517.4,719.7 520.1,717.9 522.7,716.0 525.4,714.0 528.1,711.9 530.8,709.7 533.5,707.5 536.2,705.1 538.9,702.7 541.5,700.2 544.2,697.7 546.9,695.1 549.6,692.5 552.3,689.8 555.0,687.1 557.7,684.4 560.4,681.6 563.0,678.9 565.7,676.2 568.4,673.5 571.1,670.9 573.8,668.3 576.5,665.7 579.2,663.3 581.8,660.9 584.5,658.7 587.2,656.6 589.9,654.6 592.6,652.7 595.3,651.1 598.0,649.6 600.7,648.3 603.3,647.2 606.0,646.3 608.7,645.6 611.4,645.1 614.1,644.9 616.8,644.9 619.5,645.1 622.2,645.5 624.8,646.2 627.5,647.0 630.2,648.1 632.9,649.3 635.6,650.8 638.3,652.4 641.0,654.2 643.6,656.1 646.3,658.2 649.0,660.4 651.7,662.8 654.4,665.2 657.1,667.7 659.8,670.3 662.5,673.0 665.1,675.7 667.8,678.5 670.5,681.3 673.2,684.2 675.9,687.1 678.6,690.0 681.3,692.9 683.9,695.8 686.6,698.8 689.3,701.7 692.0,704.7 694.7,707.6 697.4,710.5 700.1,713.4 702.8,716.3 705.4,719.2 708.1,722.0 710.8,724.9 713.5,727.7 716.2,730.4 718.9,733.2 721.6,735.9 724.3,738.6 726.9,741.3 729.6,744.0 732.3,746.6 735.0,749.2 737.7,751.7 740.4,754.2 743.1,756.7 745.7,759.2 748.4,761.6 751.1,764.1 753.8,766.4 756.5,768.8 759.2,771.1 761.9,773.4 764.6,775.7 767.2,777.9 769.9,780.1 772.6,782.3 775.3,784.5 778.0,786.6 780.7,788.7 783.4,790.8 786.1,792.8 788.7,794.9 791.4,796.9 794.1,798.8 796.8,800.8 799.5,802.7 802.2,804.6 804.9,806.5 807.5,808.4 810.2,810.2 812.9,812.0 815.6,813.8 818.3,815.6 821.0,817.3 823.7,819.1 826.4,820.8 829.0,822.5 831.7,824.1 834.4,825.8 837.1,827.4 839.8,829.0 842.5,830.6 845.2,832.2 847.8,833.8 850.5,835.3 853.2,836.8 855.9,838.3 858.6,839.8 861.3,841.3 864.0,842.7 866.7,844.2 869.3,845.6 872.0,847.0 874.7,848.4 877.4,849.8 880.1,851.1 882.8,852.5 885.5,853.8 888.2,855.1 890.8,856.5 893.5,857.7 896.2,859.0 898.9,860.3 901.6,861.5" fill="none" stroke="#4b1e73" stroke-width="4.6"/><polyline points="98.2,889.1 100.9,888.2 103.6,887.3 106.3,886.4 109.0,885.5 111.6,884.5 114.3,883.6 117.0,882.6 119.7,881.6 122.4,880.6 125.1,879.6 127.8,878.6 130.5,877.6 133.1,876.6 135.8,875.5 138.5,874.4 141.2,873.4 143.9,872.3 146.6,871.2 149.3,870.1 152.0,868.9 154.6,867.8 157.3,866.6 160.0,865.4 162.7,864.2 165.4,863.0 168.1,861.8 170.8,860.6 173.4,859.3 176.1,858.0 178.8,856.7 181.5,855.4 184.2,854.1 186.9,852.8 189.6,851.4 192.3,850.0 194.9,848.6 197.6,847.2 200.3,845.7 203.0,844.2 205.7,842.7 208.4,841.2 211.1,839.7 213.7,838.1 216.4,836.5 219.1,834.9 221.8,833.2 224.5,831.6 227.2,829.9 229.9,828.1 232.6,826.4 235.2,824.6 237.9,822.8 240.6,820.9 243.3,819.0 246.0,817.1 248.7,815.2 251.4,813.2 254.1,811.2 256.7,809.1 259.4,807.0 262.1,804.9 264.8,802.7 267.5,800.5 270.2,798.2 272.9,795.9 275.5,793.5 278.2,791.1 280.9,788.7 283.6,786.1 286.3,783.6 289.0,781.0 291.7,778.3 294.4,775.6 297.0,772.8 299.7,770.0 302.4,767.1 305.1,764.1 307.8,761.0 310.5,757.9 313.2,754.8 315.9,751.5 318.5,748.2 321.2,744.9 323.9,741.4 326.6,737.9 329.3,734.3 332.0,730.6 334.7,726.9 337.3,723.1 340.0,719.2 342.7,715.2 345.4,711.2 348.1,707.2 350.8,703.1 353.5,698.9 356.2,694.7 358.8,690.5 361.5,686.4 364.2,682.2 366.9,678.1 369.6,674.0 372.3,670.1 375.0,666.2 377.6,662.6 380.3,659.2 383.0,656.0 385.7,653.2 388.4,650.7 391.1,648.6 393.8,646.9 396.5,645.7 399.1,645.1 401.8,645.0 404.5,645.4 407.2,646.3 409.9,647.8 412.6,649.8 415.3,652.3 418.0,655.2 420.6,658.4 423.3,662.0 426.0,665.9 428.7,670.0 431.4,674.2 434.1,678.5 436.8,682.9 439.4,687.4 442.1,691.8 444.8,696.2 447.5,700.5 450.2,704.7 452.9,708.8 455.6,712.7 458.3,716.5 460.9,720.1 463.6,723.5 466.3,726.8 469.0,729.8 471.7,732.6 474.4,735.3 477.1,737.7 479.7,739.9 482.4,741.9 485.1,743.6 487.8,745.2 490.5,746.5 493.2,747.7 495.9,748.6 498.6,749.3 501.2,749.8 503.9,750.1 506.6,750.2 509.3,750.2 512.0,749.9 514.7,749.5 517.4,748.9 520.1,748.2 522.7,747.3 525.4,746.2 528.1,745.0 530.8,743.6 533.5,742.1 536.2,740.5 538.9,738.7 541.5,736.8 544.2,734.8 546.9,732.7 549.6,730.5 552.3,728.2 555.0,725.9 557.7,723.4 560.4,720.8 563.0,718.2 565.7,715.5 568.4,712.7 571.1,709.9 573.8,707.1 576.5,704.2 579.2,701.2 581.8,698.3 584.5,695.3 587.2,692.3 589.9,689.3 592.6,686.3 595.3,683.3 598.0,680.3 600.7,677.4 603.3,674.5 606.0,671.7 608.7,669.0 611.4,666.3 614.1,663.7 616.8,661.3 619.5,658.9 622.2,656.7 624.8,654.7 627.5,652.8 630.2,651.1 632.9,649.6 635.6,648.2 638.3,647.1 641.0,646.2 643.6,645.6 646.3,645.1 649.0,644.9 651.7,644.9 654.4,645.2 657.1,645.7 659.8,646.4 662.5,647.3 665.1,648.5 667.8,649.8 670.5,651.3 673.2,653.0 675.9,654.9 678.6,656.9 681.3,659.1 683.9,661.4 686.6,663.8 689.3,666.3 692.0,668.9 694.7,671.6 697.4,674.4 700.1,677.2 702.8,680.1 705.4,683.0 708.1,685.9 710.8,688.9 713.5,691.9 716.2,694.9 718.9,697.9 721.6,700.9 724.3,703.9 726.9,706.9 729.6,709.9 732.3,712.8 735.0,715.8 737.7,718.7 740.4,721.7 743.1,724.6 745.7,727.4 748.4,730.3 751.1,733.1 753.8,735.9 756.5,738.7 759.2,741.4 761.9,744.1 764.6,746.8 767.2,749.4 769.9,752.0 772.6,754.6 775.3,757.2 778.0,759.7 780.7,762.2 783.4,764.7 786.1,767.1 788.7,769.5 791.4,771.9 794.1,774.2 796.8,776.5 799.5,778.8 802.2,781.0 804.9,783.3 807.5,785.5 810.2,787.6 812.9,789.8 815.6,791.9 818.3,794.0 821.0,796.0 823.7,798.0 826.4,800.1 829.0,802.0 831.7,804.0 834.4,805.9 837.1,807.8 839.8,809.7 842.5,811.6 845.2,813.4 847.8,815.2 850.5,817.0 853.2,818.8 855.9,820.5 858.6,822.3 861.3,824.0 864.0,825.7 866.7,827.3 869.3,829.0 872.0,830.6 874.7,832.2 877.4,833.8 880.1,835.4 882.8,836.9 885.5,838.5 888.2,840.0 890.8,841.5 893.5,843.0 896.2,844.4 898.9,845.9 901.6,847.3" fill="none" stroke="#4b328c" stroke-width="4.6"/><polyline points="98.2,890.5 100.9,889.6 103.6,888.7 106.3,887.8 109.0,886.8 111.6,885.9 114.3,884.9 117.0,883.9 119.7,882.9 122.4,881.9 125.1,880.9 127.8,879.9 130.5,878.9 133.1,877.8 135.8,876.7 138.5,875.7 141.2,874.6 143.9,873.5 146.6,872.3 149.3,871.2 152.0,870.0 154.6,868.9 157.3,867.7 160.0,866.5 162.7,865.3 165.4,864.0 168.1,862.8 170.8,861.5 173.4,860.2 176.1,858.9 178.8,857.6 181.5,856.3 184.2,854.9 186.9,853.5 189.6,852.1 192.3,850.7 194.9,849.3 197.6,847.8 200.3,846.3 203.0,844.8 205.7,843.3 208.4,841.7 211.1,840.1 213.7,838.5 216.4,836.9 219.1,835.2 221.8,833.5 224.5,831.8 227.2,830.0 229.9,828.3 232.6,826.5 235.2,824.6 237.9,822.8 240.6,820.8 243.3,818.9 246.0,816.9 248.7,814.9 251.4,812.9 254.1,810.8 256.7,808.7 259.4,806.5 262.1,804.3 264.8,802.1 267.5,799.8 270.2,797.4 272.9,795.0 275.5,792.6 278.2,790.1 280.9,787.6 283.6,785.0 286.3,782.4 289.0,779.7 291.7,777.0 294.4,774.2 297.0,771.3 299.7,768.4 302.4,765.4 305.1,762.4 307.8,759.3 310.5,756.1 313.2,752.9 315.9,749.5 318.5,746.2 321.2,742.7 323.9,739.2 326.6,735.7 329.3,732.0 332.0,728.3 334.7,724.5 337.3,720.7 340.0,716.8 342.7,712.8 345.4,708.8 348.1,704.8 350.8,700.7 353.5,696.6 356.2,692.5 358.8,688.4 361.5,684.3 364.2,680.2 366.9,676.3 369.6,672.4 372.3,668.6 375.0,664.9 377.6,661.5 380.3,658.3 383.0,655.3 385.7,652.7 388.4,650.4 391.1,648.4 393.8,647.0 396.5,645.9 399.1,645.3 401.8,645.3 404.5,645.7 407.2,646.6 409.9,648.1 412.6,649.9 415.3,652.2 418.0,655.0 420.6,658.0 423.3,661.4 426.0,665.1 428.7,669.0 431.4,673.1 434.1,677.3 436.8,681.6 439.4,686.0 442.1,690.5 444.8,694.9 447.5,699.3 450.2,703.7 452.9,708.0 455.6,712.3 458.3,716.5 460.9,720.5 463.6,724.4 466.3,728.2 469.0,731.9 471.7,735.4 474.4,738.8 477.1,742.0 479.7,745.1 482.4,747.9 485.1,750.7 487.8,753.2 490.5,755.6 493.2,757.8 495.9,759.8 498.6,761.6 501.2,763.2 503.9,764.7 506.6,766.0 509.3,767.1 512.0,768.0 514.7,768.8 517.4,769.4 520.1,769.8 522.7,770.0 525.4,770.0 528.1,769.9 530.8,769.6 533.5,769.2 536.2,768.6 538.9,767.8 541.5,766.9 544.2,765.9 546.9,764.7 549.6,763.3 552.3,761.8 555.0,760.3 557.7,758.5 560.4,756.7 563.0,754.7 565.7,752.7 568.4,750.5 571.1,748.2 573.8,745.9 576.5,743.4 579.2,740.9 581.8,738.3 584.5,735.6 587.2,732.9 589.9,730.1 592.6,727.2 595.3,724.3 598.0,721.3 600.7,718.3 603.3,715.2 606.0,712.1 608.7,709.0 611.4,705.9 614.1,702.7 616.8,699.6 619.5,696.4 622.2,693.2 624.8,690.1 627.5,687.0 630.2,683.8 632.9,680.8 635.6,677.8 638.3,674.8 641.0,671.9 643.6,669.1 646.3,666.4 649.0,663.7 651.7,661.2 654.4,658.9 657.1,656.7 659.8,654.6 662.5,652.7 665.1,651.0 667.8,649.5 670.5,648.2 673.2,647.1 675.9,646.2 678.6,645.5 681.3,645.1 683.9,645.0 686.6,645.0 689.3,645.3 692.0,645.9 694.7,646.6 697.4,647.6 700.1,648.8 702.8,650.2 705.4,651.8 708.1,653.6 710.8,655.6 713.5,657.7 716.2,659.9 718.9,662.3 721.6,664.7 724.3,667.3 726.9,670.0 729.6,672.8 732.3,675.6 735.0,678.5 737.7,681.4 740.4,684.4 743.1,687.4 745.7,690.4 748.4,693.4 751.1,696.5 753.8,699.6 756.5,702.6 759.2,705.7 761.9,708.7 764.6,711.8 767.2,714.8 769.9,717.8 772.6,720.8 775.3,723.7 778.0,726.7 780.7,729.6 783.4,732.5 786.1,735.3 788.7,738.1 791.4,740.9 794.1,743.7 796.8,746.4 799.5,749.1 802.2,751.8 804.9,754.4 807.5,757.0 810.2,759.6 812.9,762.2 815.6,764.7 818.3,767.2 821.0,769.6 823.7,772.0 826.4,774.4 829.0,776.8 831.7,779.1 834.4,781.4 837.1,783.6 839.8,785.9 842.5,788.1 845.2,790.2 847.8,792.4 850.5,794.5 853.2,796.6 855.9,798.7 858.6,800.7 861.3,802.7 864.0,804.7 866.7,806.7 869.3,808.6 872.0,810.5 874.7,812.4 877.4,814.3 880.1,816.1 882.8,817.9 885.5,819.7 888.2,821.5 890.8,823.3 893.5,825.0 896.2,826.7 898.9,828.4 901.6,830.0" fill="none" stroke="#554191" stroke-width="4.6"/><polyline points="98.2,890.1 100.9,889.3 103.6,888.5 106.3,887.7 109.0,886.9 111.6,886.0 114.3,885.2 117.0,884.3 119.7,883.5 122.4,882.6 125.1,881.8 127.8,880.9 130.5,880.0 133.1,879.1 135.8,878.2 138.5,877.3 141.2,876.4 143.9,875.4 146.6,874.5 149.3,873.6 152.0,872.6 154.6,871.7 157.3,870.7 160.0,869.7 162.7,868.7 165.4,867.7 168.1,866.7 170.8,865.7 173.4,864.6 176.1,863.6 178.8,862.5 181.5,861.5 184.2,860.4 186.9,859.3 189.6,858.2 192.3,857.1 194.9,856.0 197.6,854.9 200.3,853.7 203.0,852.6 205.7,851.4 208.4,850.2 211.1,849.0 213.7,847.8 216.4,846.6 219.1,845.4 221.8,844.1 224.5,842.9 227.2,841.6 229.9,840.3 232.6,839.0 235.2,837.7 237.9,836.4 240.6,835.0 243.3,833.7 246.0,832.3 248.7,830.9 251.4,829.5 254.1,828.0 256.7,826.6 259.4,825.1 262.1,823.6 264.8,822.1 267.5,820.6 270.2,819.1 272.9,817.5 275.5,815.9 278.2,814.3 280.9,812.7 283.6,811.1 286.3,809.4 289.0,807.7 291.7,806.0 294.4,804.3 297.0,802.5 299.7,800.7 302.4,798.9 305.1,797.1 307.8,795.2 310.5,793.3 313.2,791.4 315.9,789.4 318.5,787.4 321.2,785.4 323.9,783.3 326.6,781.2 329.3,779.1 332.0,776.9 334.7,774.7 337.3,772.5 340.0,770.2 342.7,767.8 345.4,765.4 348.1,763.0 350.8,760.5 353.5,758.0 356.2,755.3 358.8,752.7 361.5,749.9 364.2,747.1 366.9,744.2 369.6,741.3 372.3,738.2 375.0,735.1 377.6,731.9 380.3,728.5 383.0,725.1 385.7,721.5 388.4,717.8 391.1,714.0 393.8,710.0 396.5,705.8 399.1,701.5 401.8,697.0 404.5,692.4 407.2,687.5 409.9,682.5 412.6,677.3 415.3,672.0 418.0,666.7 420.6,661.4 423.3,656.5 426.0,652.0 428.7,648.3 431.4,645.8 434.1,644.9 436.8,645.9 439.4,648.9 442.1,653.7 444.8,659.9 447.5,666.7 450.2,673.6 452.9,679.9 455.6,685.3 458.3,689.6 460.9,692.6 463.6,694.5 466.3,695.3 469.0,695.3 471.7,694.7 474.4,693.4 477.1,691.7 479.7,689.7 482.4,687.5 485.1,685.1 487.8,682.6 490.5,680.0 493.2,677.3 495.9,674.7 498.6,672.1 501.2,669.5 503.9,667.0 506.6,664.6 509.3,662.2 512.0,660.0 514.7,657.9 517.4,655.9 520.1,654.1 522.7,652.4 525.4,650.9 528.1,649.5 530.8,648.3 533.5,647.3 536.2,646.4 538.9,645.8 541.5,645.3 544.2,645.0 546.9,644.9 549.6,645.0 552.3,645.2 555.0,645.7 557.7,646.3 560.4,647.1 563.0,648.0 565.7,649.1 568.4,650.4 571.1,651.8 573.8,653.3 576.5,655.0 579.2,656.8 581.8,658.7 584.5,660.6 587.2,662.7 589.9,664.9 592.6,667.1 595.3,669.4 598.0,671.8 600.7,674.2 603.3,676.6 606.0,679.1 608.7,681.7 611.4,684.2 614.1,686.8 616.8,689.4 619.5,692.1 622.2,694.7 624.8,697.3 627.5,700.0 630.2,702.6 632.9,705.3 635.6,707.9 638.3,710.6 641.0,713.2 643.6,715.8 646.3,718.4 649.0,721.0 651.7,723.6 654.4,726.1 657.1,728.6 659.8,731.2 662.5,733.7 665.1,736.1 667.8,738.6 670.5,741.0 673.2,743.5 675.9,745.9 678.6,748.2 681.3,750.6 683.9,752.9 686.6,755.2 689.3,757.5 692.0,759.8 694.7,762.0 697.4,764.2 700.1,766.4 702.8,768.6 705.4,770.7 708.1,772.8 710.8,774.9 713.5,777.0 716.2,779.1 718.9,781.1 721.6,783.1 724.3,785.1 726.9,787.1 729.6,789.0 732.3,791.0 735.0,792.9 737.7,794.7 740.4,796.6 743.1,798.5 745.7,800.3 748.4,802.1 751.1,803.9 753.8,805.6 756.5,807.4 759.2,809.1 761.9,810.8 764.6,812.5 767.2,814.2 769.9,815.9 772.6,817.5 775.3,819.1 778.0,820.7 780.7,822.3 783.4,823.9 786.1,825.5 788.7,827.0 791.4,828.5 794.1,830.0 796.8,831.5 799.5,833.0 802.2,834.5 804.9,835.9 807.5,837.4 810.2,838.8 812.9,840.2 815.6,841.6 818.3,843.0 821.0,844.3 823.7,845.7 826.4,847.0 829.0,848.3 831.7,849.6 834.4,850.9 837.1,852.2 839.8,853.5 842.5,854.8 845.2,856.0 847.8,857.2 850.5,858.5 853.2,859.7 855.9,860.9 858.6,862.1 861.3,863.2 864.0,864.4 866.7,865.6 869.3,866.7 872.0,867.8 874.7,868.9 877.4,870.1 880.1,871.2 882.8,872.2 885.5,873.3 888.2,874.4 890.8,875.5 893.5,876.5 896.2,877.5 898.9,878.6 901.6,879.6" fill="none" stroke="#7d140a" stroke-width="4.6"/><polyline points="98.2,893.3 100.9,892.5 103.6,891.8 106.3,890.9 109.0,890.1 111.6,889.3 114.3,888.5 117.0,887.7 119.7,886.8 122.4,886.0 125.1,885.1 127.8,884.2 130.5,883.3 133.1,882.5 135.8,881.6 138.5,880.7 141.2,879.8 143.9,878.8 146.6,877.9 149.3,877.0 152.0,876.0 154.6,875.1 157.3,874.1 160.0,873.1 162.7,872.1 165.4,871.1 168.1,870.1 170.8,869.1 173.4,868.0 176.1,867.0 178.8,865.9 181.5,864.9 184.2,863.8 186.9,862.7 189.6,861.6 192.3,860.5 194.9,859.4 197.6,858.2 200.3,857.1 203.0,855.9 205.7,854.7 208.4,853.5 211.1,852.3 213.7,851.1 216.4,849.9 219.1,848.6 221.8,847.3 224.5,846.1 227.2,844.8 229.9,843.4 232.6,842.1 235.2,840.8 237.9,839.4 240.6,838.0 243.3,836.6 246.0,835.2 248.7,833.8 251.4,832.3 254.1,830.8 256.7,829.3 259.4,827.8 262.1,826.3 264.8,824.7 267.5,823.1 270.2,821.5 272.9,819.9 275.5,818.2 278.2,816.5 280.9,814.8 283.6,813.1 286.3,811.3 289.0,809.5 291.7,807.7 294.4,805.8 297.0,803.9 299.7,802.0 302.4,800.1 305.1,798.1 307.8,796.1 310.5,794.0 313.2,791.9 315.9,789.8 318.5,787.6 321.2,785.4 323.9,783.1 326.6,780.8 329.3,778.4 332.0,776.0 334.7,773.5 337.3,771.0 340.0,768.4 342.7,765.8 345.4,763.1 348.1,760.3 350.8,757.5 353.5,754.6 356.2,751.6 358.8,748.6 361.5,745.4 364.2,742.2 366.9,738.9 369.6,735.5 372.3,732.0 375.0,728.4 377.6,724.7 380.3,720.9 383.0,717.0 385.7,713.0 388.4,708.9 391.1,704.6 393.8,700.3 396.5,695.9 399.1,691.3 401.8,686.7 404.5,682.1 407.2,677.4 409.9,672.7 412.6,668.1 415.3,663.7 418.0,659.4 420.6,655.5 423.3,652.0 426.0,649.0 428.7,646.8 431.4,645.4 434.1,644.9 436.8,645.4 439.4,647.0 442.1,649.6 444.8,653.1 447.5,657.4 450.2,662.3 452.9,667.6 455.6,673.1 458.3,678.6 460.9,684.0 463.6,689.0 466.3,693.7 469.0,697.8 471.7,701.3 474.4,704.2 477.1,706.5 479.7,708.2 482.4,709.4 485.1,710.0 487.8,710.0 490.5,709.7 493.2,708.9 495.9,707.8 498.6,706.3 501.2,704.6 503.9,702.6 506.6,700.4 509.3,698.1 512.0,695.6 514.7,693.0 517.4,690.4 520.1,687.6 522.7,684.9 525.4,682.1 528.1,679.3 530.8,676.5 533.5,673.7 536.2,671.0 538.9,668.4 541.5,665.8 544.2,663.3 546.9,661.0 549.6,658.7 552.3,656.6 555.0,654.6 557.7,652.8 560.4,651.2 563.0,649.7 565.7,648.4 568.4,647.3 571.1,646.4 573.8,645.7 576.5,645.2 579.2,645.0 581.8,644.9 584.5,645.0 587.2,645.4 589.9,645.9 592.6,646.6 595.3,647.6 598.0,648.7 600.7,649.9 603.3,651.4 606.0,653.0 608.7,654.7 611.4,656.5 614.1,658.5 616.8,660.6 619.5,662.8 622.2,665.1 624.8,667.4 627.5,669.9 630.2,672.4 632.9,674.9 635.6,677.5 638.3,680.2 641.0,682.9 643.6,685.6 646.3,688.3 649.0,691.0 651.7,693.8 654.4,696.5 657.1,699.3 659.8,702.1 662.5,704.8 665.1,707.6 667.8,710.3 670.5,713.1 673.2,715.8 675.9,718.5 678.6,721.2 681.3,723.9 683.9,726.5 686.6,729.2 689.3,731.8 692.0,734.4 694.7,736.9 697.4,739.5 700.1,742.0 702.8,744.5 705.4,747.0 708.1,749.4 710.8,751.8 713.5,754.2 716.2,756.6 718.9,758.9 721.6,761.2 724.3,763.5 726.9,765.8 729.6,768.0 732.3,770.2 735.0,772.4 737.7,774.6 740.4,776.7 743.1,778.9 745.7,781.0 748.4,783.0 751.1,785.1 753.8,787.1 756.5,789.1 759.2,791.1 761.9,793.0 764.6,795.0 767.2,796.9 769.9,798.8 772.6,800.6 775.3,802.5 778.0,804.3 780.7,806.1 783.4,807.9 786.1,809.7 788.7,811.4 791.4,813.1 794.1,814.8 796.8,816.5 799.5,818.2 802.2,819.8 804.9,821.5 807.5,823.1 810.2,824.7 812.9,826.3 815.6,827.8 818.3,829.4 821.0,830.9 823.7,832.4 826.4,833.9 829.0,835.4 831.7,836.9 834.4,838.3 837.1,839.8 839.8,841.2 842.5,842.6 845.2,844.0 847.8,845.4 850.5,846.7 853.2,848.1 855.9,849.4 858.6,850.7 861.3,852.0 864.0,853.3 866.7,854.6 869.3,855.9 872.0,857.1 874.7,858.4 877.4,859.6 880.1,860.8 882.8,862.0 885.5,863.2 888.2,864.4 890.8,865.6 893.5,866.7 896.2,867.9 898.9,869.0 901.6,870.1" fill="none" stroke="#8c1446" stroke-width="4.6"/><polyline points="98.2,896.0 100.9,895.2 103.6,894.4 106.3,893.6 109.0,892.8 111.6,892.0 114.3,891.1 117.0,890.3 119.7,889.5 122.4,888.6 125.1,887.7 127.8,886.9 130.5,886.0 133.1,885.1 135.8,884.2 138.5,883.3 141.2,882.4 143.9,881.5 146.6,880.5 149.3,879.6 152.0,878.6 154.6,877.7 157.3,876.7 160.0,875.7 162.7,874.7 165.4,873.7 168.1,872.7 170.8,871.7 173.4,870.6 176.1,869.6 178.8,868.5 181.5,867.4 184.2,866.3 186.9,865.2 189.6,864.1 192.3,863.0 194.9,861.8 197.6,860.7 200.3,859.5 203.0,858.3 205.7,857.1 208.4,855.9 211.1,854.7 213.7,853.4 216.4,852.2 219.1,850.9 221.8,849.6 224.5,848.3 227.2,846.9 229.9,845.6 232.6,844.2 235.2,842.8 237.9,841.4 240.6,840.0 243.3,838.5 246.0,837.1 248.7,835.6 251.4,834.1 254.1,832.5 256.7,831.0 259.4,829.4 262.1,827.8 264.8,826.1 267.5,824.5 270.2,822.8 272.9,821.1 275.5,819.3 278.2,817.6 280.9,815.8 283.6,813.9 286.3,812.1 289.0,810.2 291.7,808.3 294.4,806.3 297.0,804.3 299.7,802.2 302.4,800.2 305.1,798.1 307.8,795.9 310.5,793.7 313.2,791.5 315.9,789.2 318.5,786.8 321.2,784.5 323.9,782.0 326.6,779.5 329.3,777.0 332.0,774.4 334.7,771.7 337.3,769.0 340.0,766.2 342.7,763.4 345.4,760.5 348.1,757.5 350.8,754.4 353.5,751.3 356.2,748.1 358.8,744.8 361.5,741.4 364.2,738.0 366.9,734.4 369.6,730.8 372.3,727.1 375.0,723.3 377.6,719.4 380.3,715.4 383.0,711.3 385.7,707.2 388.4,702.9 391.1,698.6 393.8,694.3 396.5,689.9 399.1,685.4 401.8,681.0 404.5,676.6 407.2,672.2 409.9,667.9 412.6,663.8 415.3,659.9 418.0,656.3 420.6,653.0 423.3,650.2 426.0,647.8 428.7,646.0 431.4,644.9 434.1,644.4 436.8,644.7 439.4,645.7 442.1,647.4 444.8,649.8 447.5,652.7 450.2,656.2 452.9,660.1 455.6,664.3 458.3,668.7 460.9,673.2 463.6,677.7 466.3,682.2 469.0,686.4 471.7,690.5 474.4,694.2 477.1,697.7 479.7,700.8 482.4,703.5 485.1,705.8 487.8,707.8 490.5,709.4 493.2,710.6 495.9,711.5 498.6,712.0 501.2,712.3 503.9,712.2 506.6,711.9 509.3,711.4 512.0,710.6 514.7,709.7 517.4,708.6 520.1,707.3 522.7,705.9 525.4,704.4 528.1,702.8 530.8,701.1 533.5,699.3 536.2,697.4 538.9,695.5 541.5,693.5 544.2,691.4 546.9,689.3 549.6,687.1 552.3,684.9 555.0,682.6 557.7,680.3 560.4,678.0 563.0,675.6 565.7,673.3 568.4,670.9 571.1,668.6 573.8,666.3 576.5,664.0 579.2,661.8 581.8,659.6 584.5,657.6 587.2,655.6 589.9,653.8 592.6,652.1 595.3,650.6 598.0,649.2 600.7,648.0 603.3,646.9 606.0,646.1 608.7,645.5 611.4,645.0 614.1,644.8 616.8,644.8 619.5,645.0 622.2,645.5 624.8,646.1 627.5,646.9 630.2,648.0 632.9,649.2 635.6,650.6 638.3,652.1 641.0,653.9 643.6,655.7 646.3,657.7 649.0,659.9 651.7,662.1 654.4,664.5 657.1,666.9 659.8,669.4 662.5,672.0 665.1,674.6 667.8,677.3 670.5,680.1 673.2,682.8 675.9,685.6 678.6,688.5 681.3,691.3 683.9,694.2 686.6,697.1 689.3,699.9 692.0,702.8 694.7,705.6 697.4,708.5 700.1,711.3 702.8,714.2 705.4,717.0 708.1,719.8 710.8,722.6 713.5,725.3 716.2,728.1 718.9,730.8 721.6,733.4 724.3,736.1 726.9,738.7 729.6,741.3 732.3,743.9 735.0,746.5 737.7,749.0 740.4,751.5 743.1,754.0 745.7,756.4 748.4,758.8 751.1,761.2 753.8,763.6 756.5,765.9 759.2,768.2 761.9,770.5 764.6,772.8 767.2,775.0 769.9,777.2 772.6,779.4 775.3,781.5 778.0,783.6 780.7,785.7 783.4,787.8 786.1,789.8 788.7,791.9 791.4,793.9 794.1,795.8 796.8,797.8 799.5,799.7 802.2,801.6 804.9,803.5 807.5,805.3 810.2,807.2 812.9,809.0 815.6,810.8 818.3,812.6 821.0,814.3 823.7,816.1 826.4,817.8 829.0,819.5 831.7,821.1 834.4,822.8 837.1,824.4 839.8,826.1 842.5,827.7 845.2,829.2 847.8,830.8 850.5,832.3 853.2,833.9 855.9,835.4 858.6,836.9 861.3,838.4 864.0,839.8 866.7,841.3 869.3,842.7 872.0,844.1 874.7,845.5 877.4,846.9 880.1,848.3 882.8,849.6 885.5,851.0 888.2,852.3 890.8,853.6 893.5,854.9 896.2,856.2 898.9,857.5 901.6,858.8" fill="none" stroke="#961482" stroke-width="4.6"/><polyline points="98.2,896.2 100.9,896.2 103.6,896.2 106.3,895.7 109.0,894.9 111.6,894.1 114.3,893.3 117.0,892.4 119.7,891.6 122.4,890.7 125.1,889.9 127.8,889.0 130.5,888.1 133.1,887.2 135.8,886.3 138.5,885.4 141.2,884.5 143.9,883.6 146.6,882.6 149.3,881.7 152.0,880.7 154.6,879.7 157.3,878.8 160.0,877.8 162.7,876.8 165.4,875.7 168.1,874.7 170.8,873.7 173.4,872.6 176.1,871.5 178.8,870.4 181.5,869.3 184.2,868.2 186.9,867.1 189.6,866.0 192.3,864.8 194.9,863.7 197.6,862.5 200.3,861.3 203.0,860.1 205.7,858.8 208.4,857.6 211.1,856.3 213.7,855.1 216.4,853.8 219.1,852.4 221.8,851.1 224.5,849.8 227.2,848.4 229.9,847.0 232.6,845.6 235.2,844.2 237.9,842.7 240.6,841.2 243.3,839.7 246.0,838.2 248.7,836.7 251.4,835.1 254.1,833.5 256.7,831.9 259.4,830.3 262.1,828.6 264.8,826.9 267.5,825.2 270.2,823.4 272.9,821.6 275.5,819.8 278.2,818.0 280.9,816.1 283.6,814.2 286.3,812.2 289.0,810.2 291.7,808.2 294.4,806.2 297.0,804.1 299.7,801.9 302.4,799.8 305.1,797.5 307.8,795.3 310.5,793.0 313.2,790.6 315.9,788.2 318.5,785.7 321.2,783.2 323.9,780.7 326.6,778.0 329.3,775.4 332.0,772.6 334.7,769.8 337.3,767.0 340.0,764.0 342.7,761.0 345.4,758.0 348.1,754.9 350.8,751.7 353.5,748.4 356.2,745.0 358.8,741.6 361.5,738.1 364.2,734.5 366.9,730.8 369.6,727.1 372.3,723.2 375.0,719.3 377.6,715.4 380.3,711.3 383.0,707.2 385.7,703.0 388.4,698.8 391.1,694.5 393.8,690.2 396.5,685.9 399.1,681.6 401.8,677.4 404.5,673.2 407.2,669.1 409.9,665.2 412.6,661.4 415.3,657.9 418.0,654.7 420.6,651.9 423.3,649.4 426.0,647.4 428.7,645.9 431.4,645.0 434.1,644.6 436.8,644.9 439.4,645.8 442.1,647.2 444.8,649.3 447.5,651.8 450.2,654.8 452.9,658.3 455.6,662.0 458.3,666.0 460.9,670.2 463.6,674.6 466.3,679.0 469.0,683.4 471.7,687.7 474.4,692.0 477.1,696.1 479.7,700.1 482.4,703.9 485.1,707.4 487.8,710.7 490.5,713.8 493.2,716.6 495.9,719.2 498.6,721.5 501.2,723.5 503.9,725.2 506.6,726.7 509.3,727.9 512.0,728.9 514.7,729.6 517.4,730.1 520.1,730.3 522.7,730.4 525.4,730.2 528.1,729.8 530.8,729.3 533.5,728.6 536.2,727.7 538.9,726.6 541.5,725.5 544.2,724.1 546.9,722.7 549.6,721.1 552.3,719.4 555.0,717.5 557.7,715.6 560.4,713.6 563.0,711.5 565.7,709.3 568.4,707.0 571.1,704.6 573.8,702.2 576.5,699.7 579.2,697.1 581.8,694.5 584.5,691.9 587.2,689.2 589.9,686.5 592.6,683.8 595.3,681.0 598.0,678.3 600.7,675.6 603.3,672.9 606.0,670.3 608.7,667.7 611.4,665.2 614.1,662.8 616.8,660.4 619.5,658.2 622.2,656.1 624.8,654.2 627.5,652.4 630.2,650.7 632.9,649.3 635.6,648.0 638.3,646.9 641.0,646.1 643.6,645.5 646.3,645.0 649.0,644.9 651.7,644.9 654.4,645.2 657.1,645.6 659.8,646.3 662.5,647.2 665.1,648.4 667.8,649.7 670.5,651.2 673.2,652.8 675.9,654.7 678.6,656.6 681.3,658.7 683.9,661.0 686.6,663.3 689.3,665.8 692.0,668.3 694.7,671.0 697.4,673.7 700.1,676.4 702.8,679.2 705.4,682.1 708.1,684.9 710.8,687.8 713.5,690.8 716.2,693.7 718.9,696.7 721.6,699.6 724.3,702.6 726.9,705.5 729.6,708.4 732.3,711.4 735.0,714.3 737.7,717.2 740.4,720.0 743.1,722.9 745.7,725.7 748.4,728.5 751.1,731.3 753.8,734.1 756.5,736.8 759.2,739.5 761.9,742.2 764.6,744.8 767.2,747.4 769.9,750.0 772.6,752.6 775.3,755.1 778.0,757.6 780.7,760.1 783.4,762.5 786.1,764.9 788.7,767.3 791.4,769.7 794.1,772.0 796.8,774.3 799.5,776.5 802.2,778.8 804.9,781.0 807.5,783.2 810.2,785.3 812.9,787.4 815.6,789.5 818.3,791.6 821.0,793.7 823.7,795.7 826.4,797.7 829.0,799.7 831.7,801.6 834.4,803.5 837.1,805.5 839.8,807.3 842.5,809.2 845.2,811.0 847.8,812.8 850.5,814.6 853.2,816.4 855.9,818.1 858.6,819.9 861.3,821.6 864.0,823.3 866.7,824.9 869.3,826.6 872.0,828.2 874.7,829.8 877.4,831.4 880.1,833.0 882.8,834.5 885.5,836.1 888.2,837.6 890.8,839.1 893.5,840.6 896.2,842.1 898.9,843.5 901.6,844.9" fill="none" stroke="#7d378c" stroke-width="4.6"/><polyline points="98.2,896.2 100.9,896.2 103.6,896.2 106.3,896.2 109.0,896.2 111.6,895.8 114.3,895.0 117.0,894.2 119.7,893.3 122.4,892.5 125.1,891.6 127.8,890.7 130.5,889.8 133.1,888.9 135.8,888.0 138.5,887.1 141.2,886.2 143.9,885.2 146.6,884.3 149.3,883.3 152.0,882.3 154.6,881.3 157.3,880.4 160.0,879.3 162.7,878.3 165.4,877.3 168.1,876.2 170.8,875.2 173.4,874.1 176.1,873.0 178.8,871.9 181.5,870.8 184.2,869.7 186.9,868.5 189.6,867.4 192.3,866.2 194.9,865.0 197.6,863.8 200.3,862.6 203.0,861.3 205.7,860.1 208.4,858.8 211.1,857.5 213.7,856.2 216.4,854.9 219.1,853.5 221.8,852.2 224.5,850.8 227.2,849.4 229.9,848.0 232.6,846.5 235.2,845.0 237.9,843.5 240.6,842.0 243.3,840.5 246.0,838.9 248.7,837.3 251.4,835.7 254.1,834.1 256.7,832.4 259.4,830.7 262.1,829.0 264.8,827.2 267.5,825.4 270.2,823.6 272.9,821.8 275.5,819.9 278.2,818.0 280.9,816.0 283.6,814.1 286.3,812.0 289.0,810.0 291.7,807.9 294.4,805.8 297.0,803.6 299.7,801.4 302.4,799.1 305.1,796.8 307.8,794.4 310.5,792.0 313.2,789.6 315.9,787.1 318.5,784.5 321.2,781.9 323.9,779.3 326.6,776.5 329.3,773.8 332.0,770.9 334.7,768.0 337.3,765.1 340.0,762.0 342.7,758.9 345.4,755.8 348.1,752.5 350.8,749.2 353.5,745.9 356.2,742.4 358.8,738.9 361.5,735.3 364.2,731.7 366.9,727.9 369.6,724.1 372.3,720.2 375.0,716.3 377.6,712.3 380.3,708.2 383.0,704.1 385.7,700.0 388.4,695.8 391.1,691.6 393.8,687.4 396.5,683.2 399.1,679.1 401.8,675.0 404.5,671.0 407.2,667.2 409.9,663.5 412.6,660.0 415.3,656.8 418.0,653.8 420.6,651.2 423.3,649.0 426.0,647.3 428.7,646.0 431.4,645.2 434.1,645.0 436.8,645.2 439.4,646.1 442.1,647.4 444.8,649.3 447.5,651.6 450.2,654.4 452.9,657.5 455.6,661.0 458.3,664.8 460.9,668.8 463.6,673.0 466.3,677.2 469.0,681.6 471.7,686.0 474.4,690.4 477.1,694.8 479.7,699.1 482.4,703.3 485.1,707.4 487.8,711.4 490.5,715.2 493.2,718.9 495.9,722.4 498.6,725.7 501.2,728.8 503.9,731.7 506.6,734.4 509.3,736.9 512.0,739.2 514.7,741.2 517.4,743.1 520.1,744.7 522.7,746.2 525.4,747.4 528.1,748.4 530.8,749.2 533.5,749.9 536.2,750.3 538.9,750.5 541.5,750.5 544.2,750.4 546.9,750.1 549.6,749.6 552.3,748.9 555.0,748.1 557.7,747.1 560.4,746.0 563.0,744.7 565.7,743.3 568.4,741.8 571.1,740.1 573.8,738.3 576.5,736.4 579.2,734.4 581.8,732.2 584.5,730.0 587.2,727.7 589.9,725.3 592.6,722.8 595.3,720.2 598.0,717.6 600.7,714.8 603.3,712.1 606.0,709.3 608.7,706.4 611.4,703.5 614.1,700.5 616.8,697.6 619.5,694.6 622.2,691.6 624.8,688.6 627.5,685.6 630.2,682.6 632.9,679.7 635.6,676.7 638.3,673.9 641.0,671.1 643.6,668.4 646.3,665.7 649.0,663.2 651.7,660.7 654.4,658.4 657.1,656.3 659.8,654.2 662.5,652.4 665.1,650.7 667.8,649.3 670.5,648.0 673.2,646.9 675.9,646.1 678.6,645.5 681.3,645.1 683.9,644.9 686.6,645.0 689.3,645.3 692.0,645.8 694.7,646.6 697.4,647.6 700.1,648.8 702.8,650.1 705.4,651.7 708.1,653.5 710.8,655.4 713.5,657.4 716.2,659.6 718.9,662.0 721.6,664.4 724.3,666.9 726.9,669.6 729.6,672.3 732.3,675.1 735.0,677.9 737.7,680.8 740.4,683.7 743.1,686.7 745.7,689.6 748.4,692.6 751.1,695.7 753.8,698.7 756.5,701.7 759.2,704.7 761.9,707.7 764.6,710.7 767.2,713.7 769.9,716.6 772.6,719.6 775.3,722.5 778.0,725.4 780.7,728.3 783.4,731.1 786.1,734.0 788.7,736.8 791.4,739.5 794.1,742.3 796.8,745.0 799.5,747.6 802.2,750.3 804.9,752.9 807.5,755.5 810.2,758.0 812.9,760.5 815.6,763.0 818.3,765.5 821.0,767.9 823.7,770.3 826.4,772.7 829.0,775.0 831.7,777.3 834.4,779.6 837.1,781.9 839.8,784.1 842.5,786.3 845.2,788.4 847.8,790.6 850.5,792.7 853.2,794.8 855.9,796.8 858.6,798.9 861.3,800.9 864.0,802.8 866.7,804.8 869.3,806.7 872.0,808.6 874.7,810.5 877.4,812.4 880.1,814.2 882.8,816.0 885.5,817.8 888.2,819.6 890.8,821.3 893.5,823.0 896.2,824.8 898.9,826.4 901.6,828.1" fill="none" stroke="#874191" stroke-width="4.6"/><polyline points="98.2,896.2 100.9,895.5 103.6,894.7 106.3,894.0 109.0,893.2 111.6,892.5 114.3,891.7 117.0,890.9 119.7,890.1 122.4,889.3 125.1,888.5 127.8,887.7 130.5,886.9 133.1,886.1 135.8,885.3 138.5,884.5 141.2,883.6 143.9,882.8 146.6,881.9 149.3,881.1 152.0,880.2 154.6,879.3 157.3,878.4 160.0,877.5 162.7,876.6 165.4,875.7 168.1,874.8 170.8,873.9 173.4,873.0 176.1,872.0 178.8,871.1 181.5,870.1 184.2,869.2 186.9,868.2 189.6,867.2 192.3,866.2 194.9,865.2 197.6,864.2 200.3,863.2 203.0,862.1 205.7,861.1 208.4,860.0 211.1,859.0 213.7,857.9 216.4,856.8 219.1,855.7 221.8,854.6 224.5,853.5 227.2,852.4 229.9,851.3 232.6,850.1 235.2,849.0 237.9,847.8 240.6,846.6 243.3,845.5 246.0,844.3 248.7,843.0 251.4,841.8 254.1,840.6 256.7,839.3 259.4,838.1 262.1,836.8 264.8,835.5 267.5,834.2 270.2,832.9 272.9,831.6 275.5,830.2 278.2,828.9 280.9,827.5 283.6,826.1 286.3,824.7 289.0,823.3 291.7,821.9 294.4,820.5 297.0,819.0 299.7,817.5 302.4,816.1 305.1,814.6 307.8,813.0 310.5,811.5 313.2,810.0 315.9,808.4 318.5,806.8 321.2,805.2 323.9,803.6 326.6,802.0 329.3,800.3 332.0,798.7 334.7,797.0 337.3,795.3 340.0,793.5 342.7,791.8 345.4,790.0 348.1,788.3 350.8,786.5 353.5,784.6 356.2,782.8 358.8,780.9 361.5,779.1 364.2,777.2 366.9,775.2 369.6,773.3 372.3,771.3 375.0,769.3 377.6,767.3 380.3,765.3 383.0,763.2 385.7,761.1 388.4,759.0 391.1,756.9 393.8,754.7 396.5,752.5 399.1,750.3 401.8,748.1 404.5,745.8 407.2,743.5 409.9,741.1 412.6,738.8 415.3,736.3 418.0,733.9 420.6,731.4 423.3,728.8 426.0,726.2 428.7,723.6 431.4,720.8 434.1,717.9 436.8,715.0 439.4,711.8 442.1,708.5 444.8,704.9 447.5,700.9 450.2,696.3 452.9,690.9 455.6,684.3 458.3,675.8 460.9,665.0 463.6,653.0 466.3,645.3 469.0,648.0 471.7,657.1 474.4,665.3 477.1,670.1 479.7,672.3 482.4,672.9 485.1,672.5 487.8,671.4 490.5,670.1 493.2,668.5 495.9,666.8 498.6,665.0 501.2,663.2 503.9,661.4 506.6,659.7 509.3,658.0 512.0,656.3 514.7,654.8 517.4,653.3 520.1,651.9 522.7,650.7 525.4,649.5 528.1,648.5 530.8,647.5 533.5,646.7 536.2,646.1 538.9,645.6 541.5,645.2 544.2,645.0 546.9,644.9 549.6,645.0 552.3,645.2 555.0,645.5 557.7,646.0 560.4,646.7 563.0,647.5 565.7,648.4 568.4,649.4 571.1,650.6 573.8,651.9 576.5,653.3 579.2,654.9 581.8,656.5 584.5,658.2 587.2,660.1 589.9,662.0 592.6,664.0 595.3,666.0 598.0,668.1 600.7,670.3 603.3,672.6 606.0,674.9 608.7,677.2 611.4,679.6 614.1,682.0 616.8,684.4 619.5,686.9 622.2,689.4 624.8,691.9 627.5,694.4 630.2,696.9 632.9,699.4 635.6,702.0 638.3,704.5 641.0,707.0 643.6,709.6 646.3,712.1 649.0,714.6 651.7,717.1 654.4,719.6 657.1,722.1 659.8,724.6 662.5,727.0 665.1,729.5 667.8,731.9 670.5,734.3 673.2,736.7 675.9,739.1 678.6,741.5 681.3,743.8 683.9,746.1 686.6,748.4 689.3,750.7 692.0,753.0 694.7,755.2 697.4,757.5 700.1,759.7 702.8,761.9 705.4,764.0 708.1,766.2 710.8,768.3 713.5,770.4 716.2,772.5 718.9,774.5 721.6,776.6 724.3,778.6 726.9,780.6 729.6,782.6 732.3,784.5 735.0,786.4 737.7,788.4 740.4,790.3 743.1,792.1 745.7,794.0 748.4,795.8 751.1,797.7 753.8,799.5 756.5,801.3 759.2,803.0 761.9,804.8 764.6,806.5 767.2,808.2 769.9,809.9 772.6,811.6 775.3,813.3 778.0,814.9 780.7,816.5 783.4,818.1 786.1,819.7 788.7,821.3 791.4,822.9 794.1,824.4 796.8,826.0 799.5,827.5 802.2,829.0 804.9,830.5 807.5,831.9 810.2,833.4 812.9,834.8 815.6,836.3 818.3,837.7 821.0,839.1 823.7,840.5 826.4,841.8 829.0,843.2 831.7,844.6 834.4,845.9 837.1,847.2 839.8,848.5 842.5,849.8 845.2,851.1 847.8,852.4 850.5,853.6 853.2,854.9 855.9,856.1 858.6,857.3 861.3,858.5 864.0,859.7 866.7,860.9 869.3,862.1 872.0,863.3 874.7,864.4 877.4,865.6 880.1,866.7 882.8,867.8 885.5,868.9 888.2,870.0 890.8,871.1 893.5,872.2 896.2,873.3 898.9,874.4 901.6,875.4" fill="none" stroke="#b91919" stroke-width="4.6"/><polyline points="98.2,896.2 100.9,896.2 103.6,896.2 106.3,896.2 109.0,896.2 111.6,896.2 114.3,895.5 117.0,894.8 119.7,894.0 122.4,893.2 125.1,892.5 127.8,891.7 130.5,890.9 133.1,890.1 135.8,889.3 138.5,888.5 141.2,887.7 143.9,886.8 146.6,886.0 149.3,885.2 152.0,884.3 154.6,883.5 157.3,882.6 160.0,881.7 162.7,880.8 165.4,879.9 168.1,879.1 170.8,878.1 173.4,877.2 176.1,876.3 178.8,875.4 181.5,874.4 184.2,873.5 186.9,872.5 189.6,871.6 192.3,870.6 194.9,869.6 197.6,868.6 200.3,867.6 203.0,866.6 205.7,865.5 208.4,864.5 211.1,863.5 213.7,862.4 216.4,861.3 219.1,860.3 221.8,859.2 224.5,858.1 227.2,856.9 229.9,855.8 232.6,854.7 235.2,853.5 237.9,852.4 240.6,851.2 243.3,850.0 246.0,848.8 248.7,847.6 251.4,846.4 254.1,845.1 256.7,843.9 259.4,842.6 262.1,841.3 264.8,840.0 267.5,838.7 270.2,837.4 272.9,836.0 275.5,834.7 278.2,833.3 280.9,831.9 283.6,830.5 286.3,829.1 289.0,827.6 291.7,826.2 294.4,824.7 297.0,823.2 299.7,821.7 302.4,820.1 305.1,818.6 307.8,817.0 310.5,815.4 313.2,813.8 315.9,812.2 318.5,810.5 321.2,808.8 323.9,807.1 326.6,805.4 329.3,803.6 332.0,801.8 334.7,800.0 337.3,798.2 340.0,796.3 342.7,794.4 345.4,792.5 348.1,790.5 350.8,788.5 353.5,786.5 356.2,784.4 358.8,782.3 361.5,780.2 364.2,778.0 366.9,775.8 369.6,773.6 372.3,771.3 375.0,768.9 377.6,766.5 380.3,764.1 383.0,761.6 385.7,759.0 388.4,756.4 391.1,753.7 393.8,751.0 396.5,748.2 399.1,745.3 401.8,742.3 404.5,739.2 407.2,736.1 409.9,732.8 412.6,729.5 415.3,726.0 418.0,722.4 420.6,718.7 423.3,714.9 426.0,710.9 428.7,706.7 431.4,702.4 434.1,697.9 436.8,693.2 439.4,688.4 442.1,683.4 444.8,678.2 447.5,672.9 450.2,667.6 452.9,662.4 455.6,657.4 458.3,652.8 460.9,649.0 463.6,646.2 466.3,644.9 469.0,645.4 471.7,647.8 474.4,652.0 477.1,657.6 479.7,664.1 482.4,670.8 485.1,677.2 487.8,682.9 490.5,687.6 493.2,691.1 495.9,693.5 498.6,694.9 501.2,695.4 503.9,695.1 506.6,694.2 509.3,692.9 512.0,691.1 514.7,689.1 517.4,686.8 520.1,684.4 522.7,681.9 525.4,679.3 528.1,676.7 530.8,674.1 533.5,671.5 536.2,668.9 538.9,666.5 541.5,664.1 544.2,661.8 546.9,659.6 549.6,657.5 552.3,655.5 555.0,653.7 557.7,652.1 560.4,650.6 563.0,649.2 565.7,648.1 568.4,647.1 571.1,646.3 573.8,645.6 576.5,645.2 579.2,645.0 581.8,644.9 584.5,645.0 587.2,645.3 589.9,645.8 592.6,646.5 595.3,647.3 598.0,648.3 600.7,649.4 603.3,650.7 606.0,652.2 608.7,653.8 611.4,655.5 614.1,657.3 616.8,659.2 619.5,661.2 622.2,663.3 624.8,665.5 627.5,667.8 630.2,670.1 632.9,672.5 635.6,674.9 638.3,677.4 641.0,679.9 643.6,682.5 646.3,685.1 649.0,687.7 651.7,690.3 654.4,693.0 657.1,695.6 659.8,698.3 662.5,700.9 665.1,703.6 667.8,706.2 670.5,708.9 673.2,711.5 675.9,714.2 678.6,716.8 681.3,719.4 683.9,722.0 686.6,724.6 689.3,727.1 692.0,729.7 694.7,732.2 697.4,734.7 700.1,737.2 702.8,739.6 705.4,742.1 708.1,744.5 710.8,746.9 713.5,749.2 716.2,751.6 718.9,753.9 721.6,756.2 724.3,758.5 726.9,760.8 729.6,763.0 732.3,765.2 735.0,767.4 737.7,769.6 740.4,771.7 743.1,773.8 745.7,775.9 748.4,778.0 751.1,780.1 753.8,782.1 756.5,784.1 759.2,786.1 761.9,788.1 764.6,790.0 767.2,791.9 769.9,793.8 772.6,795.7 775.3,797.6 778.0,799.4 780.7,801.3 783.4,803.1 786.1,804.8 788.7,806.6 791.4,808.4 794.1,810.1 796.8,811.8 799.5,813.5 802.2,815.2 804.9,816.8 807.5,818.4 810.2,820.1 812.9,821.7 815.6,823.3 818.3,824.8 821.0,826.4 823.7,827.9 826.4,829.4 829.0,831.0 831.7,832.4 834.4,833.9 837.1,835.4 839.8,836.8 842.5,838.3 845.2,839.7 847.8,841.1 850.5,842.5 853.2,843.8 855.9,845.2 858.6,846.5 861.3,847.9 864.0,849.2 866.7,850.5 869.3,851.8 872.0,853.1 874.7,854.3 877.4,855.6 880.1,856.8 882.8,858.1 885.5,859.3 888.2,860.5 890.8,861.7 893.5,862.9 896.2,864.0 898.9,865.2 901.6,866.4" fill="none" stroke="#c8143c" stroke-width="4.6"/><polyline points="98.2,896.2 100.9,896.2 103.6,896.2 106.3,896.2 109.0,896.2 111.6,896.2 114.3,896.2 117.0,896.2 119.7,896.2 122.4,896.2 125.1,895.6 127.8,894.9 130.5,894.1 133.1,893.3 135.8,892.5 138.5,891.7 141.2,890.9 143.9,890.1 146.6,889.3 149.3,888.4 152.0,887.6 154.6,886.7 157.3,885.9 160.0,885.0 162.7,884.1 165.4,883.3 168.1,882.4 170.8,881.5 173.4,880.6 176.1,879.6 178.8,878.7 181.5,877.8 184.2,876.8 186.9,875.9 189.6,874.9 192.3,873.9 194.9,872.9 197.6,871.9 200.3,870.9 203.0,869.9 205.7,868.9 208.4,867.9 211.1,866.8 213.7,865.7 216.4,864.7 219.1,863.6 221.8,862.5 224.5,861.4 227.2,860.2 229.9,859.1 232.6,858.0 235.2,856.8 237.9,855.6 240.6,854.4 243.3,853.2 246.0,852.0 248.7,850.8 251.4,849.5 254.1,848.3 256.7,847.0 259.4,845.7 262.1,844.4 264.8,843.0 267.5,841.7 270.2,840.3 272.9,839.0 275.5,837.6 278.2,836.1 280.9,834.7 283.6,833.3 286.3,831.8 289.0,830.3 291.7,828.8 294.4,827.2 297.0,825.7 299.7,824.1 302.4,822.5 305.1,820.8 307.8,819.2 310.5,817.5 313.2,815.8 315.9,814.1 318.5,812.3 321.2,810.5 323.9,808.7 326.6,806.8 329.3,804.9 332.0,803.0 334.7,801.1 337.3,799.1 340.0,797.1 342.7,795.0 345.4,792.9 348.1,790.8 350.8,788.6 353.5,786.4 356.2,784.1 358.8,781.8 361.5,779.4 364.2,777.0 366.9,774.6 369.6,772.0 372.3,769.5 375.0,766.8 377.6,764.1 380.3,761.4 383.0,758.5 385.7,755.6 388.4,752.7 391.1,749.6 393.8,746.5 396.5,743.2 399.1,739.9 401.8,736.5 404.5,733.0 407.2,729.5 409.9,725.8 412.6,722.0 415.3,718.1 418.0,714.0 420.6,709.9 423.3,705.7 426.0,701.3 428.7,696.9 431.4,692.4 434.1,687.8 436.8,683.1 439.4,678.4 442.1,673.7 444.8,669.1 447.5,664.6 450.2,660.3 452.9,656.3 455.6,652.7 458.3,649.7 460.9,647.3 463.6,645.6 466.3,644.9 469.0,645.2 471.7,646.5 474.4,648.7 477.1,651.9 479.7,655.9 482.4,660.6 485.1,665.7 487.8,671.1 490.5,676.6 493.2,681.9 495.9,687.0 498.6,691.7 501.2,696.0 503.9,699.7 506.6,702.9 509.3,705.4 512.0,707.4 514.7,708.8 517.4,709.7 520.1,710.0 522.7,709.9 525.4,709.4 528.1,708.5 530.8,707.2 533.5,705.7 536.2,703.9 538.9,701.9 541.5,699.7 544.2,697.3 546.9,694.9 549.6,692.3 552.3,689.6 555.0,686.9 557.7,684.1 560.4,681.3 563.0,678.5 565.7,675.8 568.4,673.0 571.1,670.4 573.8,667.8 576.5,665.2 579.2,662.8 581.8,660.4 584.5,658.2 587.2,656.1 589.9,654.2 592.6,652.4 595.3,650.8 598.0,649.4 600.7,648.2 603.3,647.1 606.0,646.3 608.7,645.6 611.4,645.2 614.1,644.9 616.8,644.9 619.5,645.1 622.2,645.5 624.8,646.1 627.5,646.8 630.2,647.8 632.9,649.0 635.6,650.3 638.3,651.7 641.0,653.4 643.6,655.1 646.3,657.0 649.0,659.0 651.7,661.2 654.4,663.4 657.1,665.7 659.8,668.1 662.5,670.6 665.1,673.1 667.8,675.7 670.5,678.3 673.2,680.9 675.9,683.6 678.6,686.4 681.3,689.1 683.9,691.9 686.6,694.6 689.3,697.4 692.0,700.2 694.7,703.0 697.4,705.7 700.1,708.5 702.8,711.3 705.4,714.0 708.1,716.7 710.8,719.4 713.5,722.1 716.2,724.8 718.9,727.5 721.6,730.1 724.3,732.7 726.9,735.3 729.6,737.9 732.3,740.4 735.0,742.9 737.7,745.4 740.4,747.9 743.1,750.3 745.7,752.8 748.4,755.2 751.1,757.5 753.8,759.9 756.5,762.2 759.2,764.5 761.9,766.7 764.6,769.0 767.2,771.2 769.9,773.4 772.6,775.5 775.3,777.7 778.0,779.8 780.7,781.9 783.4,784.0 786.1,786.0 788.7,788.0 791.4,790.0 794.1,792.0 796.8,793.9 799.5,795.9 802.2,797.8 804.9,799.7 807.5,801.5 810.2,803.4 812.9,805.2 815.6,807.0 818.3,808.8 821.0,810.6 823.7,812.3 826.4,814.0 829.0,815.7 831.7,817.4 834.4,819.1 837.1,820.7 839.8,822.4 842.5,824.0 845.2,825.6 847.8,827.1 850.5,828.7 853.2,830.2 855.9,831.8 858.6,833.3 861.3,834.8 864.0,836.3 866.7,837.7 869.3,839.2 872.0,840.6 874.7,842.0 877.4,843.4 880.1,844.8 882.8,846.2 885.5,847.5 888.2,848.9 890.8,850.2 893.5,851.5 896.2,852.8 898.9,854.1 901.6,855.4" fill="none" stroke="#cd058c" stroke-width="4.6"/><polyline points="98.2,896.2 100.9,896.2 103.6,896.2 106.3,896.2 109.0,896.2 111.6,896.2 114.3,896.2 117.0,896.2 119.7,896.2 122.4,896.2 125.1,896.2 127.8,896.2 130.5,896.2 133.1,895.9 135.8,895.1 138.5,894.3 141.2,893.5 143.9,892.7 146.6,891.9 149.3,891.0 152.0,890.2 154.6,889.3 157.3,888.5 160.0,887.6 162.7,886.8 165.4,885.9 168.1,885.0 170.8,884.1 173.4,883.2 176.1,882.2 178.8,881.3 181.5,880.4 184.2,879.4 186.9,878.5 189.6,877.5 192.3,876.5 194.9,875.5 197.6,874.5 200.3,873.5 203.0,872.5 205.7,871.4 208.4,870.4 211.1,869.3 213.7,868.2 216.4,867.2 219.1,866.1 221.8,864.9 224.5,863.8 227.2,862.7 229.9,861.5 232.6,860.3 235.2,859.2 237.9,858.0 240.6,856.7 243.3,855.5 246.0,854.3 248.7,853.0 251.4,851.7 254.1,850.4 256.7,849.1 259.4,847.8 262.1,846.4 264.8,845.1 267.5,843.7 270.2,842.3 272.9,840.9 275.5,839.4 278.2,838.0 280.9,836.5 283.6,835.0 286.3,833.4 289.0,831.9 291.7,830.3 294.4,828.7 297.0,827.1 299.7,825.4 302.4,823.7 305.1,822.0 307.8,820.3 310.5,818.5 313.2,816.7 315.9,814.9 318.5,813.0 321.2,811.1 323.9,809.2 326.6,807.2 329.3,805.2 332.0,803.2 334.7,801.1 337.3,799.0 340.0,796.9 342.7,794.7 345.4,792.4 348.1,790.1 350.8,787.8 353.5,785.4 356.2,783.0 358.8,780.5 361.5,778.0 364.2,775.4 366.9,772.7 369.6,770.0 372.3,767.2 375.0,764.4 377.6,761.5 380.3,758.5 383.0,755.4 385.7,752.3 388.4,749.1 391.1,745.8 393.8,742.5 396.5,739.0 399.1,735.5 401.8,731.8 404.5,728.1 407.2,724.3 409.9,720.4 412.6,716.4 415.3,712.4 418.0,708.2 420.6,704.0 423.3,699.7 426.0,695.3 428.7,690.9 431.4,686.5 434.1,682.0 436.8,677.6 439.4,673.2 442.1,668.9 444.8,664.8 447.5,660.8 450.2,657.1 452.9,653.7 455.6,650.8 458.3,648.3 460.9,646.4 463.6,645.1 466.3,644.5 469.0,644.5 471.7,645.4 474.4,646.9 477.1,649.0 479.7,651.8 482.4,655.1 485.1,658.9 487.8,663.0 490.5,667.3 493.2,671.7 495.9,676.2 498.6,680.6 501.2,684.9 503.9,688.9 506.6,692.7 509.3,696.3 512.0,699.5 514.7,702.3 517.4,704.8 520.1,706.9 522.7,708.6 525.4,710.0 528.1,711.0 530.8,711.7 533.5,712.1 536.2,712.2 538.9,712.1 541.5,711.7 544.2,711.1 546.9,710.2 549.6,709.2 552.3,708.1 555.0,706.8 557.7,705.4 560.4,703.9 563.0,702.2 565.7,700.5 568.4,698.7 571.1,696.9 573.8,694.9 576.5,692.9 579.2,690.9 581.8,688.7 584.5,686.6 587.2,684.3 589.9,682.1 592.6,679.8 595.3,677.4 598.0,675.1 600.7,672.7 603.3,670.4 606.0,668.1 608.7,665.8 611.4,663.5 614.1,661.3 616.8,659.2 619.5,657.2 622.2,655.2 624.8,653.4 627.5,651.8 630.2,650.2 632.9,648.9 635.6,647.7 638.3,646.7 641.0,645.9 643.6,645.3 646.3,645.0 649.0,644.8 651.7,644.9 654.4,645.1 657.1,645.6 659.8,646.3 662.5,647.2 665.1,648.2 667.8,649.5 670.5,650.9 673.2,652.5 675.9,654.3 678.6,656.2 681.3,658.3 683.9,660.4 686.6,662.7 689.3,665.1 692.0,667.5 694.7,670.1 697.4,672.7 700.1,675.3 702.8,678.1 705.4,680.8 708.1,683.6 710.8,686.4 713.5,689.3 716.2,692.1 718.9,695.0 721.6,697.9 724.3,700.8 726.9,703.6 729.6,706.5 732.3,709.4 735.0,712.2 737.7,715.1 740.4,717.9 743.1,720.7 745.7,723.5 748.4,726.2 751.1,729.0 753.8,731.7 756.5,734.4 759.2,737.0 761.9,739.6 764.6,742.3 767.2,744.8 769.9,747.4 772.6,749.9 775.3,752.4 778.0,754.9 780.7,757.3 783.4,759.7 786.1,762.1 788.7,764.5 791.4,766.8 794.1,769.1 796.8,771.4 799.5,773.7 802.2,775.9 804.9,778.1 807.5,780.2 810.2,782.4 812.9,784.5 815.6,786.6 818.3,788.7 821.0,790.7 823.7,792.7 826.4,794.7 829.0,796.7 831.7,798.6 834.4,800.6 837.1,802.5 839.8,804.4 842.5,806.2 845.2,808.0 847.8,809.9 850.5,811.6 853.2,813.4 855.9,815.2 858.6,816.9 861.3,818.6 864.0,820.3 866.7,822.0 869.3,823.6 872.0,825.3 874.7,826.9 877.4,828.5 880.1,830.1 882.8,831.6 885.5,833.2 888.2,834.7 890.8,836.2 893.5,837.7 896.2,839.2 898.9,840.6 901.6,842.1" fill="none" stroke="#b93791" stroke-width="4.6"/><polyline points="98.2,896.2 100.9,896.2 103.6,896.2 106.3,896.2 109.0,896.2 111.6,896.2 114.3,896.2 117.0,896.2 119.7,896.2 122.4,896.2 125.1,896.2 127.8,896.2 130.5,896.2 133.1,896.2 135.8,896.2 138.5,896.2 141.2,895.6 143.9,894.8 146.6,894.0 149.3,893.1 152.0,892.3 154.6,891.4 157.3,890.6 160.0,889.7 162.7,888.8 165.4,887.9 168.1,887.1 170.8,886.1 173.4,885.2 176.1,884.3 178.8,883.4 181.5,882.4 184.2,881.5 186.9,880.5 189.6,879.5 192.3,878.5 194.9,877.5 197.6,876.5 200.3,875.5 203.0,874.4 205.7,873.4 208.4,872.3 211.1,871.2 213.7,870.1 216.4,869.0 219.1,867.9 221.8,866.8 224.5,865.6 227.2,864.5 229.9,863.3 232.6,862.1 235.2,860.9 237.9,859.6 240.6,858.4 243.3,857.1 246.0,855.9 248.7,854.6 251.4,853.3 254.1,851.9 256.7,850.6 259.4,849.2 262.1,847.8 264.8,846.4 267.5,845.0 270.2,843.6 272.9,842.1 275.5,840.6 278.2,839.1 280.9,837.5 283.6,836.0 286.3,834.4 289.0,832.8 291.7,831.1 294.4,829.5 297.0,827.8 299.7,826.0 302.4,824.3 305.1,822.5 307.8,820.7 310.5,818.9 313.2,817.0 315.9,815.1 318.5,813.1 321.2,811.2 323.9,809.1 326.6,807.1 329.3,805.0 332.0,802.9 334.7,800.7 337.3,798.5 340.0,796.2 342.7,793.9 345.4,791.5 348.1,789.1 350.8,786.7 353.5,784.2 356.2,781.6 358.8,779.0 361.5,776.3 364.2,773.6 366.9,770.8 369.6,767.9 372.3,765.0 375.0,762.0 377.6,759.0 380.3,755.9 383.0,752.7 385.7,749.4 388.4,746.0 391.1,742.6 393.8,739.1 396.5,735.5 399.1,731.9 401.8,728.1 404.5,724.3 407.2,720.4 409.9,716.4 412.6,712.4 415.3,708.3 418.0,704.1 420.6,699.9 423.3,695.6 426.0,691.3 428.7,687.0 431.4,682.7 434.1,678.4 436.8,674.2 439.4,670.1 442.1,666.1 444.8,662.3 447.5,658.8 450.2,655.5 452.9,652.5 455.6,650.0 458.3,647.8 460.9,646.2 463.6,645.2 466.3,644.7 469.0,644.8 471.7,645.5 474.4,646.8 477.1,648.7 479.7,651.1 482.4,654.0 485.1,657.3 487.8,660.9 490.5,664.9 493.2,669.0 495.9,673.3 498.6,677.6 501.2,682.0 503.9,686.3 506.6,690.6 509.3,694.8 512.0,698.8 514.7,702.6 517.4,706.2 520.1,709.6 522.7,712.7 525.4,715.7 528.1,718.3 530.8,720.7 533.5,722.8 536.2,724.7 538.9,726.3 541.5,727.6 544.2,728.7 546.9,729.5 549.6,730.1 552.3,730.5 555.0,730.7 557.7,730.6 560.4,730.4 563.0,729.9 565.7,729.3 568.4,728.5 571.1,727.6 573.8,726.5 576.5,725.3 579.2,723.9 581.8,722.4 584.5,720.8 587.2,719.0 589.9,717.2 592.6,715.2 595.3,713.2 598.0,711.0 600.7,708.8 603.3,706.5 606.0,704.1 608.7,701.7 611.4,699.2 614.1,696.6 616.8,694.0 619.5,691.3 622.2,688.6 624.8,685.9 627.5,683.2 630.2,680.4 632.9,677.7 635.6,675.0 638.3,672.4 641.0,669.7 643.6,667.2 646.3,664.7 649.0,662.2 651.7,659.9 654.4,657.7 657.1,655.7 659.8,653.8 662.5,652.0 665.1,650.4 667.8,649.0 670.5,647.8 673.2,646.7 675.9,645.9 678.6,645.3 681.3,645.0 683.9,644.8 686.6,644.9 689.3,645.2 692.0,645.8 694.7,646.5 697.4,647.5 700.1,648.6 702.8,650.0 705.4,651.5 708.1,653.2 710.8,655.1 713.5,657.1 716.2,659.3 718.9,661.5 721.6,663.9 724.3,666.4 726.9,669.0 729.6,671.6 732.3,674.4 735.0,677.1 737.7,680.0 740.4,682.8 743.1,685.7 745.7,688.6 748.4,691.6 751.1,694.5 753.8,697.5 756.5,700.4 759.2,703.4 761.9,706.3 764.6,709.3 767.2,712.2 769.9,715.1 772.6,718.0 775.3,720.9 778.0,723.8 780.7,726.6 783.4,729.4 786.1,732.2 788.7,735.0 791.4,737.7 794.1,740.4 796.8,743.1 799.5,745.7 802.2,748.3 804.9,750.9 807.5,753.5 810.2,756.0 812.9,758.5 815.6,760.9 818.3,763.4 821.0,765.8 823.7,768.2 826.4,770.5 829.0,772.8 831.7,775.1 834.4,777.4 837.1,779.6 839.8,781.8 842.5,784.0 845.2,786.2 847.8,788.3 850.5,790.4 853.2,792.5 855.9,794.5 858.6,796.5 861.3,798.5 864.0,800.5 866.7,802.5 869.3,804.4 872.0,806.3 874.7,808.2 877.4,810.0 880.1,811.8 882.8,813.7 885.5,815.4 888.2,817.2 890.8,819.0 893.5,820.7 896.2,822.4 898.9,824.1 901.6,825.7" fill="none" stroke="#b44196" stroke-width="4.6"/><polyline points="98.2,896.2 100.9,896.2 103.6,896.2 106.3,896.2 109.0,896.2 111.6,896.2 114.3,896.2 117.0,896.2 119.7,895.5 122.4,894.7 125.1,894.0 127.8,893.2 130.5,892.5 133.1,891.7 135.8,891.0 138.5,890.2 141.2,889.4 143.9,888.6 146.6,887.8 149.3,887.0 152.0,886.2 154.6,885.4 157.3,884.6 160.0,883.7 162.7,882.9 165.4,882.0 168.1,881.2 170.8,880.3 173.4,879.5 176.1,878.6 178.8,877.7 181.5,876.8 184.2,875.9 186.9,875.0 189.6,874.1 192.3,873.2 194.9,872.3 197.6,871.3 200.3,870.4 203.0,869.4 205.7,868.5 208.4,867.5 211.1,866.5 213.7,865.5 216.4,864.5 219.1,863.5 221.8,862.5 224.5,861.5 227.2,860.4 229.9,859.4 232.6,858.3 235.2,857.3 237.9,856.2 240.6,855.1 243.3,854.0 246.0,852.9 248.7,851.8 251.4,850.7 254.1,849.6 256.7,848.4 259.4,847.3 262.1,846.1 264.8,845.0 267.5,843.8 270.2,842.6 272.9,841.4 275.5,840.2 278.2,838.9 280.9,837.7 283.6,836.5 286.3,835.2 289.0,833.9 291.7,832.6 294.4,831.3 297.0,830.0 299.7,828.7 302.4,827.4 305.1,826.0 307.8,824.7 310.5,823.3 313.2,821.9 315.9,820.5 318.5,819.1 321.2,817.7 323.9,816.3 326.6,814.8 329.3,813.4 332.0,811.9 334.7,810.4 337.3,808.9 340.0,807.4 342.7,805.9 345.4,804.4 348.1,802.8 350.8,801.3 353.5,799.7 356.2,798.1 358.8,796.5 361.5,794.9 364.2,793.3 366.9,791.7 369.6,790.0 372.3,788.4 375.0,786.7 377.6,785.0 380.3,783.4 383.0,781.7 385.7,779.9 388.4,778.2 391.1,776.5 393.8,774.8 396.5,773.1 399.1,771.3 401.8,769.6 404.5,767.8 407.2,766.1 409.9,764.3 412.6,762.6 415.3,760.9 418.0,759.2 420.6,757.5 423.3,755.8 426.0,754.1 428.7,752.4 431.4,750.8 434.1,749.2 436.8,747.7 439.4,746.2 442.1,744.8 444.8,743.5 447.5,742.3 450.2,741.2 452.9,740.2 455.6,739.4 458.3,738.8 460.9,738.4 463.6,738.3 466.3,738.5 469.0,738.9 471.7,739.6 474.4,740.1 477.1,739.7 479.7,736.6 482.4,727.8 485.1,710.6 487.8,687.6 490.5,666.5 493.2,653.1 495.9,647.0 498.6,645.1 501.2,645.0 503.9,645.6 506.6,646.2 509.3,646.8 512.0,647.1 514.7,647.3 517.4,647.3 520.1,647.1 522.7,646.9 525.4,646.7 528.1,646.4 530.8,646.1 533.5,645.8 536.2,645.5 538.9,645.2 541.5,645.1 544.2,644.9 546.9,644.9 549.6,644.9 552.3,645.1 555.0,645.3 557.7,645.6 560.4,646.0 563.0,646.6 565.7,647.2 568.4,647.9 571.1,648.8 573.8,649.8 576.5,650.8 579.2,652.0 581.8,653.3 584.5,654.6 587.2,656.1 589.9,657.7 592.6,659.3 595.3,661.0 598.0,662.8 600.7,664.7 603.3,666.6 606.0,668.6 608.7,670.7 611.4,672.8 614.1,675.0 616.8,677.2 619.5,679.4 622.2,681.7 624.8,684.0 627.5,686.4 630.2,688.7 632.9,691.1 635.6,693.5 638.3,695.9 641.0,698.4 643.6,700.8 646.3,703.3 649.0,705.7 651.7,708.1 654.4,710.6 657.1,713.0 659.8,715.5 662.5,717.9 665.1,720.3 667.8,722.8 670.5,725.2 673.2,727.6 675.9,729.9 678.6,732.3 681.3,734.7 683.9,737.0 686.6,739.3 689.3,741.6 692.0,743.9 694.7,746.2 697.4,748.5 700.1,750.7 702.8,752.9 705.4,755.1 708.1,757.3 710.8,759.5 713.5,761.6 716.2,763.8 718.9,765.9 721.6,768.0 724.3,770.0 726.9,772.1 729.6,774.1 732.3,776.1 735.0,778.1 737.7,780.1 740.4,782.1 743.1,784.0 745.7,785.9 748.4,787.8 751.1,789.7 753.8,791.6 756.5,793.4 759.2,795.2 761.9,797.0 764.6,798.8 767.2,800.6 769.9,802.4 772.6,804.1 775.3,805.8 778.0,807.5 780.7,809.2 783.4,810.9 786.1,812.5 788.7,814.2 791.4,815.8 794.1,817.4 796.8,819.0 799.5,820.6 802.2,822.1 804.9,823.7 807.5,825.2 810.2,826.7 812.9,828.2 815.6,829.7 818.3,831.2 821.0,832.6 823.7,834.1 826.4,835.5 829.0,836.9 831.7,838.3 834.4,839.7 837.1,841.1 839.8,842.4 842.5,843.8 845.2,845.1 847.8,846.4 850.5,847.7 853.2,849.0 855.9,850.3 858.6,851.6 861.3,852.8 864.0,854.1 866.7,855.3 869.3,856.5 872.0,857.8 874.7,859.0 877.4,860.2 880.1,861.3 882.8,862.5 885.5,863.7 888.2,864.8 890.8,865.9 893.5,867.1 896.2,868.2 898.9,869.3 901.6,870.4" fill="none" stroke="#e6000f" stroke-width="4.6"/><polyline points="98.2,896.2 100.9,896.2 103.6,896.2 106.3,896.2 109.0,896.2 111.6,896.2 114.3,896.2 117.0,896.2 119.7,896.2 122.4,896.2 125.1,896.2 127.8,896.2 130.5,896.2 133.1,896.2 135.8,895.5 138.5,894.8 141.2,894.0 143.9,893.3 146.6,892.5 149.3,891.7 152.0,890.9 154.6,890.2 157.3,889.4 160.0,888.6 162.7,887.8 165.4,887.0 168.1,886.1 170.8,885.3 173.4,884.5 176.1,883.6 178.8,882.8 181.5,881.9 184.2,881.1 186.9,880.2 189.6,879.3 192.3,878.4 194.9,877.5 197.6,876.6 200.3,875.7 203.0,874.8 205.7,873.9 208.4,872.9 211.1,872.0 213.7,871.1 216.4,870.1 219.1,869.1 221.8,868.1 224.5,867.2 227.2,866.2 229.9,865.2 232.6,864.1 235.2,863.1 237.9,862.1 240.6,861.0 243.3,860.0 246.0,858.9 248.7,857.8 251.4,856.8 254.1,855.7 256.7,854.6 259.4,853.4 262.1,852.3 264.8,851.2 267.5,850.0 270.2,848.9 272.9,847.7 275.5,846.5 278.2,845.3 280.9,844.1 283.6,842.9 286.3,841.7 289.0,840.4 291.7,839.2 294.4,837.9 297.0,836.6 299.7,835.3 302.4,834.0 305.1,832.7 307.8,831.4 310.5,830.0 313.2,828.6 315.9,827.3 318.5,825.9 321.2,824.5 323.9,823.1 326.6,821.6 329.3,820.2 332.0,818.7 334.7,817.2 337.3,815.7 340.0,814.2 342.7,812.7 345.4,811.2 348.1,809.6 350.8,808.0 353.5,806.4 356.2,804.8 358.8,803.2 361.5,801.5 364.2,799.9 366.9,798.2 369.6,796.5 372.3,794.8 375.0,793.0 377.6,791.3 380.3,789.5 383.0,787.7 385.7,785.9 388.4,784.0 391.1,782.2 393.8,780.3 396.5,778.4 399.1,776.5 401.8,774.5 404.5,772.5 407.2,770.5 409.9,768.5 412.6,766.5 415.3,764.4 418.0,762.3 420.6,760.2 423.3,758.0 426.0,755.8 428.7,753.6 431.4,751.4 434.1,749.1 436.8,746.8 439.4,744.5 442.1,742.1 444.8,739.7 447.5,737.2 450.2,734.7 452.9,732.2 455.6,729.6 458.3,726.9 460.9,724.1 463.6,721.3 466.3,718.3 469.0,715.2 471.7,711.9 474.4,708.5 477.1,704.7 479.7,700.5 482.4,695.7 485.1,690.2 487.8,683.5 490.5,675.3 493.2,665.2 495.9,654.3 498.6,646.1 501.2,646.1 503.9,653.6 506.6,662.4 509.3,668.6 512.0,672.1 514.7,673.4 517.4,673.5 520.1,672.8 522.7,671.6 525.4,670.2 528.1,668.5 530.8,666.7 533.5,664.9 536.2,663.1 538.9,661.3 541.5,659.5 544.2,657.8 546.9,656.2 549.6,654.6 552.3,653.1 555.0,651.7 557.7,650.5 560.4,649.3 563.0,648.3 565.7,647.4 568.4,646.6 571.1,646.0 573.8,645.5 576.5,645.1 579.2,644.9 581.8,644.9 584.5,645.0 587.2,645.2 589.9,645.6 592.6,646.2 595.3,646.9 598.0,647.7 600.7,648.7 603.3,649.8 606.0,651.0 608.7,652.3 611.4,653.8 614.1,655.3 616.8,657.0 619.5,658.8 622.2,660.6 624.8,662.6 627.5,664.6 630.2,666.7 632.9,668.9 635.6,671.1 638.3,673.4 641.0,675.7 643.6,678.0 646.3,680.4 649.0,682.9 651.7,685.3 654.4,687.8 657.1,690.3 659.8,692.8 662.5,695.4 665.1,697.9 667.8,700.4 670.5,703.0 673.2,705.5 675.9,708.1 678.6,710.6 681.3,713.1 683.9,715.7 686.6,718.2 689.3,720.7 692.0,723.2 694.7,725.7 697.4,728.1 700.1,730.6 702.8,733.0 705.4,735.4 708.1,737.8 710.8,740.2 713.5,742.6 716.2,744.9 718.9,747.2 721.6,749.6 724.3,751.8 726.9,754.1 729.6,756.3 732.3,758.6 735.0,760.8 737.7,762.9 740.4,765.1 743.1,767.2 745.7,769.4 748.4,771.5 751.1,773.5 753.8,775.6 756.5,777.6 759.2,779.6 761.9,781.6 764.6,783.6 767.2,785.6 769.9,787.5 772.6,789.4 775.3,791.3 778.0,793.2 780.7,795.1 783.4,796.9 786.1,798.7 788.7,800.5 791.4,802.3 794.1,804.1 796.8,805.8 799.5,807.5 802.2,809.2 804.9,810.9 807.5,812.6 810.2,814.3 812.9,815.9 815.6,817.5 818.3,819.1 821.0,820.7 823.7,822.3 826.4,823.9 829.0,825.4 831.7,826.9 834.4,828.4 837.1,829.9 839.8,831.4 842.5,832.9 845.2,834.3 847.8,835.8 850.5,837.2 853.2,838.6 855.9,840.0 858.6,841.4 861.3,842.8 864.0,844.1 866.7,845.5 869.3,846.8 872.0,848.1 874.7,849.4 877.4,850.7 880.1,852.0 882.8,853.3 885.5,854.5 888.2,855.8 890.8,857.0 893.5,858.2 896.2,859.4 898.9,860.6 901.6,861.8" fill="none" stroke="#e10532" stroke-width="4.6"/><polyline points="98.2,896.2 100.9,896.2 103.6,896.2 106.3,896.2 109.0,896.2 111.6,896.2 114.3,896.2 117.0,896.2 119.7,896.2 122.4,896.2 125.1,896.2 127.8,896.2 130.5,896.2 133.1,896.2 135.8,896.2 138.5,896.2 141.2,896.2 143.9,896.2 146.6,896.2 149.3,895.5 152.0,894.8 154.6,894.0 157.3,893.2 160.0,892.5 162.7,891.7 165.4,890.9 168.1,890.1 170.8,889.3 173.4,888.5 176.1,887.6 178.8,886.8 181.5,886.0 184.2,885.1 186.9,884.3 189.6,883.4 192.3,882.6 194.9,881.7 197.6,880.8 200.3,879.9 203.0,879.0 205.7,878.1 208.4,877.2 211.1,876.2 213.7,875.3 216.4,874.4 219.1,873.4 221.8,872.4 224.5,871.5 227.2,870.5 229.9,869.5 232.6,868.5 235.2,867.5 237.9,866.5 240.6,865.4 243.3,864.4 246.0,863.3 248.7,862.3 251.4,861.2 254.1,860.1 256.7,859.0 259.4,857.9 262.1,856.8 264.8,855.6 267.5,854.5 270.2,853.3 272.9,852.2 275.5,851.0 278.2,849.8 280.9,848.6 283.6,847.3 286.3,846.1 289.0,844.9 291.7,843.6 294.4,842.3 297.0,841.0 299.7,839.7 302.4,838.4 305.1,837.0 307.8,835.7 310.5,834.3 313.2,832.9 315.9,831.5 318.5,830.1 321.2,828.7 323.9,827.2 326.6,825.7 329.3,824.2 332.0,822.7 334.7,821.2 337.3,819.6 340.0,818.1 342.7,816.5 345.4,814.9 348.1,813.2 350.8,811.6 353.5,809.9 356.2,808.2 358.8,806.4 361.5,804.7 364.2,802.9 366.9,801.1 369.6,799.2 372.3,797.4 375.0,795.5 377.6,793.6 380.3,791.6 383.0,789.6 385.7,787.6 388.4,785.5 391.1,783.4 393.8,781.3 396.5,779.1 399.1,776.9 401.8,774.6 404.5,772.3 407.2,770.0 409.9,767.6 412.6,765.1 415.3,762.6 418.0,760.1 420.6,757.4 423.3,754.8 426.0,752.0 428.7,749.2 431.4,746.3 434.1,743.3 436.8,740.2 439.4,737.1 442.1,733.8 444.8,730.4 447.5,727.0 450.2,723.4 452.9,719.6 455.6,715.8 458.3,711.8 460.9,707.6 463.6,703.3 466.3,698.8 469.0,694.1 471.7,689.3 474.4,684.3 477.1,679.1 479.7,673.9 482.4,668.6 485.1,663.3 487.8,658.3 490.5,653.7 493.2,649.7 495.9,646.7 498.6,645.1 501.2,645.1 503.9,646.9 506.6,650.5 509.3,655.6 512.0,661.6 514.7,668.2 517.4,674.6 520.1,680.5 522.7,685.4 525.4,689.4 528.1,692.3 530.8,694.2 533.5,695.2 536.2,695.3 538.9,694.8 541.5,693.8 544.2,692.3 546.9,690.5 549.6,688.4 552.3,686.1 555.0,683.7 557.7,681.2 560.4,678.6 563.0,676.0 565.7,673.5 568.4,670.9 571.1,668.4 573.8,665.9 576.5,663.6 579.2,661.3 581.8,659.1 584.5,657.1 587.2,655.1 589.9,653.4 592.6,651.7 595.3,650.3 598.0,649.0 600.7,647.8 603.3,646.9 606.0,646.1 608.7,645.5 611.4,645.1 614.1,644.9 616.8,644.9 619.5,645.1 622.2,645.4 624.8,645.9 627.5,646.7 630.2,647.5 632.9,648.6 635.6,649.8 638.3,651.1 641.0,652.6 643.6,654.2 646.3,655.9 649.0,657.8 651.7,659.7 654.4,661.8 657.1,663.9 659.8,666.2 662.5,668.4 665.1,670.8 667.8,673.2 670.5,675.7 673.2,678.2 675.9,680.7 678.6,683.3 681.3,685.9 683.9,688.6 686.6,691.2 689.3,693.9 692.0,696.5 694.7,699.2 697.4,701.9 700.1,704.5 702.8,707.2 705.4,709.8 708.1,712.5 710.8,715.1 713.5,717.8 716.2,720.4 718.9,723.0 721.6,725.6 724.3,728.1 726.9,730.7 729.6,733.2 732.3,735.7 735.0,738.2 737.7,740.6 740.4,743.1 743.1,745.5 745.7,747.9 748.4,750.3 751.1,752.6 753.8,754.9 756.5,757.2 759.2,759.5 761.9,761.8 764.6,764.0 767.2,766.2 769.9,768.4 772.6,770.6 775.3,772.7 778.0,774.8 780.7,776.9 783.4,779.0 786.1,781.1 788.7,783.1 791.4,785.1 794.1,787.1 796.8,789.1 799.5,791.0 802.2,792.9 804.9,794.8 807.5,796.7 810.2,798.6 812.9,800.4 815.6,802.2 818.3,804.0 821.0,805.8 823.7,807.6 826.4,809.3 829.0,811.0 831.7,812.7 834.4,814.4 837.1,816.1 839.8,817.7 842.5,819.4 845.2,821.0 847.8,822.6 850.5,824.2 853.2,825.7 855.9,827.3 858.6,828.8 861.3,830.4 864.0,831.9 866.7,833.3 869.3,834.8 872.0,836.3 874.7,837.7 877.4,839.1 880.1,840.5 882.8,841.9 885.5,843.3 888.2,844.7 890.8,846.1 893.5,847.4 896.2,848.7 898.9,850.0 901.6,851.3" fill="none" stroke="#e6008c" stroke-width="4.6"/><polyline points="98.2,896.2 100.9,896.2 103.6,896.2 106.3,896.2 109.0,896.2 111.6,896.2 114.3,896.2 117.0,896.2 119.7,896.2 122.4,896.2 125.1,896.2 127.8,896.2 130.5,896.2 133.1,896.2 135.8,896.2 138.5,896.2 141.2,896.2 143.9,896.2 146.6,896.2 149.3,896.2 152.0,896.2 154.6,896.2 157.3,896.2 160.0,895.6 162.7,894.8 165.4,894.0 168.1,893.3 170.8,892.5 173.4,891.7 176.1,890.8 178.8,890.0 181.5,889.2 184.2,888.4 186.9,887.5 189.6,886.7 192.3,885.8 194.9,884.9 197.6,884.0 200.3,883.2 203.0,882.3 205.7,881.4 208.4,880.4 211.1,879.5 213.7,878.6 216.4,877.6 219.1,876.7 221.8,875.7 224.5,874.8 227.2,873.8 229.9,872.8 232.6,871.8 235.2,870.8 237.9,869.7 240.6,868.7 243.3,867.7 246.0,866.6 248.7,865.5 251.4,864.4 254.1,863.4 256.7,862.2 259.4,861.1 262.1,860.0 264.8,858.8 267.5,857.7 270.2,856.5 272.9,855.3 275.5,854.1 278.2,852.9 280.9,851.7 283.6,850.4 286.3,849.2 289.0,847.9 291.7,846.6 294.4,845.3 297.0,844.0 299.7,842.6 302.4,841.3 305.1,839.9 307.8,838.5 310.5,837.1 313.2,835.7 315.9,834.2 318.5,832.7 321.2,831.2 323.9,829.7 326.6,828.2 329.3,826.6 332.0,825.0 334.7,823.4 337.3,821.8 340.0,820.2 342.7,818.5 345.4,816.8 348.1,815.0 350.8,813.3 353.5,811.5 356.2,809.7 358.8,807.8 361.5,805.9 364.2,804.0 366.9,802.1 369.6,800.1 372.3,798.1 375.0,796.0 377.6,793.9 380.3,791.8 383.0,789.6 385.7,787.4 388.4,785.1 391.1,782.8 393.8,780.5 396.5,778.0 399.1,775.6 401.8,773.1 404.5,770.5 407.2,767.9 409.9,765.2 412.6,762.4 415.3,759.6 418.0,756.7 420.6,753.7 423.3,750.6 426.0,747.5 428.7,744.3 431.4,741.0 434.1,737.6 436.8,734.1 439.4,730.5 442.1,726.8 444.8,723.0 447.5,719.1 450.2,715.1 452.9,710.9 455.6,706.7 458.3,702.4 460.9,697.9 463.6,693.4 466.3,688.8 469.0,684.1 471.7,679.4 474.4,674.7 477.1,670.1 479.7,665.6 482.4,661.2 485.1,657.2 487.8,653.5 490.5,650.3 493.2,647.8 495.9,646.0 498.6,645.0 501.2,645.0 503.9,646.0 506.6,648.0 509.3,650.9 512.0,654.6 514.7,659.1 517.4,664.0 520.1,669.2 522.7,674.6 525.4,679.9 528.1,685.0 530.8,689.8 533.5,694.2 536.2,698.1 538.9,701.4 541.5,704.2 544.2,706.4 546.9,708.1 549.6,709.2 552.3,709.8 555.0,710.0 557.7,709.7 560.4,709.0 563.0,708.0 565.7,706.7 568.4,705.1 571.1,703.2 573.8,701.2 576.5,698.9 579.2,696.6 581.8,694.1 584.5,691.5 587.2,688.8 589.9,686.1 592.6,683.4 595.3,680.6 598.0,677.8 600.7,675.1 603.3,672.4 606.0,669.7 608.7,667.1 611.4,664.6 614.1,662.2 616.8,659.9 619.5,657.7 622.2,655.7 624.8,653.8 627.5,652.1 630.2,650.5 632.9,649.1 635.6,647.9 638.3,646.9 641.0,646.1 643.6,645.5 646.3,645.1 649.0,644.9 651.7,644.9 654.4,645.2 657.1,645.6 659.8,646.2 662.5,647.1 665.1,648.1 667.8,649.3 670.5,650.6 673.2,652.1 675.9,653.8 678.6,655.6 681.3,657.5 683.9,659.6 686.6,661.7 689.3,664.0 692.0,666.3 694.7,668.8 697.4,671.2 700.1,673.8 702.8,676.4 705.4,679.0 708.1,681.7 710.8,684.4 713.5,687.2 716.2,689.9 718.9,692.7 721.6,695.5 724.3,698.3 726.9,701.1 729.6,703.8 732.3,706.6 735.0,709.4 737.7,712.2 740.4,714.9 743.1,717.7 745.7,720.4 748.4,723.1 751.1,725.8 753.8,728.4 756.5,731.1 759.2,733.7 761.9,736.3 764.6,738.8 767.2,741.4 769.9,743.9 772.6,746.4 775.3,748.9 778.0,751.3 780.7,753.7 783.4,756.1 786.1,758.5 788.7,760.8 791.4,763.1 794.1,765.4 796.8,767.7 799.5,769.9 802.2,772.1 804.9,774.3 807.5,776.5 810.2,778.6 812.9,780.7 815.6,782.8 818.3,784.9 821.0,786.9 823.7,789.0 826.4,790.9 829.0,792.9 831.7,794.9 834.4,796.8 837.1,798.7 839.8,800.6 842.5,802.5 845.2,804.3 847.8,806.1 850.5,807.9 853.2,809.7 855.9,811.5 858.6,813.2 861.3,814.9 864.0,816.6 866.7,818.3 869.3,820.0 872.0,821.6 874.7,823.2 877.4,824.8 880.1,826.4 882.8,828.0 885.5,829.6 888.2,831.1 890.8,832.6 893.5,834.1 896.2,835.6 898.9,837.1 901.6,838.6" fill="none" stroke="#e1328c" stroke-width="4.6"/><polyline points="98.2,896.2 100.9,896.2 103.6,896.2 106.3,896.2 109.0,896.2 111.6,896.2 114.3,896.2 117.0,896.2 119.7,896.2 122.4,896.2 125.1,896.2 127.8,896.2 130.5,896.2 133.1,896.2 135.8,896.2 138.5,896.2 141.2,896.2 143.9,896.2 146.6,896.2 149.3,896.2 152.0,896.2 154.6,896.2 157.3,896.2 160.0,896.2 162.7,896.2 165.4,896.2 168.1,895.8 170.8,895.0 173.4,894.2 176.1,893.4 178.8,892.6 181.5,891.8 184.2,890.9 186.9,890.1 189.6,889.2 192.3,888.4 194.9,887.5 197.6,886.6 200.3,885.7 203.0,884.8 205.7,883.9 208.4,883.0 211.1,882.1 213.7,881.1 216.4,880.2 219.1,879.2 221.8,878.3 224.5,877.3 227.2,876.3 229.9,875.3 232.6,874.3 235.2,873.3 237.9,872.2 240.6,871.2 243.3,870.1 246.0,869.1 248.7,868.0 251.4,866.9 254.1,865.8 256.7,864.6 259.4,863.5 262.1,862.3 264.8,861.2 267.5,860.0 270.2,858.8 272.9,857.6 275.5,856.4 278.2,855.1 280.9,853.9 283.6,852.6 286.3,851.3 289.0,850.0 291.7,848.7 294.4,847.3 297.0,846.0 299.7,844.6 302.4,843.2 305.1,841.7 307.8,840.3 310.5,838.8 313.2,837.4 315.9,835.9 318.5,834.3 321.2,832.8 323.9,831.2 326.6,829.6 329.3,828.0 332.0,826.3 334.7,824.6 337.3,822.9 340.0,821.2 342.7,819.4 345.4,817.6 348.1,815.8 350.8,814.0 353.5,812.1 356.2,810.1 358.8,808.2 361.5,806.2 364.2,804.2 366.9,802.1 369.6,800.0 372.3,797.8 375.0,795.6 377.6,793.4 380.3,791.1 383.0,788.8 385.7,786.4 388.4,784.0 391.1,781.5 393.8,779.0 396.5,776.4 399.1,773.7 401.8,771.0 404.5,768.2 407.2,765.4 409.9,762.5 412.6,759.5 415.3,756.5 418.0,753.3 420.6,750.1 423.3,746.8 426.0,743.5 428.7,740.0 431.4,736.5 434.1,732.9 436.8,729.2 439.4,725.4 442.1,721.5 444.8,717.5 447.5,713.4 450.2,709.3 452.9,705.1 455.6,700.8 458.3,696.4 460.9,692.0 463.6,687.5 466.3,683.1 469.0,678.6 471.7,674.2 474.4,669.9 477.1,665.7 479.7,661.7 482.4,657.9 485.1,654.5 487.8,651.4 490.5,648.9 493.2,646.8 495.9,645.4 498.6,644.6 501.2,644.5 503.9,645.1 506.6,646.4 509.3,648.4 512.0,651.0 514.7,654.1 517.4,657.7 520.1,661.7 522.7,665.9 525.4,670.2 528.1,674.7 530.8,679.0 533.5,683.3 536.2,687.4 538.9,691.3 541.5,694.9 544.2,698.2 546.9,701.1 549.6,703.7 552.3,705.9 555.0,707.8 557.7,709.3 560.4,710.5 563.0,711.4 565.7,711.9 568.4,712.2 571.1,712.2 573.8,711.9 576.5,711.4 579.2,710.7 581.8,709.8 584.5,708.8 587.2,707.6 589.9,706.3 592.6,704.9 595.3,703.4 598.0,701.7 600.7,700.0 603.3,698.2 606.0,696.3 608.7,694.4 611.4,692.4 614.1,690.3 616.8,688.2 619.5,686.0 622.2,683.8 624.8,681.5 627.5,679.2 630.2,676.9 632.9,674.6 635.6,672.2 638.3,669.9 641.0,667.6 643.6,665.3 646.3,663.0 649.0,660.8 651.7,658.7 654.4,656.7 657.1,654.8 659.8,653.0 662.5,651.4 665.1,649.9 667.8,648.6 670.5,647.5 673.2,646.5 675.9,645.8 678.6,645.2 681.3,644.9 683.9,644.8 686.6,644.9 689.3,645.2 692.0,645.7 694.7,646.5 697.4,647.4 700.1,648.5 702.8,649.8 705.4,651.3 708.1,652.9 710.8,654.8 713.5,656.7 716.2,658.8 718.9,661.0 721.6,663.3 724.3,665.7 726.9,668.2 729.6,670.7 732.3,673.4 735.0,676.0 737.7,678.8 740.4,681.6 743.1,684.4 745.7,687.2 748.4,690.1 751.1,693.0 753.8,695.8 756.5,698.7 759.2,701.6 761.9,704.5 764.6,707.4 767.2,710.2 769.9,713.1 772.6,715.9 775.3,718.8 778.0,721.6 780.7,724.4 783.4,727.1 786.1,729.9 788.7,732.6 791.4,735.3 794.1,737.9 796.8,740.6 799.5,743.2 802.2,745.7 804.9,748.3 807.5,750.8 810.2,753.3 812.9,755.8 815.6,758.2 818.3,760.7 821.0,763.0 823.7,765.4 826.4,767.7 829.0,770.0 831.7,772.3 834.4,774.6 837.1,776.8 839.8,779.0 842.5,781.1 845.2,783.3 847.8,785.4 850.5,787.5 853.2,789.6 855.9,791.6 858.6,793.6 861.3,795.6 864.0,797.6 866.7,799.5 869.3,801.4 872.0,803.3 874.7,805.2 877.4,807.1 880.1,808.9 882.8,810.7 885.5,812.5 888.2,814.3 890.8,816.0 893.5,817.7 896.2,819.5 898.9,821.1 901.6,822.8" fill="none" stroke="#cd4691" stroke-width="4.6"/></g>
<path d="M236.5 874.8V866M236.5 613.7V622" stroke="#000" stroke-width="1.5"/>
<path d="M368.2 874.8V866M368.2 613.7V622" stroke="#000" stroke-width="1.5"/>
<path d="M499.9 874.8V866M499.9 613.7V622" stroke="#000" stroke-width="1.5"/>
<path d="M631.6 874.8V866M631.6 613.7V622" stroke="#000" stroke-width="1.5"/>
<path d="M763.3 874.8V866M763.3 613.7V622" stroke="#000" stroke-width="1.5"/>
<path d="M105.6 634.3H114M894.6 634.3H886" stroke="#000" stroke-width="1.5"/>
<path d="M105.6 735.0H114M894.6 735.0H886" stroke="#000" stroke-width="1.5"/>
<path d="M105.6 835.8H114M894.6 835.8H886" stroke="#000" stroke-width="1.5"/>
<text x="81.0" y="643.0" font-size="29.5">0</text>
<text x="62.2" y="742.8" font-size="29.5">−5</text>
<text x="46.2" y="844.5" font-size="29.5">−10</text>
<text x="96.2" y="907.5" font-size="29.5">−2</text>
<text x="360.4" y="907.1" font-size="29.5">0</text>
<text x="225.2" y="907.3" font-size="29.5" >−1</text>
<text x="491.4" y="907.3" font-size="29.5" >1</text>
<text x="622.8" y="907.3" font-size="29.5" >2</text>
<text x="754.3" y="907.3" font-size="29.5" >3</text>
<text x="886.2" y="907.3" font-size="29.5" >4</text>
<text transform="translate(42,821) rotate(-90) scale(0.975,1)" font-size="29.5">Rel. Trans. (dB)</text>
<text x="304.6" y="939.2" font-size="29.5">Frequency (linewidth units)</text>
<text x="369.3" y="834.0" font-size="29.5">Ch1</text>
<text x="543.4" y="834.0" font-size="29.5">Ch2</text>
<path d="M367.9 874.8V843" stroke="#000" stroke-width="3.5"/><path d="M359.7 845.5L367.9 829.5L376.09999999999997 845.5Z" fill="#000"/>
<path d="M541.8 874.8V843" stroke="#000" stroke-width="3.5"/><path d="M533.5999999999999 845.5L541.8 829.5L550.0 845.5Z" fill="#000"/>
</svg></body></html>
